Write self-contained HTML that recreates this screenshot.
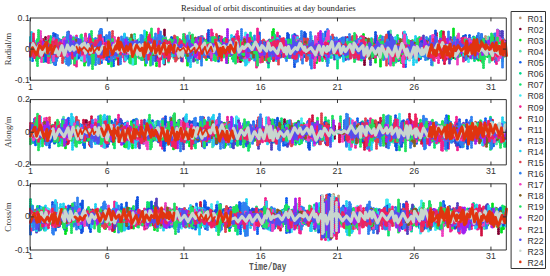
<!DOCTYPE html>
<html><head><meta charset="utf-8"><style>
html,body{margin:0;padding:0;background:#fff;}
body{width:550px;height:276px;position:relative;overflow:hidden;}
svg{position:absolute;left:0;top:0;}
.t{position:absolute;font-family:"Liberation Serif",serif;font-size:8.7px;line-height:10px;color:#222;white-space:nowrap;}
.xt{position:absolute;width:20px;text-align:center;font-family:"Liberation Sans",sans-serif;font-size:8.8px;line-height:10px;color:#333;}
.yt{position:absolute;right:520.2px;font-family:"Liberation Sans",sans-serif;font-size:8.8px;line-height:10px;color:#333;text-align:right;}
.yl{position:absolute;left:-22.5px;width:60px;height:10px;margin-top:-5px;text-align:center;font-family:"Liberation Serif",serif;font-size:8.8px;line-height:10px;color:#333;transform:rotate(-90deg);transform-origin:50% 50%;}
.lg{position:absolute;left:527.6px;font-family:"Liberation Sans",sans-serif;font-size:8.7px;line-height:10px;color:#333;}
.xl{position:absolute;font-family:"Liberation Mono",monospace;font-weight:bold;font-size:10px;line-height:10px;color:#555;transform:scaleX(0.78);transform-origin:0 0;}
</style></head><body>
<svg width="550" height="276" viewBox="0 0 550 276" fill="none" stroke-linecap="round" stroke-linejoin="round">
<g transform="translate(30.50 49.10) scale(0.5)"><path stroke="#b89878" stroke-width="6.0" stroke-dasharray="0 4.0" d="M0-5v6m6-11v12m2-13v15m8-13v18m2-15v13m2-7v10m2-10v17m6-17v7m10-23v25m2-13v10m4-11v15m2-29v27m2-19v23m2-17v9m2-8v6m8-15v14m2-18v18m2-5v7m4-8v7m2-11v14m2-12v11m2-9v7m4-2v4m2-4v1m2-7v11m4-7v10m6-9v8m2-14v11m4-5v9m6-11v7m6-10v6m2-8v12m10-11v5m12-12v16m2-29v43m2-23v29m2-28v13m2-13v10m2-12v17m4-15v5m6-10v14m2-8v20m2-31v20m16-14v8m2-9v8m4-2v6m2-3v1m2-2v7m2-8v7m6-14v20m6-29v23m2-18v24m2-15v5m2-2v11m2-25v26m6-15v12m2-9v9m2-12v5m2-5v6m2-19v19m2-22v29m2-16v17m4-20v13m8-7v4m2-5v6m2-3v12m2-14v7m6-7v9m2-16v16m2-16v22m6-27v17m2-18v26m4-24v16m2-17v25m4-16v9m2-8v9m2-9v18m4-16v13m12-16v15m2-8v16m4-16v23m4-36v23m2-9v11m4-13v9m14-6v12m18-19v6m4-6v8m2-8v10m8-10v2m2-4v13m2-21v17m4-10v6m2-11v13m2-10v9m8-5v4m8-12v20m2-13v21m2-20v12m4-11v8m2-7v16m2-11v1m2-8v20m2-17v17m8-19v13m2-21v19m2-9v2m8-7v6m4-8v13m4-9v6m8-1v2m6 1v6m4-7v14m2-28v27m2-13v9m4-12v6m14-13v29m4-25v11m2-6v6m6-9v9m2-6v5m4-11v18m2-23v23m2-31v32m2-23v30m2-22v12m4-9v8m2-18v17m6-7v7m8-7v7m2-7v15m6-19v12m2-8v10m8-11v6m2-21v23m4-6v0m4-5v7m2-9v10m4-14v22m2-17v10m6-12v15m2-16v11m6-5v11m2-19v30m2-24v17m2-13v6m4-6v10m12-10v1m26-2v16m6-16v9m6-9v6m2-10v7m6-5v10m16-9v10m2-17v21m4-18v11m6-10v7m4-4v5m12-5v6m6-13v11m4-5v10m2-15v12m26-12v10m2-7v10m2-16v13m2-8v18m2-19v21m2-19v19m8-19v22m4-25v14m2-14v14m4-12v9m8-4v8m6-5v11m2-11v5m8-11v6m2-4v3m2-5v11m2-21v22m2-22v17m2-5v3m2-8v5m4-4v7m2-11v9m8-8v11m6-6v2m20-1v17m4-17v20m2-19v11m12-12v7m2-21v24m2-17v20m2-20v21m2-21v7m2-7v8m2-5v8m2-9v4m4-16v19m2-7v23m2-40v34m2-35v27m2-10v12m16-13v12m2-8v19m8-13v0m4-5v6m2-7v10m2-11v8m2-10v14m2-11v7m6-11v9m2-4v9m2-16v14m4-26v23m2-6v14m2-12v6m2-10v14m2-10v2m8-3v8m2-11v9m4-12v22m2-30v28m2-27v24m2-23v19m6-8v9m2-19v20"/><path stroke="#800030" stroke-width="6.0" stroke-dasharray="0 4.0" d="M4-4v14m2-13v18m2-14v1m2-3v8m2-7v1m4-3v7m2-11v8m6 0v0m4-11v25m2-39v43m2-21v13m10-14v18m2-16v7m6-5v0m2-8v11m2-5v16m6-30v18m2-21v21m14-9v16m8-22v11m2-5v9m2-17v14m2-9v22m2-25v13m4-20v22m4-16v11m6-3v1m2 0v5m4-6v8m4-8v10m8-18v14m2-8v9m4-15v19m2-26v22m2-15v13m2-5v10m4-10v7m2-23v23m6-3v1m4-3v11m2-15v8m6-6v9m6-8v10m2-7v12m2-16v10m6-5v8m10-10v6m4-9v13m4-7v7m8-13v13m2-11v6m8-8v13m2-24v24m4-16v13m2-10v13m2-21v11m10 0v7m2-6v18m2-26v26m4-20v17m2-16v13m12-10v8m2-10v7m2-4v1m4-6v11m6-47v69m2-46v28m6-9v2m2-3v13m2-14v13m6-20v11m6-13v14m2-6v19m2-22v18m4-19v8m10-5v12m4-21v18m2-16v16m6-16v21m2-13v16m2-15v9m2-9v9m4-10v8m4-7v1m2-7v10m2-15v28m2-24v15m6-11v8m4-11v8m2-6v9m4-9v18m2-33v32m2-25v28m2-28v23m2-18v12m4-12v7m4-12v10m2-6v6m2-25v29m6-18v14m2-8v9m4-7v13m2-11v6m4-7v8m2-10v17m2-25v30m2-26v18m4-7v1m2-10v15m2-13v22m2-19v9m4-9v8m2-6v18m2-19v29m2-37v19m6-6v10m2-10v9m10-8v7m4-9v8m6-10v7m2-12v19m2-15v10m4-12v7m10-11v8m2-4v11m8-23v18m2-8v12m4-17v9m2-3v7m6-8v12m10-12v5m12-6v9m2-15v18m2-19v13m2-14v20m2-11v12m2-14v11m8-24v20m2-17v13m2-8v12m6-6v6m4-13v27m2-28v24m4-26v18m2-19v27m2-22v16m2-15v6m4-7v7m4-3v4m2-9v10m2-6v16m4-22v32m2-21v10m2-9v1m8-2v6m8-6v7m4-19v29m2-25v22m10-11v3m2-13v21m4-14v6m2-9v17m2-17v10m2-5v3m2-6v7m8-13v17m2-12v10m2-11v8m2-10v10m4-11v10m2-5v2m2-13v15m6-6v11m2-14v17m2-22v23m4-30v27m2-11v9m6-11v44m2-56v28m8-15v15m2-9v15m2-17v8m2-18v23m2-16v27m2-25v9m4-9v9m2-5v2m8-7v11m2-8v18m2-25v15m2-6v7m6-7v4m4-12v30m2-23v8m4-7v9m2-11v10m6-14v5m2-3v11m2-16v7m4-2v5m2-8v11m2-10v3m2-26v38m2-24v30m2-23v13m6-10v10m6-8v7m2-9v15m4-13v8m14-5v11m2-13v10m2-7v4m2-4v8m2-12v6m14-16v13m2-10v13m22 1v1m2-4v17m10-17v3m2-5v9m4-14v25m2-26v19m12-17v9m10-10v11m2-16v12m2-5v8m2-10v9m2-10v15m2-19v13m4-4v16m8-24v11m2-4v7m2-13v11m6-5v0m4-2v12m2-19v13m2-5v9m4-6v7m4-5v5m8-2v1m4-4v6m2-7v8m8-7v7m6-3v9m2-9v1m2-6v7"/><path stroke="#00e020" stroke-width="6.0" stroke-dasharray="0 4.0" d="M0-18v23m4-17v22m2-16v13m2-11v11m2-8v15m2-16v25m2-24v6m2-9v22m2-25v16m2-10v9m2-14v27m2-31v24m2-20v12m2-1v1m2-12v27m4-36v43m2-43v26m2-23v21m2-13v6m2-10v12m2-20v23m6-10v8m8-10v9m2-13v15m2-20v17m4-7v2m4-8v11m4-5v9m2-7v15m2-13v12m2-11v9m10-5v9m2-28v26m2-14v24m8-19v4m4-7v19m2-23v38m2-60v56m4-26v7m4-7v0m6-5v10m2-9v8m2-18v16m2-21v40m2-28v14m2-12v15m2-34v27m2-8v5m12-9v16m4-34v35m2-15v34m10-32v8m4-11v27m2-23v14m2-27v20m2-17v44m2-38v23m6-24v11m2-20v21m4-11v6m8-4v4m2-13v14m2-8v13m8-13v8m2-7v2m4-16v19m4-4v6m6-22v25m2-14v25m2-33v50m2-67v54m6-26v8m2-13v13m4-17v24m2-11v6m2-9v6m2-6v13m2-28v55m4-49v39m4-29v16m2-12v8m2-19v26m6-29v14m2-14v11m2-5v15m2-24v31m4-24v7m14-2v19m2-18v6m2-8v11m14-5v20m2-25v37m4-39v17m2-23v23m2-12v9m4-10v19m2-30v16m2-21v41m8-26v9m6-11v9m2-17v18m2-6v17m2-33v32m2-26v34m6-46v41m2-24v8m4-13v14m2-20v28m2-18v7m6-23v34m6-19v23m6-23v9m2-14v15m4-10v29m2-34v41m2-42v27m2-18v18m2-18v13m2-18v20m2-11v22m4-19v16m4-18v13m2-8v17m6-28v27m2-12v15m2-24v16m2-9v18m2-37v34m4-19v20m2-16v7m16-19v18m2-25v18m2-6v3m2-6v4m10-5v28m2-39v38m2-24v5m6-16v17m2-17v26m2-21v14m2-12v13m2-42v43m2-48v47m2-15v7m10-14v27m2-13v8m2-9v6m6-6v6m4-18v22m4-13v21m4-27v17m4-15v20m2-26v16m2-20v18m4-7v16m2-23v33m2-39v23m8-7v6m4-11v13m2-15v17m2-19v23m2-20v15m2-5v5m8-13v13m2-4v0m2 0v2m2-6v5m2-11v38m2-30v21m6-36v37m2-28v9m4-16v24m2-13v9m2-9v11m2-15v11m2-11v13m2-9v22m2-21v12m2-17v10m2-4v7m2-23v23m8-4v1m2-2v6m2-9v6m2-3v18m4-24v10m10-7v10m4-22v26m2-30v23m2-13v12m2-7v9m2-9v20m2-22v19m4-18v13m4-5v13m4-33v30m2-22v24m6-45v47m2-23v23m2-19v12m4-16v7m2-4v13m2-20v26m2-20v18m2-22v19m4-15v8m4-23v48m2-37v11m6-7v18m2-33v56m4-46v22m2-26v23m2-21v28m2-28v18m4-34v35m14-9v2m2-6v16m4-23v16m2-18v17m4-14v29m2-32v44m2-42v25m10-16v7m2-9v11m2-7v12m6-25v26m2-20v11m2-14v10m2-18v17m2-3v6m2-7v12m4-18v15m4-11v8m4-5v4m4-3v11m2-17v12m2-8v9m6-7v14m4-18v21m2-17v9m4-15v24m6-26v9m4-7v21m2-47v51m4-25v7m10-8v9m4-5v3m2-7v32m4-62v47m2-25v25m6-23v26m6-13v11m2-20v21m12-16v14m16-12v11m2-9v16m2-17v27m2-37v37m2-35v21m10-11v19m2-21v13m2-6v10m2-10v14m2-27v23m2-20v19m4-10v22m2-26v7m2-15v14m2-15v14m4-10v7m2-14v21m6-10v8m6-16v17m2-16v26"/><path stroke="#50e0a8" stroke-width="6.0" stroke-dasharray="0 4.0" d="M2-4v12m2-16v16m4-19v15m4-8v11m6-7v2m4-10v15m2-9v12m2-17v22m4-22v25m2-16v10m6-14v12m2-19v39m2-37v29m10-33v16m2-10v12m6-10v6m4-6v11m4-20v17m4-17v15m2-7v7m2-14v13m2-8v13m6-14v8m2-6v17m2-16v14m4-18v13m2-24v24m2-22v22m2-19v17m2-16v16m2-10v7m2-9v13m4-24v30m4-18v23m4-17v6m8-10v17m2-30v20m4-8v7m6-1v10m4-9v1m6-9v9m2-7v13m6-14v8m2-11v7m2-3v10m2-22v20m8-4v8m2-15v23m2-25v15m2-5v3m2-7v7m2-11v22m4-19v10m2-11v8m2-3v10m2-15v22m2-19v13m2-14v8m2-25v38m2-19v13m2-24v24m2-16v12m2-14v7m4-7v12m10-15v6m2-9v12m2-8v5m14 0v7m6-21v33m2-42v37m4-16v16m2-24v19m2-20v22m2-20v21m4-13v9m4-6v8m6-5v7m2-25v28m2-23v27m2-13v8m2-7v11m2-23v37m2-44v37m2-19v16m6-16v17m2-19v22m22-28v8m2-9v12m4-21v26m2-41v41m2-24v19m4-10v11m2-14v14m6-11v25m2-28v40m2-44v23m6-17v11m2-29v34m2-17v23m2-27v11m2-1v8m2-8v9m2-9v13m4-17v11m4-2v1m6-3v12m2-17v23m2-34v23m2-7v12m2-13v12m8-10v1m4-13v12m4-7v9m2-10v8m4-7v1m8-7v17m2-16v11m4-7v7m6 1v1m4 0v6m2-15v25m4-17v7m2-4v0m6-6v15m2-16v19m4-21v15m6-29v36m2-23v26m2-26v10m2-6v8m2-14v19m2-17v17m8-28v27m2-22v14m2-9v10m8-18v18m2-20v19m4-16v19m2-15v18m2-12v15m2-18v21m6-12v1m8-8v11m2-14v12m2-7v9m4-11v15m2-34v25m2-15v13m4-15v33m2-31v18m2-19v18m2-8v22m4-21v13m2-12v6m4-5v12m2-23v19m4-13v12m2-5v8m10-9v2m2-9v10m4-12v9m4-9v8m10-2v10m4-13v11m2-16v17m2-13v23m2-27v32m2-23v9m2-9v12m2-13v14m2-14v4m2-1v0m2-3v8m2-7v13m2-26v34m2-26v25m2-28v21m8-15v9m2-7v8m8-11v16m4-14v14m8-18v9m2-4v2m2-6v6m4-13v15m2-17v20m4-15v15m4-5v8m4-11v16m16-17v6m4-9v10m2-12v12m4-13v8m4-6v14m2-17v17m2-17v11m2-16v26m2-17v8m2-10v9m2-11v22m2-18v6m6-10v9m2-16v14m2-19v36m2-31v17m2-23v19m4-7v8m2-32v43m2-30v24m4-12v12m24-5v14m6-18v14m2-9v10m6-8v7m2-8v13m10-17v12m4-11v8m2-2v5m2-7v8m2-11v10m8-11v12m4-21v30m6-16v33m2-57v46m2-25v18m2-16v8m2-6v10m10-11v8m2-8v3m10-6v15m2-14v11m4-11v7m2-18v21m2-25v22m2-20v18m2-9v8m2-12v13m4-19v27m2-32v25m2-18v17m4-14v13m2-7v1m2-4v7m4-12v17m4-11v7m6-8v6m2-2v5m4-10v9m8-8v14m2-16v10m2-15v21m8-15v14m8-6v15m2-38v34m2-8v25m2-30v11m10-17v13m4-15v15m2-8v6m2-3v6m4-11v22m2-37v33m6-21v10"/><path stroke="#1060f0" stroke-width="6.0" stroke-dasharray="0 4.0" d="M2-14v23m2-22v37m2-31v16m2-15v7m2-5v11m10-18v23m2-11v18m18-37v24m2-27v28m4-38v56m2-39v32m2-20v6m2-5v1m2-5v7m2-22v34m4-14v7m6-13v18m4-18v14m2-12v23m4-23v7m2-25v28m2-17v30m2-28v15m8-15v25m4-30v23m2-19v29m2-23v13m6-21v30m2-23v13m2-22v35m2-35v40m2-29v18m6-22v14m12-8v2m8-11v15m2-22v21m2-13v38m2-32v12m2-9v6m6-5v23m2-40v29m2-12v27m2-41v20m2-12v25m2-17v15m2-42v45m2-40v54m2-47v18m4-4v7m2-12v9m2-10v8m2-4v8m4-10v9m2-14v15m4-36v45m2-29v35m4-41v28m2-11v22m10-20v5m2-13v13m2-10v13m4-11v6m2-7v7m12-8v15m2-15v20m2-21v15m8-16v9m4-10v7m6-9v21m6-14v9m6-8v6m2-11v6m2-6v8m4-7v11m2-18v23m6-17v14m2-22v19m2-13v8m6-12v14m2-16v15m2-11v20m2-27v19m6-15v19m6-27v21m2-16v17m4-13v19m4-19v12m12-19v16m2-12v13m2-6v8m2-13v9m8-4v7m2-11v7m2-14v21m4-13v8m4-5v6m8-9v33m2-36v21m6-12v6m10-6v8m2-6v20m2-21v10m4-8v3m2-7v20m2-23v23m2-27v18m2-10v8m8-6v14m4-35v45m2-30v27m6-21v10m2-7v2m2-3v8m2-16v10m2-18v26m2-28v23m2-16v27m2-22v19m2-19v12m2-12v7m6-4v11m2-28v28m2-20v20m8-17v17m4-16v28m2-51v40m4-14v18m6-15v7m8-5v2m10-7v12m2-20v18m4-16v11m2-6v9m2-17v28m2-38v29m10-14v15m2-23v24m4-12v9m2-7v7m2-19v30m2-17v17m4-23v25m2-25v11m4-27v41m2-42v43m8-21v7m6-6v7m2-8v10m2-11v11m4-12v13m2-17v11m6-15v14m2-4v9m2-15v13m4-27v29m2-10v12m16-19v23m2-45v44m2-23v28m6-31v26m2-18v13m6-13v9m6-15v21m2-14v8m2-12v14m2-18v14m2-16v17m2-11v21m4-23v12m4-13v12m4-9v10m2-10v12m4-15v16m2-24v32m4-17v8m8-12v16m6-19v23m2-25v13m4-4v3m6-6v8m2-3v9m2-7v2m2-3v13m16-12v4m4-12v28m14-24v22m4-43v50m2-39v22m8-17v39m6-41v18m2-6v9m6-13v8m4-10v9m6-30v67m2-58v42m2-29v6m4-2v6m8-15v28m2-19v12m2-15v8m4-5v7m2-15v24m2-18v21m2-25v29m2-23v19m6-12v0m8-12v25m6-11v5m8-11v12m4-11v8m2-9v8m6-9v12m6-17v24m2-37v32m6-17v9m2-11v19m2-17v26m2-28v8m2-6v14m2-28v22m2-10v15m2-24v19m2-12v10m2-16v14m4-14v11m4-5v6m4-20v35m2-17v17m2-32v43m4-31v9m4-14v19m8-31v31m8-13v25m4-22v2m2-7v21m2-21v12m2-18v17m2-10v11m2-14v9m2-14v14m2-11v15m2-9v7m2-3v8m2-21v24m2-10v11m6-14v13m2-23v21m2-26v46m2-35v31m2-30v20m2-15v7m2-6v5m2-10v6m6-5v10m2-13v12m2-15v16"/><path stroke="#00d890" stroke-width="6.0" stroke-dasharray="0 4.0" d="M0-5v11m6-9v13m2-15v12m2-9v0m4-16v22m2-10v15m4-27v18m2-9v17m4-27v48m2-37v20m4-28v13m4-6v10m4-6v4m4-11v26m6-21v7m2-15v14m2-5v9m2-8v10m2-18v25m2-30v16m2-8v23m6-34v22m6-5v8m2-12v7m4-11v10m2-9v12m4-8v10m2-15v10m8-16v23m2-15v18m6-5v9m2-14v23m2-20v9m2-12v14m4-10v9m6-10v4m4-5v9m2-10v19m4-19v6m2-2v9m4-16v11m6-8v8m12-12v8m2-15v17m2-14v12m12-8v8m8-9v7m4-12v10m6-4v7m4-9v7m6-3v7m4-12v9m12-7v11m4-8v11m2-9v5m2-4v7m10-17v20m2-22v22m8-21v32m4-25v9m2-8v18m2-13v12m2-13v17m6-14v7m2-7v7m2-11v9m2-9v11m2-11v5m6-5v6m12-11v16m6-11v10m2-11v4m8-11v15m4-9v7m4-7v7m2-28v24m2-7v27m2-28v8m4-11v5m10-5v13m4-15v19m2-24v30m4-23v5m8-7v13m2-9v23m2-20v20m2-20v13m2-24v30m2-27v30m4-23v11m6-12v12m2-18v28m2-29v28m10-15v12m2-13v13m2-9v6m2-19v19m2-10v15m2-11v0m2-5v10m4-10v10m2-11v9m4-17v16m2-25v36m2-35v45m2-45v28m2-12v17m2-18v7m12-9v13m2-10v0m2-6v14m2-24v27m2-26v22m4-12v20m2-33v21m2-31v48m2-37v43m2-29v7m2-4v9m2-10v7m12-7v10m2-5v10m4-10v9m2-19v15m4-8v7m2-6v31m2-45v54m4-46v12m10-27v19m2-11v31m6-33v14m2-11v11m4-6v9m4-8v11m4-11v9m4-5v6m2-9v13m6-15v21m2-29v26m2-15v23m6-19v8m8-27v37m2-31v25m4-13v10m4-9v8m2-15v15m2-9v16m2-26v20m4-12v18m6-23v16m2-14v14m12-17v24m2-30v36m2-28v20m2-14v0m4-8v10m4-8v11m2-8v9m2-7v21m8-16v2m10 0v2m2 0v0m8-8v8m6-14v28m2-31v18m2-6v2m2-6v7m6-9v7m2-7v14m2-13v6m2-7v16m2-11v2m4-9v14m2-13v29m2-24v27m6-38v17m2-12v25m8-26v26m2-23v11m4-8v5m4-10v13m2-11v15m4-25v20m2-9v17m2-26v17m2-17v12m4-6v8m2-6v21m2-28v27m2-17v2m4-1v1m10-17v21m2-4v18m4-30v22m4-17v13m2-13v10m6-14v12m2-8v7m2-11v10m4-5v5m6-5v11m2-11v15m2-15v9m2-5v6m14 1v4m4-9v16m2-15v13m2-23v20m2-15v12m6-7v10m2-26v39m2-43v23m4-4v1m2-8v8m2-9v20m2-21v33m2-38v30m2-34v32m2-28v16m2-10v4m4-6v6m4-10v11m4-5v11m2-8v3m6-2v17m2-25v35m4-27v25m2-33v18m2-13v9m4-10v11m2-15v33m2-30v24m2-30v25m2-14v12m4-22v30m2-23v13m4-27v19m2-18v21m6-12v11m2-3v7m2-11v8m6-7v15m4-25v42m6-46v30m4-13v6m2-7v11m2-14v15m2-14v10m2-11v9m8-10v18m4-13v11m2-5v9m4-19v21m12-13v6m8-6v25m2-40v22m2-6v6m2-4v3"/><path stroke="#10e070" stroke-width="6.0" stroke-dasharray="0 4.0" d="M2-6v14m2-23v20m2-18v13m4-8v12m2-10v8m2-9v10m10-11v17m6-17v10m2-4v5m2-7v13m6-34v41m2-22v23m2-20v12m6-10v12m2-15v7m4-11v21m2-22v20m4-16v8m4-26v25m2-10v14m4-13v7m2-12v18m6-26v51m2-46v18m6-7v11m6-8v19m2-18v13m4-18v11m2-8v25m4-25v13m12-30v41m4-25v17m2-20v25m2-25v8m4-7v12m2-10v9m2-6v7m2-15v21m2-14v9m12-6v5m2-8v11m4-22v20m2-7v4m2-11v14m2-26v56m4-47v26m2-34v25m2-6v1m2-13v15m2-16v16m2-14v17m2-9v8m4-15v14m4-11v9m2-12v30m2-28v21m2-16v8m2-9v12m4-12v30m2-47v30m4-25v25m2-21v41m2-60v36m2-22v48m10-33v6m6-6v10m4-9v6m2-12v7m2-10v31m2-24v2m8-4v1m4-3v7m4-8v11m4-9v19m2-14v9m4-17v16m2-6v8m2-11v5m2-3v12m2-16v11m2-18v12m2-5v22m8-22v2m4-4v14m2-23v32m2-27v12m2-8v9m8-9v10m2-6v3m4-9v9m2-14v12m8-15v16m6-4v1m10-10v25m4-13v6m4-2v6m2-11v6m2-2v5m14-9v2m2-3v7m2-5v6m2-9v8m2-10v12m6-9v8m4-7v4m2-13v14m2-28v28m2-14v15m2-8v6m2-6v16m2-13v8m4-8v7m10-7v0m6-5v10m2-20v23m2-13v5m2-5v13m2-12v6m2-3v10m2-21v17m4-7v10m2-6v12m8-16v20m2-38v26m2-16v27m2-38v32m2-35v24m12-4v5m2-6v16m2-22v22m4-14v4m2-3v8m2-14v12m2-5v3m6-12v13m2-17v16m2-9v8m2-19v16m4-10v10m2-22v21m2-26v52m2-49v30m2-14v6m6 0v5m2-4v3m4-11v16m2-5v9m2-9v7m2-22v25m4-17v21m2-18v7m2-23v37m8-31v26m2-14v11m6-18v16m2-9v10m4-11v10m4-13v14m2-19v25m2-20v15m10-17v28m2-35v34m6-31v21m6-20v13m2-7v11m6-5v5m2-10v9m2-11v31m2-33v20m4-14v7m2-22v43m4-30v22m4-24v8m6-11v13m2-16v11m2-14v14m2-14v22m2-22v53m2-42v20m2-27v19m2-10v12m2-17v15m2-12v16m4-18v15m2-7v11m6-15v19m2-13v14m2-17v9m2-10v14m4-16v16m2-39v42m4-26v13m2-11v16m2-14v15m2-16v12m2-17v11m2-7v18m4-14v1m4-17v26m2-12v8m4-14v11m2-7v10m2-6v0m2-1v13m2-14v19m4-22v16m2-30v37m2-28v27m6-37v40m2-44v38m2-17v16m2-12v2m6-5v8m10-16v16m2-28v34m2-24v17m8-10v7m2-27v39m2-33v46m2-41v32m2-32v14m2-4v7m2-14v14m10-7v18m2-17v16m2-20v9m2-7v18m4-28v23m2-11v11m6-16v29m4-28v23m2-37v27m2-16v32m6-27v17m10-9v17m4-20v20m2-17v12m2-10v6m4-23v18m4-6v7m2-17v16m6-11v4m2-3v5m2-7v10m2-23v21m8-12v9m2-13v14m4-6v9m2-11v9m22-10v20m2-34v44m2-36v24m12-25v31m2-27v35m2-28v20m6-13v4m2-9v15m2-14v19m2-15v7m2-11v8m16-7v6m4-13v26m12-24v12m4-10v18m2-30v26m6-19v25m2-26v17m2-13v10m2-7v12"/><path stroke="#40e8f0" stroke-width="6.0" stroke-dasharray="0 4.0" d="M0-23v45m2-32v16m8-16v8m6-6v5m2-4v12m4-24v28m2-22v17m4-15v11m4-9v6m6-7v5m2-13v20m2-10v7m2-16v13m4-3v11m2-15v18m2-16v30m8-28v6m2-8v10m2-7v12m4-9v2m2-5v8m2-10v6m4-3v5m4-8v5m2-7v26m2-25v31m2-46v32m2-21v15m2-13v10m8-12v20m2-33v46m2-33v33m2-42v36m2-22v35m2-34v28m2-25v6m4-13v21m2-14v18m2-18v8m2-4v13m2-12v8m2-19v23m2-10v12m2-18v21m6-18v5m2-8v11m2-19v35m2-46v37m2-14v2m4-8v17m8-12v6m8-9v7m2-5v4m2-6v22m2-24v21m6-16v6m2-3v6m6-7v8m2-6v5m4-14v16m2-9v10m4-5v0m2-4v9m4-9v8m2-7v15m2-33v47m2-59v48m2-24v30m2-28v10m2-16v14m2-20v22m2-18v10m2-21v28m2-36v28m4-9v24m2-23v13m4-11v1m8-5v12m4-2v6m6-20v23m2-22v40m14-30v7m4-10v13m8-14v10m2-10v14m2-17v18m2-20v14m4-9v9m6-13v11m2-13v30m2-27v22m8-28v22m2-12v10m4-13v11m2-9v16m2-28v20m4-13v32m6-31v11m2-14v28m4-24v12m2-10v20m2-15v8m4-10v15m2-10v6m4-13v11m6-7v9m4-19v30m2-17v0m2-9v20m2-16v15m6-21v24m4-20v12m2-9v5m4-2v7m2-11v10m2-9v7m8-3v6m2-11v10m6-21v21m2-18v20m2-26v32m2-23v17m2-13v14m2-9v15m2-18v8m4-9v10m2-16v22m2-12v12m2-11v6m4-15v11m2-12v24m2-20v14m2-17v34m2-58v52m2-27v13m2-12v32m2-44v45m2-31v9m2-12v11m10-15v9m2-18v19m4-4v7m8-10v8m2-5v3m10-14v14m2-9v18m4-15v13m2-24v28m2-14v11m2-13v15m2-11v6m4-7v6m2-14v26m4-22v5m2-1v1m2-5v11m2-11v13m2-8v5m2-15v16m2-16v17m2-7v6m2-3v7m6-7v13m2-27v34m2-35v36m2-21v15m4-16v6m2-10v10m4-16v11m2-9v11m4-9v6m2-11v13m2-15v25m2-25v25m2-17v6m2-4v7m2-7v11m2-14v26m2-33v45m2-56v46m10-21v8m2-5v7m2-10v11m10-12v19m6-23v17m2-18v12m4-16v17m6-8v7m8-2v13m2-33v35m2-37v39m2-29v18m6-10v14m2-26v26m2-15v8m2-18v13m4-13v12m2-10v10m8-7v9m4-13v12m4-11v20m2-18v17m4-19v7m6-16v26m8-14v11m6-7v13m4-30v36m2-33v21m2-10v11m2-8v11m6-6v1m4-8v20m2-35v36m2-27v23m4-18v14m2-6v10m6-13v7m2-29v36m2-29v22m4-10v6m4-10v5m4-15v22m2-19v12m4-13v15m4-15v24m2-14v8m2-15v9m4-10v11m2-12v14m2-17v21m2-14v18m2-15v13m2-16v33m8-31v20m2-22v16m2-15v23m2-35v33m2-18v9m6-6v13m2-15v13m2-12v6m4-1v7m2-17v20m18-13v11m4-8v3m2-10v9m2-8v8m4-8v16m2-14v9m2-7v11m2-10v8m2-8v3m2-7v7m4-11v13m2-22v21m6-8v8m2-18v15m2-16v29m4-29v15m2-9v9m12-22v26m2-13v35m6-46v37m4-32v43m2-30v5m2-18v27m2-33v28m2-14v9m2-11v13m2-6v3m4-4v9m2-10v16m2-16v24m2-20v15m2-23v17m2-14v8m8-8v8m4-4v10m6-23v18m6-7v5m4-10v10m2-11v14m4-11v8m4-6v15m2-27v25m2-11v5m2-6v11"/><path stroke="#f02090" stroke-width="6.0" stroke-dasharray="0 4.0" d="M4-6v10m2-8v9m4-12v9m2-12v6m2-5v11m2-12v13m2-16v10m2-14v13m2-7v9m6-11v13m6-7v35m2-53v54m2-45v20m2-14v12m2-18v30m2-21v13m8-11v4m2-13v24m6-14v8m4-17v15m2-5v16m6-17v14m2-30v50m2-40v25m2-24v10m4-3v0m2-20v30m4-29v55m4-60v62m2-47v13m2-5v7m2-11v6m6-8v18m6-39v32m4-9v17m4-16v7m4-4v25m2-29v38m4-38v18m2-12v7m2-6v6m2-1v0m4-8v22m2-20v18m2-23v12m2-12v7m2-4v8m2-14v10m2-12v28m4-35v20m2-27v37m2-41v52m2-40v27m4-21v16m2-20v29m4-27v18m6-12v9m4-3v15m2-22v28m6-32v37m8-21v0m4-12v16m2-8v7m4-4v6m2-16v16m6-17v14m2-10v21m2-20v11m10-19v18m6-16v17m2-16v32m2-36v22m2-14v16m2-17v12m2-16v14m2-14v9m2-10v13m2-10v17m4-32v48m2-66v49m2-35v64m4-52v36m4-33v25m4-26v14m10-12v17m2-5v1m16-8v7m2-3v9m2-11v21m2-26v34m4-55v36m2-16v19m12-20v11m4-13v15m2-15v28m4-25v8m2-11v13m4-7v10m2-14v24m2-39v36m4-32v27m2-22v16m2-15v16m2-18v14m2-27v32m4-9v7m2-21v35m2-52v62m2-55v41m2-15v10m2-23v21m2-14v28m2-33v18m2-9v21m2-23v21m2-22v13m2-22v37m2-42v24m8-3v10m2-6v2m2-5v7m2-6v9m4-15v12m2-15v20m4-20v13m2-9v8m4-31v42m2-48v64m4-35v11m2-11v20m4-22v14m4-20v33m2-37v48m2-34v18m4-20v11m2-19v38m4-39v22m4-15v14m4-18v16m2-20v54m2-78v74m2-60v39m2-14v5m2-10v33m2-34v25m4-18v7m4-20v22m2-11v8m2-12v16m2-23v17m2-10v9m2-16v12m2-12v24m2-34v26m4-17v13m2-13v15m2-18v34m2-49v34m2-23v33m6-12v16m2-17v14m6-19v6m6-8v11m4-14v21m4-36v25m2-5v3m2-5v12m2-21v21m2-28v37m2-38v37m2-19v13m2-16v19m2-15v11m4-31v43m6-23v10m2-10v7m4-10v23m2-16v8m4-22v19m2-10v16m4-24v54m2-55v35m4-33v23m2-40v38m2-24v42m2-37v22m4-21v11m2-6v8m2-19v36m2-28v31m2-36v30m2-32v23m2-9v11m4-16v9m4-15v22m2-12v13m2-15v8m6-10v15m4-10v0m2-7v11m4-22v29m2-20v12m2-6v8m2-20v24m2-9v15m2-24v12m4-7v18m2-17v16m2-26v20m2-17v23m2-17v16m2-14v8m2-32v32m2-29v39m10-39v25m4-24v23m2-9v21m8-28v15m2-6v16m4-15v7m8-12v29m2-43v36m2-23v22m2-13v9m2-13v23m2-21v8m4-3v11m4-12v10m2-12v12m4-11v12m2-38v39m8-13v10m4-16v14m4-9v12m12-14v27m2-54v71m2-52v35m2-32v13m4-13v28m2-24v27m2-29v15m6-11v4m4-8v13m6-14v12m2-21v26m2-19v18m2-25v19m2-22v25m2-7v10m4-13v8m2-11v13m4-20v23m4-19v17m2-7v21m6-32v22m2-24v31m2-28v22m4-24v26m2-20v39m2-31v7m4-17v19m2-11v16m4-13v1m2-2v14m2-15v23m2-27v25m12-27v18m4-21v21m12-9v2m2-4v16m2-23v33m2-40v17m4-22v28m4-14v4m2-5v16m2-22v24m4-16v8m2-17v15m2-16v20m4-25v32m4-22v11m4-4v7m16-12v8m4 0v5m2-5v13m4-16v11m2-12v9m4-8v36m6-40v25m2-32v19m2-9v8m8-4v6"/><path stroke="#d01040" stroke-width="6.0" stroke-dasharray="0 4.0" d="M2-5v6m4-4v8m2-14v11m2-7v6m4-8v11m2-15v18m2-12v9m2-11v12m2-10v8m2-7v15m2-30v36m2-17v8m2-8v7m8-7v2m2-7v7m2-9v21m2-16v12m2-13v10m4-10v7m18-9v13m2-17v17m2-9v12m2-10v6m2-5v0m4-5v11m6-15v12m2-14v21m6-21v9m2-6v5m2-6v6m2-7v6m2-13v18m2-16v11m2-4v1m4-8v11m2-11v18m4-14v5m12-2v9m2-6v6m2-12v11m2-7v8m4-8v5m8-7v14m4-18v14m6-17v23m2-16v15m2-14v1m2-3v3m10-1v16m2-25v36m2-43v54m2-39v34m2-35v14m2-6v6m2-6v11m2-18v14m4-14v11m10-4v3m2-3v1m2-9v13m2-8v8m2-20v22m2-16v23m8-16v10m2-12v17m2-13v11m2-13v5m2-7v27m2-23v24m2-35v16m2-18v23m2-10v17m2-31v21m2-21v30m2-13v4m8-10v7m2-21v28m2-19v25m4-19v8m2-22v26m2-13v7m2-6v9m2-8v21m2-29v14m2-6v10m2-8v1m2-2v10m2-14v7m2-5v19m2-29v15m2-8v12m2-16v19m2-19v12m2-19v26m2-15v21m6-25v8m2-3v7m2-14v15m2-13v14m10-12v12m2-10v4m2-19v25m4-16v7m2-5v13m2-30v37m4-16v7m4-9v17m2-19v12m6-13v18m2-21v21m2-18v8m4-14v20m2-13v19m4-28v23m2-16v11m2-3v6m2-14v16m2-12v16m4-10v6m8-11v15m4-10v5m4-6v4m8-2v1m4-9v21m4-25v15m4-14v12m2-3v4m2-10v9m2-7v7m4-2v8m2-10v8m2-12v27m2-41v28m10-25v34m4-16v8m4-8v8m2-11v11m6-16v13m2-10v7m6-6v21m2-27v36m4-30v5m12-6v9m2-11v14m4-15v9m6-8v21m2-13v1m2-3v12m2-28v44m2-44v30m4-31v34m4-20v9m2-12v11m2-10v23m4-21v7m4-8v6m2-10v9m8-3v1m4-4v14m2-14v15m2-16v6m2-6v7m4-14v17m2-4v5m6-6v12m2-13v7m6-11v17m2-20v13m6-19v21m2-15v21m2-19v17m2-15v9m4-8v6m4-11v8m4-8v16m2-16v11m6-7v9m4-13v17m2-24v35m2-23v6m4-10v11m2-20v28m2-19v22m2-23v21m2-25v23m10-10v4m4-12v11m2-9v14m2-26v24m2-10v17m2-16v0m4-7v16m4-11v8m2-25v24m2-23v43m2-41v27m2-16v9m2-4v6m2-5v5m4-14v15m4-8v9m4-3v1m2-1v6m2-13v13m2-9v7m6-18v20m6-11v18m2-33v32m2-18v19m2-25v20m4-16v11m2-6v10m4-16v9m2-8v9m2-15v17m4-10v12m4-21v15m2-7v15m2-23v16m4-10v14m4-12v9m4-19v17m2-8v9m6-17v24m2-18v24m2-21v21m4-20v16m2-14v7m6-3v12m2-12v15m2-24v21m2-21v23m2-14v9m6-7v9m6-11v17m2-23v13m12-17v34m8-28v12m2-11v13m2-22v15m4-6v14m2-13v5m2-9v6m2-13v28m2-36v30m2-13v11m2-14v8m4-15v17m2-33v34m2-35v32m8-16v34m4-44v33m2-42v53m2-26v40m2-40v30m2-29v23m4-20v13m2-11v8m2-22v28m2-24v25m2-12v11m6-14v9m2-11v8m2-6v6m2-19v20m2-16v15m6-10v18m2-19v9m4-9v14m2-15v15m2-13v15m14-13v6m2-5v16m2-16v8m6-9v6m2-26v24m2-10v36m2-45v39m2-27v8m14-5v13m10-13v19m2-20v22m2-19v9m2-7v2m6-2v4m2-1v6m2-21v22m2-19v24"/><path stroke="#5040c0" stroke-width="6.0" stroke-dasharray="0 4.0" d="M0-4v8m2-12v14m2-14v11m2-3v2m4-11v25m6-30v19m2-16v27m10-24v9m10-6v5m4-3v8m2-18v21m2-14v36m2-57v59m4-37v9m2-18v17m2-13v9m2-5v7m2-6v7m2-8v10m4-15v11m2-7v11m2-26v29m4-35v58m2-64v64m2-56v39m18-26v11m2-6v11m6-11v10m6-9v10m2-12v18m6-21v9m6-8v8m2-7v11m2-18v29m2-25v14m4-11v8m2-10v8m4-16v25m2-39v41m2-13v16m2-15v13m2-22v14m2-8v8m2-8v17m2-14v18m2-32v24m2-17v25m2-26v17m2-13v9m2-5v8m8-8v11m2-17v25m4-22v12m2-7v5m8-5v11m4-22v20m2-20v17m2-10v10m2-7v13m2-14v15m10-18v21m2-17v8m4-14v20m2-23v18m4-24v25m2-11v9m6-12v11m4-15v31m2-24v16m2-17v11m2-4v9m2-11v7m2-16v25m2-14v19m4-29v35m4-28v7m2-18v20m2-18v18m2-12v6m2-5v12m2-16v10m2-10v9m4-6v21m8-19v5m6-4v16m2-36v33m2-20v23m2-24v18m2-13v11m8-7v11m2-15v30m4-25v2m10-7v25m2-21v5m8-16v39m2-35v15m4-9v9m2-13v7m2-24v30m2-17v31m4-25v5m2-7v23m2-36v20m4-8v10m2-12v13m2-13v7m4-6v25m2-35v28m2-22v16m2-12v20m2-17v8m4-7v21m4-15v3m4-7v8m4-12v8m8-21v22m2-22v19m4-5v6m2-12v12m4-6v9m8-8v6m2-17v19m2-5v6m2-7v10m4-20v19m2-17v29m2-32v23m10-12v6m8-8v8m4-11v11m2-9v16m2-15v15m6-18v14m2-13v9m2-9v8m4-5v17m2-29v24m2-21v32m6-27v17m2-19v37m2-46v29m6-17v14m6-12v9m2-5v11m10-15v7m4-14v16m2-13v8m2-7v5m4-2v1m6-11v30m2-30v28m2-23v12m6-13v17m6-13v7m4-12v11m2-6v23m4-29v15m2-16v22m4-16v25m6-18v9m4-20v28m2-32v34m4-14v5m8-17v11m2-9v18m4-20v8m6-12v15m4-6v7m2-12v11m2-8v7m6-8v16m2-21v24m2-27v17m2-8v27m2-27v18m2-20v17m2-19v10m2-6v7m6-11v14m2-22v28m2-18v11m2-8v19m2-39v45m2-29v17m4-15v13m2-16v14m6-5v5m4-14v10m2-4v13m2-17v12m14-6v7m2-7v13m4-12v14m4-14v16m2-10v1m2-9v33m2-40v24m8-13v7m2-8v9m2-11v7m4-4v9m2-17v10m2-7v6m2-3v8m6-15v10m2-14v17m2-12v14m4-13v16m2-40v41m2-33v52m2-37v35m6-36v33m2-40v26m8-17v20m8-20v7m2-12v18m2-18v13m2-8v10m4-4v5m4-7v7m2-2v8m2-9v13m2-13v6m2-7v3m2-20v25m2-21v20m6-10v7m2-10v6m4-29v35m2-21v22m2-9v7m2-10v7m4-15v32m2-19v8m2-16v10m6-10v22m2-36v22m2-9v19m4-23v8m10-7v17m4-22v9m4-12v18m2-11v6m4-16v49m2-52v28m2-16v10m8-3v1m4-2v11m2-13v18m8-19v9m4-11v21m6-12v1m2-7v8m2-6v7m4-6v8m2-9v8m2-8v18m2-33v30m6-14v7m2-15v16m4-9v9m2-33v36m6-23v29m2-24v26m2-19v8m8-26v19m8-8v6m4-6v9m2-18v32m2-48v43m2-31v25m2-14v13m2-35v45m2-45v44m2-15v11m2-11v3m2-13v16"/><path stroke="#1050e0" stroke-width="6.0" stroke-dasharray="0 4.0" d="M6-7v10m2-10v9m8-17v13m4-24v26m2-5v10m6-6v1m2-4v32m4-27v8m2-7v8m4-6v7m2-16v13m2-7v14m2-13v9m4-40v64m2-59v39m4-19v13m2-13v9m2-11v20m2-30v19m2-5v8m8-16v12m4-5v11m2-12v9m10-4v1m4-12v21m2-26v22m2-6v17m6-29v20m2-8v7m2-18v20m2-24v21m2-21v18m2-12v9m8-5v6m2-22v28m2-16v7m12-3v8m2-9v8m2-17v37m8-46v31m2-19v28m2-24v24m2-29v18m4-23v35m2-19v8m4-6v10m2-25v32m2-18v13m4-10v1m2-14v23m2-20v14m4-7v1m4-6v3m4-3v8m6-18v15m2-16v24m2-16v26m2-24v9m2-10v9m2-3v7m4-15v12m4-19v27m4-15v13m2-13v6m6-10v27m2-45v40m4-24v21m2-19v15m4-9v16m4-14v12m10-17v15m2-11v6m4-9v13m2-10v10m2-18v16m4-15v12m4-10v23m2-22v8m4-9v25m4-23v11m4-30v35m2-31v32m2-19v12m2-9v5m4-10v14m2-15v15m2-11v7m2-7v7m2-11v14m6-16v27m2-24v15m4-12v16m2-12v11m2-17v31m6-32v13m2-14v26m4-19v6m10-9v8m6-8v3m8 0v0m2-7v25m2-53v50m6-19v11m2-9v22m2-21v12m2-13v12m4-24v33m2-42v37m2-28v41m2-28v12m2-11v5m6-21v28m2-16v7m2-22v34m2-30v29m4-18v6m2-14v19m2-11v5m2-6v12m2-20v17m2-8v9m2-9v10m2-14v8m8-6v17m4-15v12m2-16v13m2-7v7m4-13v11m2-13v30m2-30v25m8-25v25m2-14v15m2-9v7m2-10v6m10-5v15m2-20v9m2-7v6m4-5v10m2-15v12m2-19v17m2-11v24m2-25v22m2-18v7m4-10v13m6-6v12m2-18v9m2-2v7m2-18v20m6-13v5m2-12v27m8-29v10m4-7v10m2-34v45m2-42v36m2-15v9m4-7v11m2-13v9m2-17v27m2-41v67m2-55v32m4-18v5m2-3v10m4-15v9m2-20v20m2-10v19m2-15v12m2-42v51m2-48v37m8-8v5m2-7v9m6-7v19m2-28v18m4-19v29m6-32v19m2-12v10m2-8v9m2-15v17m2-5v1m4-5v6m2-23v36m2-38v40m2-30v21m2-16v12m2-23v23m2-9v7m2-13v22m2-35v23m4-3v1m2-2v8m2-11v19m2-29v35m2-24v22m6-38v38m2-24v30m4-32v17m6-8v2m2-8v11m2-11v9m8-11v7m6-4v1m2 0v1m6 0v2m12-6v8m2-8v6m6-6v5m2-11v14m6-33v35m4-7v10m10-10v13m4-16v20m2-9v7m2-11v10m2-29v36m2-50v48m2-17v35m4-30v11m2-15v14m2-12v13m4-19v9m2-13v14m2-10v23m2-27v33m2-24v6m2-7v12m12-13v6m2-7v7m2-8v8m2-9v17m2-26v20m2-13v15m4-17v19m4-14v2m6-6v9m2-8v7m4-14v15m2-15v32m4-27v8m2-3v8m4-12v9m2-9v11m2-19v22m6-21v20m6-40v45m2-17v14m2-16v18m2-16v8m4-6v9m4-8v16m2-17v29m2-24v8m2-15v13m2-16v21m2-14v6m6-4v7m12-13v9m2-8v6m2-5v8m2-9v6m2-7v5m6-22v33m2-24v33m2-44v34m2-13v24m2-22v14m2-27v29m2-39v35m2-25v22m6-12v7m4-5v7m2-22v28m2-34v32m4-13v13m4-31v23m2-15v18m2-21v22m2-11v14m4-13v11m10-12v13m2-10v7m8-8v11m2-31v36m2-23v25m2-13v11m2-11v12m2-11v7m8-10v12"/><path stroke="#20d0f0" stroke-width="6.0" stroke-dasharray="0 4.0" d="M0-23v28m2-38v52m4-26v9m2-18v14m2-10v13m4-7v7m8-6v11m6-8v8m2-17v18m2-15v14m6-5v8m6-10v9m2-7v12m2-13v8m4-12v16m10-7v1m2-10v12m2-15v34m2-41v32m2-15v10m4-21v19m2-8v6m4-10v6m4-4v7m4-23v20m4-9v25m4-23v15m2-12v7m4-9v7m8-11v18m2-16v25m2-38v26m4-9v3m4-4v5m4-24v36m2-34v32m2-24v22m4-8v2m2-7v9m4-13v20m2-23v32m2-43v25m4-17v23m2-22v22m2-21v10m6-17v18m2-15v15m2-7v6m22-4v7m2-22v22m2-35v40m2-16v29m8-39v23m2-13v23m6-21v7m6-5v18m4-24v16m6-9v19m4-21v10m2-43v56m4-22v29m6-36v24m2-35v26m4-16v14m2-26v34m2-35v29m4-10v7m6-12v17m6-33v42m2-25v37m4-52v25m2-19v18m2-4v8m4-16v17m2-6v10m4-13v19m2-24v13m6-16v16m4-15v12m2-14v14m2-10v8m2-17v17m2-12v16m4-5v1m4-5v9m2-12v24m2-36v28m4-13v41m2-36v17m2-20v12m6-6v7m4-11v6m2-9v9m2-5v5m2-9v10m2-6v25m8-34v17m2-17v15m12-23v33m2-27v35m4-25v24m2-24v17m2-27v16m4-16v19m2-15v17m2-12v17m6-17v15m2-24v13m2-18v28m2-16v17m8-40v44m4-22v19m2-11v11m4-9v5m4-6v6m2-13v15m2-11v6m4-3v8m2-7v0m2-7v18m2-20v39m2-57v55m2-36v18m4-24v25m4-14v10m2-16v24m4-26v22m2-28v33m4-27v15m2-9v8m4-14v17m2-10v11m4-20v20m2-15v7m8-4v7m4-12v9m2-18v19m2-17v32m2-29v18m4-15v20m2-27v38m2-46v33m6-13v9m6-17v27m4-36v39m2-24v3m2-4v8m8-14v25m2-42v25m2-9v14m2-19v14m2-9v8m2-4v5m2-21v22m2-12v31m2-31v22m2-14v5m2-7v5m4-12v27m4-20v11m4-10v13m2-16v15m4-14v6m2-11v13m2-4v10m4-22v19m12-11v17m4-11v13m2-29v22m2-16v19m2-12v14m2-12v20m2-46v45m2-41v56m4-30v4m2-9v17m2-20v10m4-8v10m2-8v8m2-24v37m2-19v22m6-19v4m2-14v18m4-10v27m8-46v30m2-11v8m4-16v16m14-7v3m4-3v6m2-28v34m4-20v16m4-14v7m12-11v8m2-20v26m2-17v22m16-27v29m2-19v22m2-30v20m2-13v26m2-21v16m4-25v20m6-20v40m2-33v6m2-6v11m2-8v3m2-7v10m4-27v52m4-38v12m2-10v21m4-19v7m6-29v30m2-37v39m2-26v51m2-54v30m2-11v12m6-10v10m2-11v13m4-22v46m2-45v25m2-38v46m2-27v34m4-38v23m2-10v14m4-16v9m4-8v5m2-6v8m6-10v16m2-23v18m2-15v11m2-11v12m2-14v22m2-19v25m2-24v11m2-14v15m2-26v24m6-14v7m18-7v22m2-23v13m4-5v12m4-20v13m18-8v6m4-7v17m2-26v23m6-26v17m2-7v16m2-18v13m2-13v11m4-14v9m8-7v6m2-6v13m6-13v7m2-7v10m20-22v22m2-8v5m2-6v26m10-22v24m4-21v6m4-23v32m4-22v21"/><path stroke="#e04050" stroke-width="6.0" stroke-dasharray="0 4.0" d="M0-11v13m2-2v6m8-10v7m4-4v7m2-8v9m6-9v6m6-10v13m4-14v13m4-17v26m2-24v28m2-35v34m2-29v22m4-30v40m2-33v24m2-21v13m2-9v12m6-7v2m2-7v13m4-25v45m2-30v21m8-19v6m2-20v23m2-24v22m2-7v17m4-21v6m12-3v0m2-1v2m2-10v15m2-7v10m8-10v1m2-12v28m4-36v23m2-21v18m8-6v16m2-13v11m4-10v12m2-14v12m4-14v39m2-31v16m2-20v10m2-8v9m6-14v14m2-20v12m2-8v9m2-4v1m4-5v19m2-28v37m2-56v46m2-24v26m2-17v3m2-5v15m2-21v31m4-32v29m2-30v19m2-15v11m2-15v16m8-7v8m2-8v14m4-18v15m4-5v8m24-11v20m22-15v0m2-15v21m2-27v23m10-10v14m4-13v11m4-12v8m2-9v19m2-14v6m2-13v22m2-17v10m2-13v7m2-7v15m2-11v6m4-18v18m2-30v29m2-27v51m2-34v29m6-41v26m2-13v23m2-26v9m4-7v12m2-6v9m8-8v2m12-14v13m2-22v22m2-5v4m2-9v11m2-16v34m2-33v33m2-27v9m2-6v7m2-8v24m2-28v17m2-9v14m2-20v27m4-21v4m4-8v20m2-25v22m2-18v20m4-19v11m6-35v45m2-21v28m4-30v8m2-10v12m2-9v12m4-10v4m4-5v8m4-11v7m2-7v9m2-5v3m12 3v12m2-15v9m4-7v9m2-8v6m4-15v12m6-12v10m2-8v10m4-8v10m8-7v10m6-3v5m4-23v19m6-18v19m2-15v21m4-22v33m2-44v25m4-16v23m2-16v25m4-27v12m6-8v10m2-17v14m2-8v11m2-12v7m2-5v15m4-15v20m2-30v41m2-32v19m4-21v12m6-12v5m6-8v10m4-8v3m6-5v12m6-15v7m2-7v6m6-4v13m2-26v20m2-15v38m2-30v25m2-38v21m2-21v24m2-9v2m2-10v37m2-44v42m12-24v0m4-5v15m2-27v26m8-15v8m2-11v11m2-6v19m2-28v21m10-16v8m2-5v18m6-39v38m4-23v21m2-16v11m2-10v10m6-8v13m2-15v20m4-20v7m2-4v4m2-13v13m2-10v16m2-16v10m2-11v8m2-11v15m2-9v11m4-17v12m2-23v35m2-20v12m4-12v8m4-13v20m2-13v18m2-16v8m6-11v11m2-21v24m4-13v21m2-16v10m6-13v9m6-12v17m2-16v16m8-7v7m2-8v7m2-9v6m2-22v25m10-31v34m2-38v63m2-53v31m2-21v17m12-9v13m2-12v6m4-6v4m8-6v4m2-7v7m2-22v26m2-32v45m6-21v5m2-12v20m4-24v13m2-7v5m14-13v12m4-6v6m6-3v7m4-16v22m4-14v15m2-22v22m4-17v12m2-6v10m4-7v6m2-15v15m4-14v26m4-19v11m6-12v11m2-17v11m4-6v5m4-8v9m4-7v6m2-8v9m2-16v21m2-26v21m4-7v5m2-11v17m2-12v14m4-14v9m2-16v28m2-27v15m6-13v13m4-27v30m2-13v22m2-19v10m4-11v15m4-14v14m4-3v1m4-4v13m4-18v10m2-8v7m4-14v24m2-25v7m6-5v10m4-7v0m6-5v12m2-17v17m8-5v18m2-23v13m2-16v17m2-20v22m2-19v18m2-9v8m2-13v18m2-13v11m4-21v25m2-37v34m2-28v20m2-13v8"/><path stroke="#3080f0" stroke-width="6.0" stroke-dasharray="0 4.0" d="M2-3v7m2-8v11m2-28v31m4-16v11m4-17v26m2-22v15m2-19v18m2-15v16m2-12v20m2-28v16m2-4v5m2-9v12m10-10v12m2-13v10m4-16v34m2-40v30m2-36v53m2-39v37m2-34v30m2-52v46m6-23v13m2-10v4m2-20v25m2-19v20m4-14v23m2-41v56m2-66v45m2-40v63m2-38v34m2-47v20m2-8v16m2-22v17m2-8v7m4-9v8m2-27v24m2-8v9m4-16v23m2-17v10m2-7v15m2-16v19m2-28v24m2-16v11m2-3v9m2-11v11m2-11v19m2-23v37m2-62v49m2-28v38m2-39v15m2-3v6m4-14v19m2-35v54m2-36v18m2-16v3m2-14v41m2-64v39m2-43v49m2-49v53m2-38v35m2-22v18m2-15v16m4-35v37m2-34v30m4-39v38m4-14v34m4-28v3m2-11v31m2-27v11m4-11v24m4-32v23m2-15v40m2-57v34m4-29v31m4-19v18m2-33v39m6-22v7m2-4v15m2-36v28m2-14v19m2-17v22m6-15v9m6-20v24m4-40v49m2-46v43m2-35v25m2-20v17m4-15v40m4-53v36m4-25v18m4-25v49m2-46v38m2-27v7m2-33v32m4-12v23m2-40v28m4-35v46m2-36v43m4-26v6m2-13v17m4-10v18m2-16v21m4-17v9m2-9v8m4-23v25m2-21v21m2-12v18m2-25v16m2-11v11m8-15v15m6-7v14m6-18v14m2-35v39m2-13v26m4-33v25m2-35v29m2-15v12m2-29v35m4-26v18m2-24v24m2-18v33m2-26v19m2-18v6m2-27v36m2-36v57m2-49v28m2-13v8m2-20v25m2-12v6m4-9v14m2-9v2m4-26v33m2-15v18m2-15v7m2-12v11m2-13v10m4-5v4m2-5v6m2-16v21m8-9v9m12-23v29m2-14v11m4-15v15m2-18v8m2-7v16m2-20v20m4-13v3m8-17v23m2-44v48m2-19v21m4-22v18m2-14v16m2-26v15m2-17v33m4-27v11m4-6v10m6-28v52m2-37v18m4-11v11m2-10v9m6-12v8m2-10v11m2-16v19m2-11v7m2-4v2m2-7v10m4-8v8m6-16v35m2-32v15m4-8v11m4-26v26m2-15v20m2-30v17m2-16v22m2-23v24m2-13v11m2-16v14m2-20v25m2-15v15m2-19v14m2-8v29m2-39v27m2-18v9m4-4v7m4-4v2m2-7v9m2-14v12m2-18v43m4-37v36m2-32v18m2-11v1m2-22v32m2-49v48m2-17v36m2-40v14m2-3v2m2-12v15m2-13v15m2-13v10m2-15v22m2-29v26m2-44v65m2-38v46m2-48v26m4-30v22m6-22v13m2-3v8m4-8v1m2-20v23m2-32v37m2-26v28m2-15v15m2-14v18m4-52v76m2-54v20m2-6v11m2-32v31m2-13v10m4-21v27m6-32v32m4-20v15m4-25v21m4-16v17m2-24v31m2-19v10m6-9v22m2-25v35m2-52v43m2-19v21m6-22v11m2-11v28m2-38v37m4-37v21m2-24v31m6-29v25m2-16v13m2-11v6m4-10v18m6-13v18m2-16v11m2-25v30m4-13v6m6-14v10m4-5v7m2-7v5m6-17v28m2-37v32m2-15v29m2-29v24m2-27v31m2-24v20m2-35v23m4-18v13m8-13v16m2-12v20m4-19v8m2-15v15m4-11v8m8-6v28m4-27v6m10-2v11m2-13v6m2-5v6m2-11v25m4-26v20m4-10v12m4-11v8m6-8v13m2-11v16m4-21v27m2-47v31m8-33v35m2-15v38m2-55v34m2-21v31m4-31v10m2-23v38m2-32v25m4-19v12m4-11v8m2-7v16m2-30v27m4-13v6m6-32v52m4-33v14m2-8v10m2-6v3m2-3v2m2-20v27m2-12v14m2-13v18m2-15v8m2-13v18m2-17v8m2-6v15m2-11v6m4-7v5m2-16v21m4-12v25m2-17v7m4-10v13m2-15v20m4-24v14m2-25v23m2-27v29m2-25v19m4-11v9m2-31v37m4-12v10m2-33v32m2-22v29m2-15v7m8-5v11m8-17v22m2-21v16m2-16v18m2-40v43m2-22v6m2-28v49m2-56v64m10-46v57m2-39v3m4-6v8"/><path stroke="#f040c0" stroke-width="6.0" stroke-dasharray="0 4.0" d="M4 1v2m2-1v1m2-2v13m6-24v12m6-37v37m2-21v45m2-30v2m4-7v7m6-9v9m4-9v8m8-18v48m2-31v8m4-7v14m2-13v14m12-31v25m2-27v24m4-11v6m2-8v25m4-28v28m4-26v12m6-8v6m10-5v19m4-25v26m6-26v39m2-49v26m2-10v8m2-10v8m4-15v16m2-16v22m4-13v28m4-24v10m6-26v19m2-20v28m2-22v22m4-13v11m2-27v23m2-15v35m6-27v15m2-27v20m6-13v7m6-3v0m2-18v22m4-13v16m2-7v1m2-6v15m2-17v10m4-3v10m6-8v11m2-7v2m2-7v9m2-8v15m14-15v6m2-19v21m2-10v9m8-8v7m4-5v7m4-7v2m2-5v14m6-23v15m4-33v46m2-23v9m2-2v1m20-11v14m4-14v8m2-18v30m8-20v8m6 1v10m2-11v12m4-15v13m2-4v0m2-10v16m6-8v8m8-7v3m2-11v10m6-12v21m2-17v18m4-22v15m10-10v10m2-21v35m2-29v28m2-21v9m2-13v7m8-6v8m4-5v16m2-20v10m2-6v10m6-8v17m2-20v10m6-4v12m2-11v10m4-13v12m2-12v10m4-10v10m16-23v18m14-10v2m2-16v20m2-10v22m2-20v8m2-9v7m2-13v10m4-14v16m2-22v20m2-7v29m2-33v22m2-19v7m24-5v12m4-12v6m12-12v14m6-5v14m2-13v7m2-9v13m2-24v21m2-16v14m24 3v12m2-10v6m6-12v10m2-11v10m2-10v15m4-38v33m2-23v25m2-24v12m2-16v18m6-16v21m2-10v21m6-22v16m2-22v13m10-2v5m4-8v17m2-20v6m4-25v51m2-42v30m6-23v5m10-8v10m2-13v18m2-25v25m2-34v33m2-38v50m2-27v23m16-8v0m2-5v10m2-6v9m6-12v10m2-4v7m6-11v9m4-12v6m2-6v6m6-3v6m2-10v21m4-21v7m2-13v18m4-12v25m2-37v22m4-10v9m4-9v7m2-8v16m2-24v18m4-10v11m2-12v10m2-15v12m4-16v16m2-20v21m8-6v6m2-2v7m4-12v7m2-8v22m2-26v32m2-29v20m2-12v9m2-9v6m4-9v22m8-24v39m4-38v7m10-7v13m2-6v19m2-39v27m6-17v33m2-37v37m2-55v36m2-19v21m4-13v11m6-11v7m6-10v19m2-22v15m4-11v14m6-11v5m4-11v11m2-5v9m2-12v8m8-16v20m2-11v5m4-5v20m4-43v37m2-37v40m2-26v37m2-24v20m2-27v23m4-18v23m2-23v14m6-21v21m2-11v13m2-19v17m2-20v14m2-22v18m2-15v30m4-31v14m4-7v8m2-9v11m6-9v2m2-9v30m2-39v55m2-63v37m4-13v8m10-24v22m2-14v19m2-18v16m4-23v26m4-21v13m2-5v6m8-14v17m2-4v11m6-10v9m14-13v16m2-17v8m2-5v10m2-13v8m2-3v9m2-28v26m4-19v28m2-22v9m2-4v19m2-54v52m2-17v27m2-48v28m2-25v37m2-23v11m4-8v15m2-26v16"/><path stroke="#806020" stroke-width="6.0" stroke-dasharray="0 4.0" d="M2 0v4m4-4v8m8-10v8m6-12v8m10-11v11m2-12v18m4-14v9m2-20v25m2-13v7m4-15v13m2-3v15m2-26v18m2-12v12m4-8v7m2-2v2m10-4v7m2-12v15m6-9v3m2-4v6m4-7v4m2-6v12m4-11v14m4-14v8m2-23v28m4-6v0m2-6v10m10-15v14m6-9v5m2-2v6m2-5v6m8 0v0m14-15v20m2-21v18m4-13v9m4-8v6m2-9v12m16-11v11m2-10v10m2-10v13m2-12v8m2-7v7m10-14v12m4-8v16m2-20v12m8-25v34m2-41v38m2-28v20m2-9v7m4-3v2m4-1v1m2-2v8m6-10v10m2-8v11m16-6v10m2-10v12m2-13v12m2-10v11m2-16v10m2-9v7m2-7v9m4-8v1m2-6v6m2-10v19m2-17v6m2-7v8m2-16v19m4-13v23m2-29v21m2-14v7m10-11v16m2-8v8m6-13v12m6-8v10m2-6v19m2-14v1m2-5v13m10-7v9m2-13v10m4-11v8m8-12v10m2-28v31m4-12v12m4-13v16m2-17v15m2-13v6m8-7v7m8-8v5m4-3v6m2-7v5m2-5v3m2-1v2m4-4v7m12-7v12m4-8v11m2-20v17m2-13v11m6-16v18m2-21v28m2-16v15m4-15v9m4-13v13m4-11v7m4-8v12m2-10v7m2-9v5m4-3v20m2-37v27m2-20v19m12-5v8m4-10v19m14-26v12m2-5v5m2-9v8m2-14v13m2-12v14m22-7v2m6-5v8m6-4v5m6-9v15m2-15v5m4-2v2m2-8v14m6-11v6m2-9v7m2-19v23m8-12v15m2-10v12m2-11v7m2-17v21m6-13v9m2-14v14m2-18v14m4-4v15m2-17v10m10-5v11m2-14v15m8-13v11m4-19v16m2-17v21m10-10v1m8-6v7m2-3v7m2-8v11m4-10v5m4-13v17m2-14v9m4-10v6m4-4v14m4-16v9m10-13v27m6-20v4m2-6v8m8-4v7m6-2v9m6-12v5m10-8v15m2-32v32m2-21v29m2-29v16m2-8v7m4-16v15m8-11v17m2-16v13m8-14v12m2-5v5m18-15v16m4-18v19m2-11v16m2-16v11m2-18v17m2-14v10m2-7v16m2-31v33m2-14v2m2-3v9m2-13v7m2-8v16m2-16v10m18-16v18m2-16v19m6-21v10m6-8v21m4-18v6m4-6v15m2-23v16m4-7v8m6-9v7m2-9v11m12-8v12m4-18v15m2-23v19m2-9v23m6-21v7m2-5v7m6-8v11m2-13v10m4-6v11m6-7v6m2-5v2m8-7v7m6-4v7m2-8v8m8-11v21m2-18v12m6-13v7m4-13v9m8-7v11m6-19v26m2-24v13m4-9v11m10-6v0m6-3v6m2-20v17m2-9v18m14-9v10m2-19v21m2-16v15m2-8v6m2-15v18"/><path stroke="#20e060" stroke-width="6.0" stroke-dasharray="0 4.0" d="M0 0v12m2-20v17m8-18v13m2-10v30m2-43v53m2-71v47m2-13v23m2-19v8m4-20v20m8-10v9m2-21v17m2-15v27m4-35v22m2-9v11m4-13v8m2-7v4m2-3v1m4-9v20m2-20v13m2-6v11m2-12v11m8-9v7m8-2v3m2-17v24m2-21v18m2-14v11m4-24v35m2-22v37m2-34v14m12-37v40m14-15v6m2-11v11m4-38v50m2-28v53m2-57v48m4-35v11m2-21v20m4-9v1m4-2v5m2-6v6m8-4v6m2-8v14m2-14v15m2-27v30m2-25v20m4-11v6m2-22v28m4-12v8m8-11v11m2-9v18m10-19v17m4-14v7m8-25v51m8-34v22m2-27v38m6-32v10m2-10v22m4-17v15m2-17v22m2-30v15m4-27v30m2-20v17m4-11v10m2-22v18m2-31v62m2-74v50m2-21v23m2-16v7m2-7v12m2-13v13m10-13v8m4-9v9m2-23v22m2-11v29m2-41v24m4-14v26m2-27v40m4-47v29m2-17v9m4-19v18m2-14v26m6-36v30m2-14v8m6-7v6m4-29v34m2-23v21m8-12v6m2-8v24m2-29v21m2-17v21m2-37v40m2-29v20m4-10v15m4-25v23m2-17v19m2-13v11m2-12v8m2-5v7m6-8v3m2-16v20m2-14v10m2-11v15m4-14v6m4-4v11m2-25v20m4-20v45m2-43v46m2-36v15m4-4v1m2-7v13m2-18v18m2-9v12m4-10v20m2-40v35m2-17v18m4-14v7m2-23v28m2-22v22m6-16v8m2-8v23m4-37v47m6-30v6m4-21v21m2-16v14m2-8v16m2-14v13m4-21v23m2-24v16m4-13v7m8-10v10m2-4v8m2-9v15m2-16v10m2-6v15m2-21v41m2-38v9m4-4v3m2-1v2m14-8v25m2-25v29m2-42v26m2-15v9m4-21v20m20-4v8m6-12v13m2-10v22m2-37v25m2-13v15m2-17v11m2-21v26m2-21v17m2-5v2m2-19v24m2-8v15m2-26v15m2-5v7m8-14v11m4-8v8m2-10v9m4-4v11m2-14v7m2-2v10m6-17v18m2-7v6m2-7v16m2-14v1m10-5v6m2-7v14m2-14v6m2-9v10m2-5v2m10-17v20m2-7v10m12-14v18m2-15v9m6-16v22m2-24v24m8-18v16m4-15v22m2-30v30m2-30v19m2-16v22m2-19v28m2-35v21m2-8v8m2-7v15m2-46v57m10-31v9m2-9v17m2-14v7m4-10v5m2-6v11m6-13v10m6-2v7m2-26v27m2-17v28m6-25v20m8-28v32m2-26v24m2-22v21m2-29v33m6-26v7m12-4v14m2-28v30m2-28v49m2-44v24m2-28v25m2-10v28m2-26v6m4-15v25m2-22v8m2-6v7m2-12v19m2-18v7m6-5v1m4-14v18m2-10v17m2-19v17m4-13v15m2-14v11m6-14v11m2-22v24m14-19v17m2-4v5m6-7v10m2-8v2m2-5v17m8-17v12m2-21v22m2-12v7m6-13v11m2-34v37m6-22v21m2-25v25m2-11v8m2-10v10m6-7v8m4-4v7m8-8v14m2-9v8m4-18v27m2-30v16m8-21v26m4-27v19m4-13v12m8-5v3m6-21v26m2-12v25m2-19v13m6-19v15m2-15v31m2-19v7m2-8v28m2-49v58m2-39v21m2-16v5m4-6v9m8-43v52m2-48v31m2-20v25m6-16v6m2-22v27m2-13v8m2-11v12m2-12v20m2-23v25m8-21v6"/><path stroke="#a020f0" stroke-width="6.0" stroke-dasharray="0 4.0" d="M0-1v17m6-20v8m6-8v10m4-17v11m6-8v13m2-19v17m6-5v0m2-6v9m4-2v8m2-7v10m4-12v6m2-5v11m4-17v15m12-23v26m2-18v16m4-19v9m2-15v21m4-20v18m4-10v6m2-4v18m2-39v39m6-28v27m2-19v24m2-20v8m6-4v8m8-13v9m6-8v7m6-17v18m2-30v28m4-12v14m2-12v12m2-12v16m4-19v13m6-4v1m2-9v15m2-26v34m2-23v10m2-6v8m4-11v7m2-7v13m2-18v14m10-6v10m2-17v18m6-13v12m2-6v5m4-17v19m2-20v21m4-15v15m4-18v14m2-13v23m2-31v24m4-19v16m2-4v4m8-7v16m4-9v2m4-3v8m10-17v10m2-6v9m4-17v22m2-18v13m2-13v7m2-3v13m2-16v6m4-11v23m2-31v22m12-11v10m4-4v21m2-30v21m2-10v8m4-14v14m2-25v22m2-11v17m2-15v6m2-8v15m2-12v7m2-5v1m2-5v6m2-10v16m2-13v9m2-7v7m2-16v17m2-22v29m2-18v19m2-19v13m2-6v7m10-9v4m2-7v9m2-10v9m2-4v6m2-15v19m2-15v7m2-4v7m2-5v0m2-8v10m4-7v10m2-7v1m2-11v30m2-37v25m2-18v27m2-17v2m4-1v10m2-13v7m2-1v5m14-8v7m6-9v9m2-14v20m6-15v16m2-17v18m2-22v14m8-9v9m2-17v21m2-18v15m2-5v6m2-16v37m2-67v47m2-8v9m2-10v12m2-12v11m4-16v8m14-1v6m2-5v6m4-8v7m2-6v2m2-5v5m4-10v24m2-45v46m2-24v24m6-17v1m4-5v7m4-7v7m6-5v6m2-5v9m2-13v18m2-16v11m2-8v12m2-22v22m4-14v7m6-3v5m6-19v22m8-12v12m2-16v28m2-40v32m2-17v23m2-24v15m4-12v6m2-13v10m4-12v8m2-14v32m2-25v16m6-13v3m6-4v17m2-37v35m2-16v28m2-32v16m2-7v1m4-6v13m2-12v6m2-4v7m2-9v13m4-11v10m2-14v20m2-17v10m8-7v10m6-11v21m4-24v8m4-11v9m2-8v16m4-18v17m2-42v38m2-19v30m4-22v7m8-6v10m2-12v27m2-29v15m2-11v10m4-13v10m2-14v14m6-14v20m2-12v11m4-20v20m2-9v11m2-13v9m2-4v2m4-8v7m10-5v7m4-11v9m6-3v2m2-9v15m2-8v9m2-14v13m2-4v4m2-8v9m2-12v13m2-8v6m4-10v12m2-10v22m4-22v9m6-10v5m8-4v1m8-12v23m2-18v8m6-6v6m4-5v10m4-7v14m4-15v8m2-12v11m2-9v11m4-8v6m6-4v2m2-6v7m2-4v3m2-6v12m6-7v7m2-17v19m4-9v5m4-4v5m2-11v9m2-11v20m6-18v7m2-7v11m4-10v9m2-12v9m4-5v7m8-14v13m8-20v23m2-19v20m2-16v12m6-10v10m6-14v6m10-3v4m6-16v25m4-17v16m2-7v8m4-12v7m2-3v6m2-23v25m2-13v20m4-19v9m2-9v5m2-3v7m2-9v9m4-10v14m2-19v23m2-28v36m2-32v17m4-16v18m2-26v29m2-17v7m6-4v6m2-8v11m2-19v22m4-8v10m2-19v32m2-25v16m10-12v8m2-6v10m10-21v21m12-28v19m2-11v13m2-11v8m4-14v13m8-6v11m4-4v6m8-11v7m2-13v16m2-8v8"/><path stroke="#f02060" stroke-width="6.0" stroke-dasharray="0 4.0" d="M0-3v9m2-13v9m2-13v14m2-33v48m2-29v32m2-23v15m2-19v10m2-8v10m4-16v25m2-30v24m4-14v7m4-8v6m6-12v10m2-7v6m8-11v20m6-21v23m2-26v34m2-18v17m2-18v10m2-19v22m2-13v20m2-27v13m2-5v9m4-11v10m6-6v6m10-8v22m2-28v14m6-8v9m2-14v11m10-7v13m2-14v8m8-13v12m2-14v10m2-5v17m2-31v24m4-16v16m2-9v14m4-25v16m2-8v12m2-9v4m2-16v36m2-45v28m2-29v26m2-14v34m4-25v12m4-17v26m6-13v1m6-3v13m4-14v12m4-15v12m2-14v20m6-24v11m2-11v22m2-19v14m2-14v10m8-5v7m2-12v8m2-2v3m2-4v10m2-7v1m4-6v10m8-10v8m4-6v4m6-6v9m4-12v9m4-5v5m6-26v47m2-51v42m2-32v22m4-8v3m4-1v2m8-6v16m2-25v18m2-7v26m2-32v13m2-7v16m2-18v18m2-20v25m2-33v24m4-17v25m2-29v37m2-38v34m20-32v13m4-16v17m2-10v24m2-25v10m4-3v10m2-8v7m4-18v20m2-10v10m4-10v14m16-23v30m2-42v30m2-15v10m2-5v11m2-11v8m4-13v7m2-6v12m2-9v1m2-6v6m4-8v10m8-1v6m2-23v27m4-9v7m2-9v10m4-4v6m2-16v31m8-26v9m2-27v35m6-17v9m2-14v10m2-10v17m2-31v32m2-32v21m2-5v4m4-7v12m4-30v26m8-13v16m2-7v10m8-12v4m2-5v14m2-29v28m2-12v8m4-7v8m2-10v7m4-9v9m4-13v15m2-9v10m6-19v22m2-17v16m8-10v6m2-11v25m2-23v19m4-23v15m2-5v7m4-20v33m2-34v20m2-13v15m2-17v11m2-16v20m2-20v29m2-22v9m4-21v23m4-24v39m2-20v9m2-11v12m14-15v27m2-24v17m2-25v20m2-9v22m2-20v17m4-24v14m2-16v19m2-24v24m2-16v20m2-21v10m4-13v19m8-15v13m2-13v15m2-13v10m2-13v15m6-15v6m2-2v11m2-13v13m2-8v5m14-10v13m2-21v15m4-14v24m4-15v0m8 1v12m2-21v19m2-13v8m2-4v10m2-14v16m4-20v23m2-25v16m2-7v7m4-10v14m2-10v7m2-16v19m2-15v11m2-9v11m6-6v18m4-20v9m2-5v11m2-18v22m4-17v11m2-13v20m2-28v29m4-21v19m2-36v23m2-5v0m2-13v17m2-18v35m2-25v20m8-29v15m2-6v6m4-7v7m4-10v15m2-12v11m2-11v10m12-5v2m2-7v12m4-8v1m4-4v13m4-14v7m6-17v26m2-13v28m4-26v14m2-22v17m2-15v21m4-23v24m8-17v3m2-4v10m4-14v12m2-7v11m6-18v24m2-32v22m2-7v8m22-12v12m6-13v12m8-4v15m2-18v18m2-27v27m2-37v41m2-39v35m2-29v21m4-14v18m4-30v26m2-20v25m4-31v16m2-26v32m2-30v49m2-38v25m12-20v7m6-3v1m6-7v8m2-11v24m6-21v7m2-18v27m6-18v8m2-7v6m2-6v11m6-8v11m6-15v12m2-9v15m2-13v13m2-12v8m4-10v15m2-14v14m2-15v16m4-17v11m8-8v5m4-7v14m2-10v14m2-10v7m2-7v8m2-19v34m2-26v18m2-14v9m2-11v8m2-20v26m2-15v18m2-13v10m4-12v4m2-2v2m2-14v18m2-7v7m2-8v5m2-5v6"/><path stroke="#5050f0" stroke-width="6.0" stroke-dasharray="0 4.0" d="M0-9v6m4-2v8m2-12v12m8-7v12m4-11v8m2-9v8m2-4v2m8-8v8m4-6v7m2-9v17m4-10v7m2-6v0m6-5v15m2-15v10m10-12v10m2-9v5m8-7v6m2-15v16m2-8v7m2-10v17m4-26v23m2-16v13m2-10v13m4-13v24m2-27v21m2-17v6m2-10v15m2-22v16m2-12v31m2-34v14m2-4v8m2-5v1m4-7v12m2-13v13m2-13v12m2-7v9m2-8v13m2-15v9m4-10v10m2-7v8m2-3v0m4-2v9m4-10v14m2-18v10m2-13v13m2-16v19m2-11v18m2-17v11m2-8v6m8-1v11m4-14v8m2-15v20m2-9v8m4-8v8m2-9v10m2-11v7m2-10v15m12-19v10m2-17v15m2-9v9m8-15v18m2-17v7m4-10v14m4-13v10m2-7v8m2-5v1m2-9v12m2-3v6m2-5v5m2-10v8m8-7v11m8-5v8m2-5v0m2-13v22m2-19v16m10-7v0m8-3v5m2-12v12m2-9v10m2-6v1m2-10v15m2-6v5m8-5v12m2-10v7m4-7v9m2-15v10m10-8v9m2-4v3m4-7v9m2-12v7m16-15v24m2-11v18m2-20v13m6-9v6m18-11v15m2-12v6m10-9v7m2-8v8m2-11v15m4-8v6m4-12v20m2-17v19m2-21v10m2-5v8m2-6v8m6-14v10m2-8v8m6-12v10m2-10v13m4-9v9m4-18v25m4-21v8m6-3v10m2-17v19m4-11v17m18-13v6m2-11v9m2-14v16m8-14v9m8-10v6m4-11v11m2-5v10m4-7v11m2-16v22m2-16v8m6-8v9m2-4v14m4-14v6m2-4v8m2-10v15m2-14v7m6-11v10m2-10v9m14-6v8m6-13v9m2-13v26m2-22v19m2-21v13m2-13v12m2-28v25m2-17v28m2-21v13m2-17v19m2-19v15m2-19v16m2-15v17m2-11v9m2-3v3m2-3v4m4-8v9m10-11v7m2-9v14m2-7v11m2-21v15m6-7v8m8-6v6m2-9v5m4-2v6m8-8v11m6-10v10m2-19v22m2-20v11m4-15v15m2-8v9m4-13v15m6-4v5m4-9v12m2-5v7m2-8v8m4-13v20m2-17v8m2-5v9m14-18v11m2-19v17m2-7v6m2-4v9m2-10v14m4-20v14m2-15v29m4-20v24m2-25v9m2-4v0m6-5v6m2-14v19m2-17v14m8-7v4m2-7v9m2-9v4m4-10v12m2-7v11m2-12v12m10-10v3m2-10v8m2-9v10m2-6v6m4-12v15m2-24v17m2-15v33m2-27v15m2-14v12m6-1v7m2-7v8m14-2v0m4-1v3m2-7v6m2-3v7m4-20v25m2-25v17m2-6v7m2-8v6m6-2v12m2-14v10m4-20v16m2-15v18m10-10v10m4-16v9m2-4v3m4-10v16m2-17v11m6-24v27m4-11v9m2-11v14m10-11v4m4-5v9m4-8v9m2-8v8m2-8v5m4-5v5m4-11v12m6-6v8m2-20v18m2-4v7m2-6v9m2-16v12m2-10v11m2-10v12m2-10v8m8-10v12m2-12v10m4-4v9m2-12v7m2-3v9m2-13v19m2-21v27m2-22v17m2-18v11m10-9v8m6-10v6m2-6v11m2-18v15m2-14v18m14-24v22m4-10v10m4-12v7m6-5v2m8-11v16"/><path stroke="#c8d6ce" stroke-width="6.2" d="M0 1l5-12 6 12 7-9 3 20 10-17 2 12 9-8 7 8 2-7 5 12 7-19 5 19 6-20 5 11 5-8 3 7 6-10 2 9 9-11 3 12 1-14 2 20 5-17 5 16 9-8 7 10 9-15 8 14 3-18 8 16 3-14 2 11 3-14 3 17 3-7 8 6 6-6 8 10 9-18 5 20 4-20 2 22 5-22 9 16 8-15 7 16 4-9 5 15 5-21 3 11 5-11 2 13 4-13 7 10 6-11 7 22 3-13 4 13 2-16 9 7 10-8 3 4 2-10 8 11 10-14 3 20 9-17 6 14 8-17 8 9 5-4 7 7 6-14 4 21 8-22 5 21 7-11 3 4 8-9 8 11 7-15 9 18 4-11 9 11 4-16 4 14 5-5 9 12 6-20 7 16 3-8 2 13 4-15 4 14 10-12 4 4 5-13 8 14 1-6 3 9 10-8 9 14 7-18 6 18 3-16 6 10 2-10 3 7 6-17 4 22 10-18 4 19 5-13 4 10 9-14 6 16 2-19 9 15 9-10 2 19 6-16 2 18 8-17 7 12 6-11 3 18 4-22 9 21 3-17 9 15 6-19 5 22 8-27 9 23 1-12 6 19 8-23 4 22 2-23 9 16 1-12 3 11 6-15 2 18 4-16 7 11 9-18 2 15 8-18 7 20 3-14 4 11 7-6 5 16 10-15 9 6 2-5 7 10 10-14 9 8 6-4 9 11 2-16 10 18 2-13 11 10 2-17 2 14 2-5"/><path stroke="#e0340f" stroke-width="3.4" d="M92-5l5 13 1-12 3 7 6-7 9 10 2-8 3 6 2-12 4 14 7-10 3 6 1-6M292 5l2-8 5 6 7-6 6 11 3-13 5 11 8-9 2 11 8-14 5 16 6-15 4 15 8-15 3 10"/><path stroke="#e0340f" stroke-width="5.6" d="M0 13l4-16 8 15 6-20 6 9 8-15 2 22 7-16 2 17 6-15M147 16l1-20 6 16 2-27 8 25 7-17 1 7 3-19 3 21 2-16 8 20 4-12 3 9 5-13 4 25 8-23 7 11 4-5 4 17 2-28 1 20 5-18 7 15 6-20 2 24 7-14 2 15 8-21 5 23 5-17 1 12 2-14 6 15 2-15M371-12l7 25 2-15 2 17 3-19 4 12 6-12 3 9 2-13 8 15 3-20M796 14l6-23 4 19 2-8 3 11 5-22 9 27 3-24 5 18 6-22 5 24 3-20 3 9 5-10 7 10 8-8 4 13 6-14 3 15 4-28 2 31 4-31 3 23 7-17 7 13 1-9 7 10 6-12 4 14 3-15 1 15 5-9 3 16 4-27 1 29 5-23 2 24M832-5l7 21M870 10l2-26 3 19 7-12 8 8 1-7 4 8"/></g>
<g transform="translate(30.50 132.25) scale(0.5)"><path stroke="#b89878" stroke-width="6.0" stroke-dasharray="0 4.0" d="M2-5v9m2-9v22m2-23v12m12-3v6m4-8v11m2-8v5m2-21v28m2-17v16m10-16v9m2-5v7m10-19v19m2-14v8m6-12v14m2-21v22m2-12v11m18-17v8m4-9v11m2-8v7m6-4v11m2-18v22m2-14v8m8-4v16m2-21v26m6-22v7m2-17v23m2-11v14m4-15v3m12-1v10m4-10v7m2-7v4m4-7v11m10-7v14m2-13v24m2-32v15m2-12v9m2-11v16m4-9v2m2-3v2m6-2v5m4-11v11m6-6v9m4-14v9m16-6v6m2-11v16m2-18v19m4-19v13m2-12v10m2-16v31m2-32v36m2-36v17m6-9v8m2-3v15m2-16v8m14-10v12m4-13v22m6-18v12m6-21v17m2-14v8m2-6v12m2-27v28m2-15v16m8-17v17m6-13v8m2-7v10m2-13v14m8-10v2m2-8v8m2-11v12m4-8v11m2-22v24m2-15v14m2-11v8m2-9v6m4-4v5m2-3v12m2-15v9m2-4v1m2-8v10m6 0v1m2-3v10m4-18v19m10-15v16m2-18v13m6-14v10m2-8v14m4-23v15m2-4v9m18-8v12m6-12v16m2-9v17m2-27v13m6-7v19m2-20v11m6-5v6m2-8v3m2-13v14m2-7v15m8-21v13m2-10v13m2-21v10m4-10v10m4-9v12m4-4v2m2-7v11m2-10v7m2-1v8m4-14v12m2-13v15m6-10v17m8-17v7m10-7v7m14-16v11m14-15v13m2-8v11m2-9v6m8-12v12m2-10v14m8-4v6m4-12v11m2-12v15m4-16v25m16-26v12m2-5v3m4-4v9m2-9v7m4-6v7m2-6v6m8-16v14m2-12v32m2-34v22m4-13v9m2-10v5m14-5v7m6-18v28m2-27v28m22-13v1m4 0v0m14 1v4m2-9v13m4-12v6m2-2v2m2-3v2m2-4v11m2-14v21m2-16v15m6-17v9m2-6v3m22-5v5m4-10v8m10-12v22m2-17v5m14-6v5m2-3v19m2-25v15m14-11v7m2-3v9m2-14v12m2-11v21m2-27v38m2-36v26m4-17v2m2-7v13m2-18v16m2-8v6m4-10v9m8-5v7m12-14v13m2-9v6m16-5v6m4-11v13m2-17v15m6-4v5m6-9v11m6-12v12m2-6v16m2-14v5m6-19v19m2-15v10m8-4v4m4-4v6m2-14v14m2-18v19m2-14v11m10-7v12m10-7v7m12-6v10m8-18v17m2-15v15m2-7v7m2-7v8m2-12v15m10-12v8m4-11v16m22-22v16m2-14v13m4-19v15m2-11v9m2-12v15m4-11v6m2-8v9"/><path stroke="#800030" stroke-width="6.0" stroke-dasharray="0 4.0" d="M2 0v14m6-14v14m2-23v13m2-9v10m4-8v5m2-4v13m6-14v8m2-20v24m2-27v22m6-5v5m2-6v4m2-8v12m8-8v8m4-10v11m2-6v7m4-10v10m2-7v10m14-11v8m6-3v6m2-9v13m2-13v6m2-14v23m2-13v7m4-10v7m4-15v10m2-7v15m2-15v9m2-9v6m2-10v7m8-22v32m2-32v36m4-15v6m2-7v9m12-8v10m4-7v5m2-14v12m10-6v10m4-9v13m2-20v18m2-9v13m2-14v7m4-12v16m4-21v15m2-6v16m4-20v13m2-9v6m2-6v11m2-15v14m12-17v14m2-13v9m4-11v14m2-14v5m2-4v8m2-6v2m2-7v6m8-10v21m2-13v9m6-6v10m10-5v8m12-12v7m8-5v11m6-19v13m4-4v14m2-17v9m4-6v12m2-25v19m2-11v19m2-17v15m2-13v8m8-11v8m4-8v13m2-12v22m2-29v16m2-7v7m2-13v16m4-10v21m2-22v15m6-7v7m2-7v4m2-3v10m2-20v19m2-11v8m4-11v13m2-11v5m2-4v1m6-10v10m2-4v9m10-13v8m8-10v15m4-10v8m6-12v17m2-17v8m4-8v9m2-10v18m2-15v9m6-9v9m2-7v7m6-9v17m2-28v18m2-13v14m2-24v34m2-27v27m2-12v11m8-8v7m8-15v7m20-7v10m2-12v8m10-3v4m6 0v5m2-7v9m8-11v7m2-7v6m2-11v8m2-11v7m4-10v9m8-10v8m8-5v15m2-18v25m2-18v11m4-21v18m2-6v13m4-28v24m4-15v8m10-27v36m2-28v41m2-30v14m8-10v9m2-12v17m2-11v8m4-11v8m4-2v5m2-11v17m2-16v10m2-7v8m2-19v21m2-15v21m2-23v19m2-14v7m4-11v14m12-16v12m2-11v7m4-6v9m2-8v13m2-11v11m2-19v13m2-9v8m6-4v16m2-14v11m2-13v10m2-14v18m2-30v26m2-13v30m2-25v13m14-26v25m22-9v16m2-17v7m2-5v5m2-8v7m8-10v7m2-6v6m2-5v3m14-4v9m2-16v12m8-8v10m2-5v7m2-8v11m2-17v16m2-13v15m6-11v1m2-5v6m6-12v12m2-23v21m4-10v16m4-11v9m2-13v26m2-28v23m2-17v6m4-1v0m2-5v11m2-13v14m8-8v4m2-5v5m2-6v10m2-17v15m2-13v12m4-14v28m2-34v41m8-29v9m6-7v6m6-4v12m2-10v9m8-20v12m2-7v15m4-11v8m4-13v13m6-10v12m6-18v15m2-13v12m4-11v12m2-5v14m2-20v24m2-18v12m10-15v13m2-14v15m4-16v5m4-8v6m2-5v12m8-11v12m10-18v14m2-7v13m10-11v7m8-8v7m2-15v13m4-6v11m2-12v10m2-8v6m6-9v10m2-16v13m2-15v19m4-11v14m4-11v7m4-8v13m2-13v11m8-10v12m6-11v9m18-13v7m2-5v5m8-6v6m2-2v8m4-11v8m2-6v6"/><path stroke="#00e020" stroke-width="6.0" stroke-dasharray="0 4.0" d="M6-18v29m2-17v22m2-22v10m4-12v15m8-10v7m2-5v7m2-17v17m2-15v12m4-6v5m6-10v20m4-21v12m8-13v17m6-18v22m2-21v21m2-9v6m6-11v24m4-22v35m2-46v26m2-15v15m6-21v13m2-30v37m2-29v35m6-16v6m10-17v30m2-19v2m2-4v16m4-31v46m4-42v22m2-8v14m2-18v20m4-15v6m2-6v1m2-2v0m12-9v11m2-14v10m2-13v19m2-14v26m2-27v35m2-29v27m2-54v36m2-33v47m2-36v29m6-16v14m4-33v33m4-13v26m2-33v22m8-18v11m2-15v17m4-13v9m2-8v10m2-7v20m2-37v48m2-31v32m2-35v11m6-14v11m4-27v27m2-23v52m2-55v32m2-31v26m2-32v42m2-22v29m2-23v10m12-12v10m8-8v13m4-10v6m4-12v19m4-23v19m2-23v18m2-21v32m4-26v21m4-18v9m2-9v6m2-8v15m2-15v8m4-7v17m2-23v25m2-24v14m2-9v16m8-15v7m2-13v30m2-39v55m2-59v34m4-15v22m2-29v15m2-11v8m6-13v15m2-12v8m6-11v15m4-11v23m4-24v38m8-34v17m4-11v7m2-5v11m2-14v12m4-7v7m4-7v7m6-19v16m2-12v13m2-24v32m2-20v22m2-24v9m2-5v15m12-15v10m2-12v17m2-22v20m2-40v30m2-21v30m2-21v17m6-24v30m2-32v50m2-34v30m4-29v7m2-5v15m2-13v8m2-17v18m2-9v13m4-20v14m14-10v28m2-37v22m4-19v14m8-8v11m2-10v7m6-10v20m4-27v22m2-25v32m2-25v21m18-25v24m2-14v10m2-10v6m2-11v11m4-7v13m2-15v8m6-12v7m2-8v10m4-8v5m4-4v8m2-7v10m6-7v0m2-5v8m4-3v2m4-3v11m2-12v7m2-16v17m4-20v17m8-15v14m2-20v26m4-30v35m2-26v39m2-41v22m2-16v13m2-17v21m2-25v31m4-16v14m6-30v34m2-22v13m2-11v19m4-32v29m4-12v5m4-7v5m12-10v10m2-17v17m2-5v7m2-4v7m2-8v14m28-8v0m10-9v14m4-14v18m2-23v15m4-19v25m2-13v20m6-28v12m2-3v5m4-7v7m4-8v10m2-12v9m8-5v5m2-8v9m4-5v9m2-9v5m6-6v20m2-32v25m8-19v16m2-11v7m4-5v3m4-2v1m8-19v16m2-12v23m2-15v1m2-4v12m2-9v8m2-7v4m4-8v13m2-12v13m2-13v7m2-3v12m2-13v11m2-15v11m2-5v8m6-9v8m2-8v19m2-20v8m2-17v28m4-25v22m2-26v24m2-25v21m2-14v14m2-5v8m2-18v17m2-10v9m4-28v31m2-25v25m2-18v22m2-31v28m2-13v17m2-33v26m2-14v14m2-12v9m4-7v5m6-6v2m2-9v9m2-5v7m8-7v10m2-15v15m4-16v20m2-19v12m2-13v17m4-9v8m2-7v15m4-34v28m2-11v24m2-20v10m6-27v26m2-41v58m2-30v22m4-24v11m2-13v12m10-5v7m4-6v4m6-3v9m8-15v20m2-15v7m2-9v14m2-19v20m2-16v12m2-16v25m2-29v24m2-12v8m4-5v1m2-6v7m4-3v7m2-22v26m2-10v13m6-13v3m12-7v11m2-23v18m2-22v25m4-12v6m2-9v20m6-12v7m6-13v21m2-25v20m6-11v6m2-5v0"/><path stroke="#50e0a8" stroke-width="6.0" stroke-dasharray="0 4.0" d="M2-5v8m2-10v23m4-25v12m2-7v13m2-9v1m2-5v6m2-8v9m4-6v12m2-7v6m4-7v5m6-5v9m2-12v13m2-8v0m6-7v11m4-16v12m2-17v38m6-31v18m2-15v16m2-15v9m2-8v9m6-37v46m2-40v39m6-20v16m2-21v15m2-8v5m2-1v1m8-1v5m10-13v15m2-20v18m4-4v10m2-18v12m4-15v20m2-11v11m2-19v11m2-9v11m8-7v7m2-13v11m2-5v8m2-7v6m12-9v8m2-18v20m2-32v40m2-37v30m2-20v17m2-21v25m2-15v17m4-16v15m2-13v9m10-3v8m4-23v20m2-8v12m4-14v8m2-6v16m4-14v1m2-4v9m2-20v21m2-12v6m8-2v6m2-14v17m2-8v5m8-13v14m2-31v35m4-16v12m2-8v11m2-20v15m2-4v13m4-13v9m16-12v2m6-20v24m2-14v20m2-20v20m2-19v18m2-20v16m2-10v10m4-6v10m2-16v21m2-23v15m2-9v25m8-28v13m2-9v9m8-13v10m2-10v21m8-26v22m2-24v37m2-35v16m6-11v17m4-13v9m2-14v15m2-20v18m2-3v0m2-2v16m2-21v24m2-18v2m8-5v7m4-7v19m8-24v18m2-10v9m2-11v9m4-11v24m4-30v20m2-11v16m4-41v39m2-22v38m4-51v26m2-25v34m6-15v3m2-7v6m2-8v18m2-26v16m2-13v13m4-3v11m4-10v8m6-16v14m2-21v46m2-41v40m2-39v28m4-23v10m2-5v10m2-7v2m2-5v11m2-11v13m4-13v9m2-12v14m6-7v2m6-5v9m2-17v16m4-5v7m6-9v8m4-10v10m6-15v15m8-14v7m4-3v7m2-7v8m2-4v7m2-9v12m10-16v23m2-33v30m2-23v25m2-23v10m4-5v4m2-3v7m2-13v17m4-11v2m8-15v14m4-7v7m6-26v32m2-12v12m2-16v10m2-16v19m2-20v22m4-9v14m2-13v13m2-13v7m4-6v11m2-8v14m2-18v14m6-19v14m2-9v17m2-22v16m2-10v11m16-13v7m2-14v18m6-13v10m2-11v17m2-13v14m2-18v18m4-22v12m4-7v12m2-11v6m28-2v2m8-5v9m10-11v3m10-5v19m4-19v7m8-8v26m2-32v24m10-14v36m2-50v20m2-7v10m10-20v16m2-13v8m4-13v17m2-12v9m4-7v9m2-6v10m2-11v6m8-9v16m4-19v11m6-2v16m2-27v36m2-28v16m2-12v16m6-18v7m4-5v10m2-19v15m2-19v20m2-8v10m2-12v26m4-40v20m2-5v5m6-5v9m2-12v19m2-34v31m2-12v15m4-12v14m4-14v13m10-15v6m2-5v3m6-11v16m4-13v9m4-7v13m6-17v19m2-16v16m2-11v15m4-16v20m4-15v8m2-2v2m2-2v5m2-11v16m2-18v13m2-12v10m2-28v38m2-29v41m2-40v31m2-23v6m6-9v7m6-8v1m2-3v10m4-10v14m2-22v25m2-17v8m4-6v10m4-15v34m2-40v18m6-7v2m2-9v17m6-14v12m2-14v23m4-19v8m2-12v12m2-5v7m2-10v7m2-5v3m4-6v11m2-12v19m2-20v8m14-4v12m4-14v13m2-25v24m2-11v7m2-3v13m4-21v30m2-26v20m4-22v11m6-3v0m4-16v20m2-19v34"/><path stroke="#1060f0" stroke-width="6.0" stroke-dasharray="0 4.0" d="M4-11v15m2-4v23m2-49v41m2-22v33m2-28v22m2-23v7m4-10v16m4-14v12m4-6v18m2-15v7m4-8v4m4-13v14m2-18v31m2-23v14m4-11v13m4-15v7m2-17v17m6-7v11m8-33v42m2-34v24m4-27v28m4-36v35m2-38v38m2-22v19m4-15v10m2-8v7m2-22v32m2-27v34m2-26v11m4-11v28m2-26v10m2-7v13m2-20v15m2-17v22m4-13v31m2-34v38m2-32v17m2-12v1m6-16v24m2-14v7m6-10v10m4-9v11m2-14v15m2-15v25m2-22v28m10-26v10m4-13v14m6-19v13m4-14v14m2-10v6m2-3v2m8-9v12m2-12v20m2-16v8m2-5v1m2-22v32m2-32v40m2-31v37m2-33v35m2-41v25m2-11v19m2-29v22m4-22v20m8-5v8m2-24v19m2-7v16m4-28v27m2-13v9m4-10v5m4-10v10m4-7v22m2-24v19m10-19v12m6-9v11m4-3v11m2-13v7m4-2v0m2-7v7m2-8v7m6-8v5m2-19v20m4-13v16m8-14v10m2-11v20m2-23v10m2-4v12m4-26v30m8-17v16m6-8v7m2-23v24m2-19v20m2-25v21m2-10v12m4-9v9m2-9v2m4-13v15m4-17v29m2-21v5m2-12v13m2-15v20m2-10v5m2-9v7m8-11v10m2-23v26m4-9v17m2-22v19m2-15v20m4-20v20m4-16v20m6-25v8m4-5v6m8-11v5m2-15v19m2-16v16m12-6v10m2-14v20m2-18v22m2-16v9m2-14v30m2-50v59m2-46v34m4-25v30m2-54v51m2-47v52m4-44v29m2-21v34m4-33v19m2-11v8m2-6v3m2-14v34m2-34v37m2-47v28m2-11v7m2-19v27m2-18v9m4-14v29m2-40v28m4-9v12m4-18v28m6-26v13m2-9v10m10-14v20m2-13v19m6-17v7m4-20v24m4-38v39m4-13v3m2-5v7m2-14v18m2-11v12m8-22v40m4-33v14m2-15v7m2-24v48m2-32v25m2-25v7m10-7v11m2-13v8m8-13v14m4-6v7m2-7v8m4-13v11m8-6v21m4-30v25m2-13v8m8-11v12m2-12v12m2-8v8m2-19v18m2-12v15m2-14v8m6-7v5m2-7v7m4-6v10m20-8v2m2-2v1m2-2v2m2-1v4m12-5v11m2-15v33m8-32v16m12-11v3m2-29v38m2-16v14m6-13v10m2-9v10m4-8v8m2-9v8m2-8v28m2-49v44m2-22v7m8 0v5m4-11v10m6-15v14m2-24v26m6-32v30m4-25v21m4-8v6m12-1v0m2-1v1m4-3v7m2-14v10m2-13v33m8-33v17m2-27v18m2-5v8m6-10v15m4-12v1m2-14v16m4-3v10m2-11v10m2-4v6m6-5v8m2-9v28m2-31v19m8-13v12m2-21v17m10-13v8m2-10v11m2-7v25m2-35v33m2-42v38m2-35v25m2-16v16m2-13v8m2-10v11m2-8v9m2-18v27m8-20v13m6-20v14m2-19v24m2-38v46m2-36v35m2-15v5m4-6v6m4-2v2m2-1v2m6-13v14m2-3v4m2-19v28m2-20v13m6-17v20m2-12v24m2-34v23m2-19v16m6-21v15m2-9v8m2-5v9m2-21v23m2-15v8m6-6v12m2-14v8m2-12v25m2-20v12m2-6v4m8-17v20m2-7v28m2-54v36m2-22v27m2-16v14m2-29v34m2-32v26m4-8v7m2-8v5m2-8v30m6-30v16m2-21v23m6-9v5m2-5v1m4-15v20"/><path stroke="#00d890" stroke-width="6.0" stroke-dasharray="0 4.0" d="M2 0v5m8-7v11m4-13v14m4-15v21m4-20v8m8-8v14m2-19v12m2-5v7m2-12v12m4-11v9m2-7v9m2-10v9m2-14v18m6-21v34m2-32v22m2-24v22m2-7v7m2-14v15m4-7v13m10-16v6m2-11v15m2-10v10m10-10v9m2-10v12m4-29v29m4-12v8m2-9v18m2-25v13m8-15v14m2-11v8m2-12v12m2-12v14m6-12v12m4-2v10m2-10v12m2-10v22m2-29v25m16-24v14m4-14v9m4-8v8m2-4v7m2-5v1m2 0v2m10-11v17m6-12v8m8-4v1m4-1v1m6-4v9m2-11v19m4-16v8m2-7v6m14-11v21m2-20v14m2-15v22m6-19v11m12-23v21m2-14v9m10-6v19m2-40v33m2-21v17m2-9v15m2-23v34m2-33v14m6-4v7m2-16v28m2-40v37m2-36v36m2-15v12m2-16v9m2-4v21m6-18v11m14-8v1m2-5v13m2-19v26m6-17v6m2-10v17m2-19v19m2-16v10m6-10v17m2-20v5m10-1v13m2-30v27m2-33v30m4-26v31m2-39v50m2-38v27m6-21v13m4-14v18m4-15v3m4-19v19m2-24v40m2-35v18m4-13v12m2-10v9m2-5v0m4-5v10m4-7v25m4-21v5m2-5v11m2-8v7m2-13v10m2-9v8m4-20v29m2-20v20m2-19v17m2-16v8m10-8v12m4-8v14m4-10v3m2-3v5m2-13v11m2-14v17m2-12v13m2-11v10m2-9v2m4-5v5m6-3v8m2-12v18m2-12v12m4-13v11m6-13v10m4-8v14m2-14v11m6-15v15m2-25v15m2-23v36m2-38v31m2-16v14m2-9v9m2-13v21m2-17v9m2-13v11m2-9v19m10-16v7m2-8v10m2-9v7m2-11v7m2-5v6m2-15v11m2-4v12m6-13v9m4-10v13m6-7v0m2-8v12m6-3v11m4-1v6m2-8v10m2-9v10m2-9v7m4-17v19m2-14v7m6-10v11m2-7v8m4-8v8m6-16v32m2-24v19m2-26v26m6-18v5m6-11v9m2-4v9m8-19v30m20-20v1m4-2v1m10-14v17m2-12v18m8-15v8m6-8v15m2-20v13m2-8v10m2-6v8m2-9v11m4-17v11m2-13v14m2-9v7m2-24v33m4-15v14m6-24v29m8-14v0m6-11v21m4-15v20m2-17v13m2-10v8m4-13v11m2-6v12m2-13v15m2-15v13m2-18v20m2-25v13m6-8v7m4-5v9m2-19v20m2-16v28m2-28v16m2-7v7m2-9v10m4-15v14m10-7v11m4-14v7m2-6v6m2-6v8m8-9v7m2-11v9m4-11v17m8-11v5m2-13v15m2-19v19m2-22v26m2-20v16m6-12v8m4-12v19m2-14v15m2-16v17m2-24v19m2-11v8m14-4v8m6-10v9m4-8v10m2-15v11m4-4v1m6-8v18m6-21v7m12-3v13m14-6v16m4-26v16m2-10v18m2-20v18m2-18v19m8-17v6m2-7v11m8-7v7m10-5v5m2-5v3m4-13v15m2-14v30m10-21v11m2-10v15m8-25v22m2-11v7m2-9v10m4-11v14m8-16v8"/><path stroke="#10e070" stroke-width="6.0" stroke-dasharray="0 4.0" d="M0 10v4m4-6v16m12-28v12m14-11v6m2-14v31m2-27v27m4-30v10m2-12v17m2-9v8m2-18v21m2-16v11m2-7v7m2-7v8m4-16v21m2-13v36m2-37v36m8-42v18m2-13v21m2-30v21m2-11v11m2-7v7m2-14v21m2-19v13m4-9v13m4-6v6m2-14v12m2-6v7m2-6v1m2-9v13m2-16v31m2-26v27m2-26v12m4-11v13m8-14v7m2-10v17m2-17v22m2-17v6m6-8v18m4-18v24m2-27v16m4-13v2m12-5v9m2-16v18m2-12v8m2-6v8m2-7v15m10-23v23m2-19v17m2-15v38m2-38v9m2-21v28m2-29v30m6-20v14m2-17v11m4-8v14m2-10v6m6-19v20m10-5v28m2-48v44m2-21v11m2-13v7m6-12v11m6-9v4m4-10v11m10-11v11m4-9v12m2-12v13m2-7v18m2-13v8m2-17v19m4-8v8m4-12v11m2-13v7m8-7v7m6-7v6m4-5v6m6-6v8m2-3v3m8-10v5m4-3v7m4-7v3m2-11v12m2-10v8m8-5v9m2-16v17m2-13v10m4-7v9m2-9v10m4-16v22m2-22v39m2-39v41m2-30v12m2-13v6m2-7v17m6-14v9m2-19v15m4-13v17m2-9v7m2-6v0m4-13v17m2-10v15m2-21v14m4-12v15m2-12v14m10-8v7m12-9v10m12-7v9m4-19v17m2-8v17m4-21v11m4-10v18m12-14v13m2-17v14m2-14v10m2-17v18m2-28v39m2-42v58m2-53v48m2-31v12m6-18v12m2-15v10m2-5v11m2-11v4m4-7v5m2-7v17m2-19v12m2-9v11m2-6v2m6 1v2m2-2v6m4-10v7m4-8v16m6-17v14m2-19v13m6-29v30m4-8v7m2-9v11m2-33v33m2-18v22m10-32v27m4-8v7m4-9v9m6-21v27m2-10v25m6-20v0m4-3v2m2-2v1m2-6v6m2-9v17m2-13v7m2-10v6m2-2v2m8-6v5m6-7v11m2-22v23m2-22v26m2-24v36m4-23v4m2-4v13m2-23v28m2-16v7m4-9v11m2-22v24m2-40v47m2-26v15m2-28v25m2-27v29m24-37v43m2-16v7m14-13v12m6-12v12m10 0v6m4-6v4m2-8v11m2-8v6m2-2v5m2-13v13m4-8v11m2-14v8m6-9v7m2-5v7m4-15v15m2-23v25m2-12v12m6-15v7m2-9v13m2-10v7m6-10v12m6-5v10m4-11v22m2-21v13m8-16v11m2-3v2m2-7v9m10-35v46m2-40v57m2-49v37m10-30v10m4-8v13m2-18v16m2-8v5m8-12v20m8-17v3m4-7v27m2-42v26m6-7v7m2-5v8m4-5v1m2-2v13m2-14v13m6-10v10m2-9v7m2-11v7m2-7v34m2-30v24m2-27v6m2-13v16m2-12v26m2-21v7m2-10v9m6-9v8m2-4v2m2-3v10m2-30v27m2-22v24m2-15v10m2-10v26m2-41v32m2-28v23m10-6v2m6-2v17m2-21v24m2-17v10m6-12v19m6-26v13m8-17v13m4-8v8m2-6v11m2-11v13m6-21v18m2-9v7m4-4v8m4-11v19m6-30v34m2-30v28m6-50v66m2-42v39m2-45v24m4-19v16m4-12v12m2-12v15m4-9v17m2-17v22m2-18v12m4-29v30m2-36v48m2-36v33"/><path stroke="#40e8f0" stroke-width="6.0" stroke-dasharray="0 4.0" d="M4-4v7m2-9v13m6-14v8m2-6v6m2-17v19m2-21v29m2-21v10m8-1v10m2-12v5m2-2v6m4-8v5m6-10v10m2-11v10m8-7v9m2-10v12m4-8v15m2-14v16m6-18v7m8-13v36m2-39v19m2-7v5m2-10v10m2-6v8m4-15v26m4-46v42m4-18v6m2-6v11m6-18v15m2-7v22m2-20v16m6-20v11m6 0v0m6-1v11m4-22v21m4-11v9m4-9v11m2-31v31m2-16v21m4-43v34m2-14v27m4-20v5m2-7v9m4-17v15m2-23v26m2-14v11m2-18v27m2-29v26m2-9v8m4-10v9m4-10v10m16-14v1m2-6v6m4-9v18m4-16v11m8-2v3m2-3v6m2-12v21m4-21v17m2-16v13m4-13v6m2-20v28m2-32v31m2-26v23m2-20v18m2-9v5m2-1v8m2-15v11m6-2v7m6-5v3m2-5v9m14-10v16m2-13v14m2-22v16m2-25v25m2-11v25m6-35v30m6-25v16m2-20v13m2-5v13m10-16v25m2-21v15m2-15v6m2-10v6m14-12v25m8-29v20m4-13v12m8-10v5m2-5v15m2-19v12m4-14v19m2-9v6m6-5v7m8-9v10m2-10v16m2-24v16m2-27v33m2-14v19m2-18v11m10-11v14m4-21v24m12-36v37m2-28v26m2-16v1m6-3v3m2-10v26m2-48v37m2-31v51m2-53v34m4-9v0m4-4v8m2-9v18m6-23v32m2-28v19m4-18v8m4-7v8m2-7v7m2-1v0m2-12v17m2-19v18m4-10v26m2-24v16m6-17v9m4-11v22m2-14v8m8-21v19m2-9v19m2-15v9m2-12v10m2-15v18m2-19v18m10-18v15m2-14v12m4-11v6m2-14v27m6-18v8m2-11v9m18-4v2m4-7v11m2-8v16m2-23v15m2-14v15m2-33v37m2-17v23m4-16v10m10-10v9m2-8v15m2-23v15m10-11v10m2-7v18m4-19v5m6-12v14m2-4v11m18-24v31m2-19v1m26 0v7m4-5v6m10-19v28m4-16v8m2-9v11m2-10v9m6-11v8m4-10v11m4-10v17m4-20v19m2-21v14m14-15v24m4-14v1m2-5v6m2-10v14m2-15v32m4-26v11m4-16v12m2-11v18m2-21v24m2-26v12m2-13v10m2-22v23m2-25v50m2-40v33m6-37v18m2-15v13m2-17v24m2-22v13m4-17v41m2-57v61m8-38v15m2-9v21m4-20v7m2-5v16m4-22v11m2-6v6m2-6v12m2-14v12m6-6v3m6 0v0m2-5v9m6-4v5m2-26v36m2-19v28m4-28v12m6-15v17m10-29v31m2-19v2m2-7v33m2-39v30m4-20v6m4-2v8m2-13v12m4-15v21m2-11v18m6-14v1m4-11v17m4-11v9m2-8v11m4-23v27m2-21v24m2-22v21m4-21v17m6-17v9m2-11v12m2-11v7m4-9v13m2-13v9m2-8v17m2-15v12m2-23v24m2-11v9m2-7v7m2-9v11m2-9v10m2-14v20m4-16v12m2-16v10m4-8v23m2-43v32m8-9v6m2-13v18m8-14v11m2-6v6m2-10v7m4-9v7m2-9v10m2-12v13m2-14v12m2-12v22m2-18v7m4-6v13m4-12v15m2-33v37m2-21v24"/><path stroke="#f02090" stroke-width="6.0" stroke-dasharray="0 4.0" d="M2-6v12m2-6v8m2-8v6m2-12v8m2-30v43m2-34v24m2-8v9m10-14v8m4-12v19m2-32v49m2-52v28m2-17v18m4-7v5m2-7v9m10-10v28m2-31v25m2-19v12m2-6v7m4-7v7m10-5v6m6-11v28m2-33v13m2-22v26m2-9v10m8-16v7m2-8v19m4-16v8m2-13v27m2-20v9m4-8v6m2-10v12m4-22v16m2-16v23m8-13v9m2-11v7m2-3v5m2-5v9m2-19v20m6-10v11m2-18v13m2-7v8m2-12v13m4-11v12m2-22v26m2-12v12m2-24v46m2-45v29m2-23v18m2-20v20m2-7v4m2-12v16m8-16v10m8-40v56m2-27v11m4-15v14m4-18v20m4-14v6m8-8v10m2-2v8m6-23v38m2-21v20m6-29v19m2-19v40m2-37v24m2-22v10m2-10v21m2-27v17m2-9v12m4-16v9m6-15v28m2-14v6m2-7v8m4-9v6m10-3v13m2-21v12m2-7v18m2-21v32m2-25v13m2-30v48m2-63v53m2-27v21m2-38v31m4-15v11m6-24v20m8-38v49m2-35v16m10-2v7m8-9v5m2-7v11m2-8v7m4-12v13m4-16v15m2-20v26m2-18v14m2-6v13m6-19v21m8-18v13m2-25v25m2-9v6m2-3v6m2-22v23m2-24v26m6-13v20m2-20v17m4-15v7m4-12v32m2-32v31m2-45v36m4-29v19m2-24v34m4-16v11m4-27v23m2-8v14m2-17v21m2-29v32m2-37v40m2-53v39m4-19v21m6-15v8m6-11v25m2-17v12m4-16v19m4-19v20m2-25v22m4-24v24m4-19v7m2-4v19m2-23v14m4-10v2m2-8v14m2-9v7m2-6v6m2-8v9m2-7v6m2-17v16m2-7v10m6-16v15m2-3v8m2-37v46m2-16v19m6-23v10m2-4v15m6-14v8m6-6v2m4-2v1m2-2v5m2-18v16m4-7v9m4-22v30m4-20v9m8-15v16m4-10v28m2-27v23m6-20v22m2-21v11m2-19v15m2-10v7m2-7v7m2-9v10m4-16v26m4-34v27m2-12v13m2-16v8m2-20v25m2-17v13m4-11v15m2-28v39m6-42v33m2-24v21m8-21v25m2-23v21m2-13v7m6-3v0m2-7v15m2-26v23m8-12v11m20-7v1m4-18v40m16-28v21m2-14v8m2-5v14m4-35v41m6-15v6m2-18v33m2-43v28m2-24v29m2-25v17m2-4v4m4-5v6m2-10v11m4-20v29m2-36v41m2-31v8m2-19v30m2-21v30m2-38v49m2-64v41m2-10v6m12-8v5m4-13v13m6-7v16m2-40v48m4-40v37m2-17v12m4-36v44m2-32v32m2-22v11m4-26v26m2-21v24m2-31v29m2-24v29m2-40v32m2-35v37m2-17v13m2-9v8m2-15v15m4-11v11m2-12v5m2-5v17m2-19v21m4-24v17m6-12v10m2-20v39m2-46v26m2-8v14m2-15v10m4-5v17m4-13v1m4-4v15m6-22v36m2-34v20m6-25v28m2-40v39m2-17v7m2-12v15m4-22v22m2-9v10m4-8v2m2-2v20m2-21v16m4-19v18m2-25v24m2-19v40m2-47v45m2-38v29m2-34v14m4-10v7m4-13v42m4-39v9m2-9v8m4-7v20m2-18v8m2-25v40m2-51v60m2-43v49m4-40v10m2-13v14m4-8v21m2-22v28m4-28v19m4-17v5m6-11v11m4-8v6m2-7v18m2-18v21m4-21v15m2-17v20m10-16v7m2-7v30m8-40v23m2-30v24m4-9v12m8-17v9m2-12v14m2-14v13m2-8v9m2-7v7m4-8v8m2-11v11m2-3v7m2-9v7m2-8v14m2-10v14"/><path stroke="#d01040" stroke-width="6.0" stroke-dasharray="0 4.0" d="M6-9v15m4-11v12m4-21v16m2-18v19m2-16v19m4-17v15m2-8v17m2-31v27m2-23v16m4-8v9m4-10v19m2-13v16m2-25v18m2-19v21m2-12v10m2-12v9m4-24v29m2-10v15m8-22v12m6-4v12m2-15v14m4-11v8m2-10v25m2-23v17m10-22v25m2-17v7m8-20v18m2-16v19m2-13v9m6-32v35m2-21v23m4-27v18m2-18v22m2-14v11m2-25v46m2-43v46m2-60v40m2-22v15m6-17v32m4-31v31m2-33v19m4-16v11m6-1v8m4-13v18m2-14v9m4-8v4m8-9v13m2-8v5m4-2v11m6-28v33m2-30v22m2-14v15m4-15v14m2-3v8m2-13v17m2-15v20m6-34v27m2-16v25m2-32v26m2-27v19m10-10v4m2-16v22m4-19v27m2-21v17m8-11v13m2-13v9m2-20v14m2-21v31m8-22v11m4-7v12m4-11v7m8-13v14m2-10v8m2-2v11m10-10v6m6-18v21m6-16v12m2-9v16m2-18v15m12-19v10m2-22v30m2-16v10m6-10v14m2-21v20m2-16v22m2-19v17m2-17v7m8-4v6m2-6v7m2-7v8m2-9v11m2-12v10m2-9v12m8-19v39m2-59v43m4-15v7m2-3v1m4-7v11m4-32v33m2-33v32m2-14v12m6-8v15m2-15v10m8-11v7m8-15v25m2-19v14m6-14v17m8-9v9m2-11v16m2-11v8m4-12v14m8-11v7m2-14v9m6-10v20m2-21v11m4-12v12m6-7v8m2-13v18m2-22v14m2-18v19m2-15v15m2-6v9m6-10v5m2-11v10m6-8v6m2-4v10m2-10v18m2-23v13m4-18v25m2-16v28m2-47v40m2-19v11m6-17v14m2-10v8m2-12v11m2-10v12m4-8v6m2-4v15m2-13v7m4-7v7m2-9v16m2-22v16m2-13v14m12-14v19m4-16v12m6-27v30m2-15v8m8-10v9m2-3v9m2-7v1m8-12v18m4-10v0m4-23v30m2-42v35m2-12v17m4-22v12m2-15v20m2-14v10m8-2v6m2-18v23m2-16v13m2-5v11m2-17v11m2-3v8m8-8v0m18-11v29m12-24v9m6-13v10m2-8v18m6-21v12m6-5v23m4-23v18m2-15v7m4-1v7m2-14v20m2-16v20m4-25v40m2-51v27m4-16v10m2-14v8m2-9v11m2-15v14m4-14v17m2-20v22m2-30v28m4-19v12m2-13v17m2-15v12m4-28v31m4-19v13m2-8v20m4-14v5m10-4v6m2-7v17m2-22v20m4-9v9m4-12v10m2-8v9m12-28v30m2-13v8m4-8v3m4-18v18m2-37v41m2-29v33m4-21v18m2-15v17m2-8v4m2-7v7m4-3v5m2-3v9m2-7v8m2-18v14m2-15v32m2-24v19m4-27v20m2-21v27m2-21v10m2-4v8m4-15v8m4-18v22m2-18v14m2-7v7m2-7v14m2-15v19m4-24v10m2-2v6m6-7v3m2-4v13m2-15v7m6-17v23m6-16v14m8-14v19m2-11v12m2-13v10m2-11v12m6-12v9m2-9v18m12-28v31m6-25v8m4-15v14m2-11v10m4-19v19m4-13v32m4-26v8m2-10v9m2-8v6m2-6v5m2-9v25m2-29v18m2-9v10m6-12v13m6-7v8m2-14v13m2-30v46m4-22v7m2-18v22m2-12v9m2-14v11m8-7v9m2-13v18m2-15v18m2-29v22m2-16v22"/><path stroke="#5040c0" stroke-width="6.0" stroke-dasharray="0 4.0" d="M4-17v27m4-14v7m6-10v22m8-13v2m2-1v5m4-6v11m4-19v21m4-17v22m2-16v14m2-18v9m8-8v8m4-9v12m2-23v20m2-17v19m8-17v22m2-18v6m6-7v16m4-16v7m2-8v16m6-18v11m2-8v9m2-6v8m2-23v22m2-32v40m4-17v5m4-7v17m2-15v16m4-21v27m2-26v16m4-15v7m4-5v7m4-6v11m2-9v9m2-13v11m4-11v9m2-14v13m4-11v11m10-10v6m2-1v6m2-15v14m6-5v7m2-11v29m4-21v4m2-5v13m2-23v23m2-14v13m4-16v9m2-9v8m2-9v11m2-22v20m4-32v48m2-40v26m2-13v23m6-15v0m2-6v7m2-4v9m6-8v13m8-16v14m2-9v8m6-9v15m2-18v35m2-47v32m6-25v31m2-49v36m2-18v11m2-5v6m2-9v13m2-10v7m4-6v6m2-6v9m10-11v14m2-25v18m2-15v29m2-36v20m2-5v9m8-16v10m2-5v3m2-2v14m2-14v7m2-11v19m2-18v7m8-17v25m2-23v41m2-27v7m2-15v11m2-5v5m2-11v13m2-30v39m2-25v30m2-27v12m2-21v25m2-36v62m2-62v36m4-14v8m2-16v14m2-4v7m2-26v34m2-28v24m2-13v18m2-28v28m6-16v7m2-6v11m2-7v1m8-3v10m6-13v21m8-18v11m2-8v2m2-2v5m2-11v12m2-11v9m10-13v7m4-9v18m2-24v15m4-13v24m2-25v19m6-4v0m6-5v8m2-3v7m2-21v21m2-12v10m2-4v30m4-30v8m2-6v8m4-36v34m4-12v16m2-19v15m2-22v29m2-32v24m2-13v15m2-14v13m2-14v11m2-22v40m2-24v10m2-15v21m2-23v12m2-6v6m4-4v13m4-16v9m2-12v12m2-32v32m2-21v45m2-34v26m2-23v11m2-9v5m2-3v7m10-9v8m4-16v19m4-9v32m4-31v14m2-22v13m4-5v16m2-13v6m4-7v7m4-9v9m4-27v32m6-37v27m2-11v29m4-29v8m4-15v16m10-15v16m4-30v25m2-9v13m4-17v18m2-9v9m2-9v11m4-11v13m2-18v11m2-3v4m8-16v17m6-13v21m2-15v13m2-16v9m2-9v9m2-10v22m2-21v27m2-34v15m6-6v15m2-35v28m2-20v33m2-30v12m4-5v12m12-10v2m8-2v1m10 1v1m4-6v8m6-18v22m2-37v40m4-31v33m2-16v22m2-24v9m4-21v17m2-9v7m8-18v17m2-18v38m2-34v19m8-6v5m2-8v8m2-3v8m2-8v4m4-6v18m4-15v15m8-17v10m2-25v25m2-11v24m2-30v16m6-6v7m6-12v33m2-25v9m2-14v10m4-15v13m2-8v13m6-16v13m2-22v24m4-11v1m8-6v30m2-30v9m4-6v6m2-6v11m2-10v9m4-15v11m2-16v24m4-19v10m2-6v7m4-7v10m2-15v21m4-20v6m2-1v1m2-2v8m2-18v16m2-10v7m2-10v11m2-29v48m2-27v16m4-11v8m4-12v7m2-9v12m2-9v10m2-7v4m4-10v27m4-39v24m8-8v9m10-16v18m8-18v14m4-3v0m4-1v1m4-11v12m2-5v25m2-28v35m2-46v23m2-12v28m4-18v8m2-10v15m4-35v38m6-16v15m2-16v15m2-15v10m2-10v8m2-15v17m4-15v11m2-8v11m6-24v23m8-20v19m6-8v2m2-12v15m4-9v7m6-10v23m2-23v11m2-8v10m2-6v3m2-12v13m2-9v23m2-22v14m4-23v21m2-13v18m4-21v17m2-17v22m4-20v7m2-8v13m2-23v19"/><path stroke="#1050e0" stroke-width="6.0" stroke-dasharray="0 4.0" d="M0-11v21m2-18v22m2-28v11m18-2v13m6-16v25m6-18v14m4-15v36m2-39v22m2-11v14m4-17v14m2-20v26m4-21v12m4-17v16m2-14v22m2-30v16m4-7v14m2-22v16m4-9v21m2-27v19m6-16v10m2-6v3m2-15v21m2-18v26m2-31v29m2-22v5m4-22v29m2-18v11m2-3v7m4-17v16m8-4v22m2-25v22m4-19v18m6-13v9m4-6v8m6-16v11m4-14v13m2-6v9m2-12v8m2-12v26m2-28v22m6-10v6m2-6v11m4-31v47m4-38v14m2-22v35m2-42v35m2-23v32m2-27v13m4-33v24m2-6v20m4-18v7m4-3v5m4-21v31m2-20v25m4-37v32m2-12v6m4-10v30m2-30v12m2-17v10m2-9v11m2-10v19m2-38v32m4-11v6m2-5v1m2-8v9m4-2v10m2-18v12m6-10v29m4-19v3m4-5v10m2-12v17m4-18v7m4-27v44m2-32v16m2-5v0m2-4v5m2-4v7m2-7v5m6-10v11m2-14v23m4-25v43m2-50v58m2-69v56m2-38v13m2-8v8m2-11v19m4-19v9m2-6v10m4-13v6m4-10v25m2-28v28m2-22v11m2-8v23m4-25v17m2-17v28m2-27v24m2-31v29m2-14v10m8-26v24m2-10v7m4-23v30m2-31v45m4-36v33m2-38v40m4-40v25m2-15v25m4-26v11m4-3v1m2-1v9m2-10v6m2-25v33m2-32v47m10-46v22m2-15v19m2-18v17m4-12v14m2-18v34m2-49v46m2-26v24m8-21v21m2-22v22m4-19v6m4-4v5m2-20v24m2-32v32m2-22v23m4-13v9m4-19v20m2-14v19m2-14v10m2-17v16m2-12v18m2-16v4m8-8v19m2-21v28m2-25v17m6-15v9m2-9v1m4-3v13m2-14v5m2-5v5m2-8v18m14-12v14m4-21v14m14-9v16m2-35v36m2-31v40m2-26v10m2-9v4m2-9v12m2-14v22m2-41v51m2-23v12m4-12v3m2-9v21m2-26v18m6-22v43m2-41v21m2-11v11m2-9v6m2-4v9m2-10v14m2-13v6m2-2v0m6-6v16m2-23v30m2-30v16m2-9v7m2-11v6m16-7v11m2-27v54m2-50v54m2-53v24m2-20v15m8-12v22m4-32v30m2-25v17m4-7v10m2-12v25m2-33v32m2-20v12m2-21v14m2-22v30m2-17v19m2-17v15m16-11v0m2 1v0m16-23v38m4-32v31m2-12v12m4-12v3m2-11v24m2-22v27m2-21v2m6-13v18m6-9v17m2-27v24m2-32v37m2-21v10m2-11v22m2-18v7m2-26v36m4-26v19m2-21v18m2-20v19m2-16v17m8-12v6m2-4v6m6-7v10m6-9v15m4-10v9m2-8v16m2-15v10m2-10v2m4-10v13m2-6v8m2-7v7m2-12v9m2-11v12m4-6v10m4-47v64m2-32v40m2-46v13m4-3v13m4-24v38m2-31v21m2-43v34m2-12v14m12-20v17m4-10v8m2-6v5m2-4v1m6 0v7m2-9v8m2-8v3m2-9v14m4-5v0m2-10v13m2-9v17m2-12v6m4-13v21m2-19v9m2-6v11m2-22v19m4-17v15m6-3v7m2-7v5m2-19v25m4-17v10m2-12v8m2-7v10m2-7v4m6-13v13m2-23v34m2-17v35m10-32v18m4-15v5m2-14v24m2-33v35m2-17v6m2-18v33m2-51v36m2-10v31m2-42v24m2-11v12m8-39v48m2-32v42m2-34v7m4-3v3m6-3v8m2-11v6m4-2v1m4-25v34m6-15v14m2-11v16m2-19v6m2-7v8m10-12v20m2-15v12m4-25v24m2-14v15m2-9v8m2-11v20m2-20v9m8-4v8m4-26v25m2-8v8m2-17v18"/><path stroke="#20d0f0" stroke-width="6.0" stroke-dasharray="0 4.0" d="M2-7v10m8-9v17m4-21v11m2-17v38m2-42v51m2-61v55m4-27v7m10-9v12m2-25v23m2-6v7m4-8v2m4-1v2m6-7v12m2-15v13m6-16v35m2-32v24m4-29v16m2-11v20m14-48v42m2-36v68m2-43v18m4-17v6m6-10v6m2-13v16m2-6v7m2-6v8m2-12v26m4-19v7m8-7v5m4-8v12m2-6v9m4-15v21m2-20v13m2-16v29m2-29v14m2-7v10m6-24v22m2-29v34m4-45v62m2-65v67m2-43v30m4-35v17m2-31v31m2-12v16m2-13v8m2-8v17m4-26v16m2-14v13m2-13v23m2-17v7m8 1v7m2-14v9m4-3v10m2-10v12m2-27v24m2-22v40m2-47v31m2-14v37m2-41v37m2-33v10m2-11v13m2-17v19m2-16v12m2-25v28m2-11v36m2-40v25m2-19v7m4-7v19m2-33v26m2-14v9m2-14v9m6-8v9m4-25v29m2-32v32m2-19v13m6-19v21m2-17v21m6-16v28m2-29v7m2-7v8m2-4v8m2-23v22m2-17v21m8-7v8m12-7v2m4-10v14m2-13v26m2-21v14m2-13v9m2-4v7m2-12v18m2-26v31m4-24v15m6-18v15m2-40v41m2-45v40m2-11v10m2-13v9m2-4v10m6-16v21m2-19v13m6-10v15m4-14v12m6-17v12m4-19v41m2-39v22m4-11v13m4-9v1m4-8v21m2-42v44m2-47v41m2-45v61m2-37v13m2-4v7m10-9v18m4-27v17m2-14v12m4-5v6m2-15v14m2-22v30m2-23v25m4-21v12m2-14v31m2-47v31m4-10v10m2-14v12m2-17v15m2-17v23m2-22v27m4-16v16m2-11v6m2-17v18m10-9v9m2-9v17m6-19v7m2-11v24m8-22v5m2-2v6m2-20v35m8-22v3m8-29v32m2-12v34m2-27v8m2-17v12m4-4v8m2-12v10m2-10v26m10-23v25m2-25v24m6-23v12m8-22v21m2-14v25m2-35v33m2-37v28m4-17v17m6-10v7m8-21v38m2-34v26m2-30v37m2-36v35m8-30v12m2-17v36m2-26v24m8-28v8m4-5v33m2-40v22m2-10v8m4-19v27m2-10v8m4-6v6m2-20v20m4-10v5m4-12v23m4-36v35m8-16v3m4-3v0m8-2v1m16-6v12m2-23v31m2-34v38m2-33v28m2-24v47m2-63v64m2-44v25m4-22v7m2-6v12m2-27v42m2-43v43m4-26v4m4-9v10m2-4v3m10-12v23m2-10v16m6-28v24m2-18v37m2-35v22m8-30v22m2-12v9m6-9v3m4-6v11m4-25v28m4-23v21m2-31v29m2-12v9m2-19v19m2-15v31m4-25v14m4-15v6m10-5v8m2-16v19m2-14v24m2-23v14m2-10v7m2-20v27m4-13v11m2-23v25m4-22v21m2-6v7m2-9v11m2-10v6m4-15v13m6-10v10m10-13v10m2-25v27m6-21v17m2-11v7m2-13v18m2-23v27m2-14v4m4-2v1m4-2v6m4-16v28m10-20v11m6-22v34m4-22v12m4-7v7m4-3v8m2-13v16m2-12v14m4-22v12m10-11v11m2-11v9m2-11v8m4-8v14m2-14v10m2-5v10m2-13v8m2-6v13m2-16v9m2-4v6m4-4v9m2-27v23m2-8v13m10-11v9m8-9v25m2-22v12m12-13v11m2-9v1m2-20v30m2-36v29m2-9v8m4-16v12m2-6v6m2-9v11m2-21v15m2-9v20m4-26v40m2-54v44m2-35v28m4-26v24"/><path stroke="#e04050" stroke-width="6.0" stroke-dasharray="0 4.0" d="M2-5v24m10-18v6m2-6v7m2-15v20m4-10v9m4-19v15m2-8v10m2-10v9m2-10v14m2-16v10m4-20v17m2-33v46m4-21v6m6-6v10m4-20v20m4-26v38m2-22v14m2-8v4m2-3v8m2-7v2m2-7v15m8-23v27m2-21v9m2-16v12m6-12v19m2-16v11m2-12v10m2-15v16m2-33v41m4-34v35m2-18v8m6-8v16m4-14v6m4-4v6m4-10v14m2-9v9m6-12v14m6-4v5m4-5v6m2-8v16m4-18v15m2-12v8m6-33v34m2-33v30m2-12v7m2-9v28m2-39v25m4-23v20m2-17v15m8-13v6m2-18v20m6-7v10m2-12v8m16-4v15m4-11v13m2-19v9m2-7v14m2-24v25m2-11v11m4-13v6m2-3v10m6-17v12m6-9v7m2-5v7m14-10v11m2-16v17m2-9v16m2-14v15m10-13v8m2-17v18m2-14v11m2-15v16m2-12v16m6-18v11m2-12v12m6-16v29m2-20v6m2-15v20m2-34v43m2-55v68m2-32v29m6-33v5m4-5v9m6-8v8m6-10v8m2-7v8m2-3v8m8-9v5m2-9v25m2-22v8m2-6v7m2-8v9m2-11v12m6-23v19m2-29v43m6-26v7m2-8v7m4-6v14m2-20v21m2-16v16m2-24v19m4-27v29m2-8v8m10-15v18m4-8v15m2-19v24m2-30v21m2-17v13m2-16v20m2-20v17m4-12v18m2-35v32m2-17v10m8-3v8m2-15v14m2-17v20m2-9v1m2-6v8m2-4v5m4-17v15m4-9v8m2-12v11m4-10v21m2-27v25m2-18v13m2-13v10m8-6v7m2-6v3m2-6v5m6-9v33m2-55v40m2-15v27m4-30v19m2-21v13m2-4v0m8-5v10m2-6v15m2-16v13m2-9v13m2-27v29m4-22v14m2-11v9m2-15v22m2-13v11m2-13v7m6-7v8m2-15v19m8-12v12m10-34v42m2-36v48m2-37v23m10-20v7m8-18v17m2-15v21m2-15v11m4-5v12m2-14v17m2-23v20m6-9v11m6-19v21m10-23v9m4-15v39m2-63v56m2-35v34m2-28v19m6-27v18m38-12v14m2-5v1m4-25v37m2-15v25m4-23v13m2-10v11m2-9v0m2-4v5m2-6v9m2-11v19m2-24v30m2-36v28m2-19v15m4-17v18m2-15v14m4-10v19m2-44v42m2-23v26m2-25v8m8-5v7m4-17v25m4-34v42m2-39v55m4-32v17m2-22v11m14-11v17m2-17v10m8-7v14m2-14v11m4-18v16m2-12v21m4-20v23m2-31v18m2-6v3m2-7v13m6-24v19m2-6v10m8-10v7m4-4v3m4-4v7m6-7v7m4-8v8m2-18v16m2-14v12m6-9v6m2-3v5m8-15v10m4-9v17m6-15v8m2-6v16m2-15v9m4-8v8m2-6v10m2-13v15m2-10v12m4-10v10m2-19v16m2-14v19m4-20v11m2-17v32m2-20v4m6-13v21m4-26v16m2-5v6m6-16v23m4-17v15m2-12v11m26-18v13m2-11v10m2-6v19m2-35v31m6-15v8m2-3v3m4-7v10m4-9v8m4-12v7m4-3v4m6 0v13m2-21v25m12-22v14m4-12v9m4-8v9m2-12v14"/><path stroke="#3080f0" stroke-width="6.0" stroke-dasharray="0 4.0" d="M4-6v26m2-33v25m2-16v10m6-16v14m2-12v33m2-34v18m2-13v8m2-16v23m2-11v4m2-6v11m2-11v5m2-8v20m2-30v43m2-28v13m2-25v35m2-30v23m10-21v13m10-11v8m2-9v6m2-18v34m2-43v34m2-34v29m2-9v12m6-16v17m4-20v17m4-9v11m4-13v13m2-11v13m4-8v6m2-27v28m2-19v16m8-18v24m6-10v8m2-22v24m2-13v16m2-18v8m4-13v34m2-28v34m2-55v28m2-6v10m2-25v20m2-11v17m2-16v10m4-34v41m2-34v33m4-16v10m2-14v11m4-18v35m2-27v18m4-39v39m2-18v28m2-25v22m2-28v18m4-13v10m4-21v18m4-3v3m2-11v10m4-14v20m2-12v9m2-10v17m2-18v13m2-5v9m4-16v17m20-16v10m2-28v41m4-17v2m4-4v6m2-3v9m4-21v21m4-18v22m2-10v14m8-24v16m4-12v12m4-15v11m8-25v25m2-11v23m6-42v25m2-7v13m2-16v10m2-6v23m4-24v9m2-12v22m2-30v25m2-35v34m2-19v43m4-37v14m2-8v22m2-18v6m6-4v5m2-21v25m2-16v41m2-47v20m4-10v17m4-24v13m2-10v6m12-2v3m4-31v39m2-40v52m8-34v14m2-34v38m2-31v40m2-47v47m2-25v38m2-43v46m2-55v39m2-26v10m2-6v25m2-49v38m2-18v32m8-25v8m2-7v8m2-13v12m4-9v6m2-32v36m2-43v60m2-28v38m2-34v14m4-24v41m6-34v9m4-10v32m2-43v22m2-9v13m2-28v30m8-16v9m2-7v16m2-23v17m2-8v7m4-7v6m4-12v20m2-32v22m2-17v23m2-31v20m2-14v12m2-4v10m8-15v32m2-27v32m2-43v27m4-14v13m4-16v9m4-30v43m2-50v44m10-13v17m12-14v6m8-2v9m2-13v6m4-8v37m2-55v57m2-39v24m2-31v18m2-10v12m6-13v26m2-28v21m2-20v4m4-23v23m2-7v16m8-15v7m6-10v9m2-17v18m2-7v12m4-16v23m2-21v26m2-21v9m2-16v13m4-14v21m2-30v36m4-29v25m2-19v25m2-18v8m2-7v7m2-17v22m2-19v30m2-24v7m2-25v38m6-28v23m2-17v19m2-26v21m2-23v18m2-8v9m4-4v2m4-3v7m8-9v2m18-7v4m2-3v1m8-21v24m2-37v66m2-65v46m2-17v10m2-14v10m14-8v26m4-26v17m2-8v11m6-10v7m4-7v10m4-31v27m2-24v50m2-36v34m2-30v5m2-15v18m2-17v15m4-11v15m2-16v20m6-15v9m6-16v33m4-27v7m2-6v2m2-3v10m2-20v18m2-39v52m4-54v66m6-34v5m2-4v11m2-26v24m2-32v32m2-20v23m6-15v14m2-17v13m2-17v19m2-21v21m2-18v15m2-16v26m4-20v6m4-27v32m2-10v20m2-27v28m2-20v34m2-38v31m8-25v2m6-16v14m4-8v21m4-29v17m2-33v34m2-29v61m2-55v53m2-58v38m2-32v20m4-7v10m2-6v7m6-13v9m2-11v30m4-38v20m6-15v14m6-10v23m4-31v19m2-28v63m4-44v12m2-8v22m4-38v32m2-24v33m4-24v16m4-17v11m2-13v13m2-17v30m4-39v28m2-23v40m2-41v42m2-30v33m2-34v28m4-27v9m2-12v13m8-30v42m2-49v62m4-38v21m10-17v5m10-5v10m2-7v10m2-14v10m2-3v5m4-16v15m4-35v50m2-35v46m4-38v8m4-11v10m4-4v2m2-4v9m10-6v6"/><path stroke="#f040c0" stroke-width="6.0" stroke-dasharray="0 4.0" d="M0 2v10m2-12v14m4-19v22m2-28v23m2-16v12m2-10v8m4-7v20m2-44v35m2-21v17m4-23v24m4-34v41m2-23v18m2-9v8m4-24v24m4-7v1m4-4v6m6-1v7m2-16v19m2-9v11m4-12v4m4-6v6m4-18v26m2-23v28m6-24v12m2-16v22m2-22v10m2-10v20m2-13v2m2-11v18m2-12v8m2-21v24m2-9v24m12-30v13m2-7v10m4-12v9m2-9v11m2-18v18m6-9v7m2-8v5m4-10v20m2-26v18m2-10v16m2-35v42m2-40v40m2-23v9m4-13v22m2-36v35m2-20v39m4-39v13m2-14v12m2-7v6m4-5v6m4-20v25m2-11v6m12-4v13m6-15v11m6-20v13m8-3v5m2-20v33m10-16v11m2-6v7m8-33v39m12-21v11m2-6v23m2-33v19m2-19v37m2-35v42m2-35v12m2-9v2m6-4v9m2-12v7m10-3v4m4-8v12m2-26v26m4-21v24m4-11v9m4-27v30m2-13v16m2-20v7m4-13v14m4-17v20m2-9v7m6-13v12m2-14v13m2-17v18m4-27v32m6-18v4m2-9v17m2-19v23m2-25v14m4-7v18m2-16v18m2-25v21m2-14v7m2-6v18m2-16v17m2-11v1m2-10v24m2-15v14m6-16v4m2-4v7m4-7v8m2-14v10m2-5v7m10-12v10m2-15v11m8-7v22m2-37v23m16-15v31m12-18v7m6-6v11m8-13v7m2-9v10m2-6v8m2-19v19m2-17v20m2-12v9m4-13v11m12-10v7m2-13v15m2-4v4m8-2v12m10-11v6m2-11v16m8-17v7m4-33v43m2-34v32m4-17v8m2-11v10m10-7v10m2-15v22m2-19v14m4-7v5m2-4v7m10-6v1m22-5v8m2-11v12m2-12v10m8-8v7m2-18v21m4-22v32m2-25v26m2-26v19m2-28v30m4-10v10m2-21v19m2-22v39m2-26v12m2-11v7m4-7v9m14-17v15m30-7v0m4-1v19m2-17v3m10-8v21m6-20v29m2-52v33m2-11v14m2-20v14m2-27v31m2-13v22m6-20v9m2-10v12m6-20v17m2-12v11m2-6v10m2-18v16m16-13v6m4-5v9m10-12v8m4-8v9m8-17v15m16-2v5m6-8v8m2-12v18m4-18v19m4-11v18m4-16v9m4-32v38m2-19v14m6-10v14m2-27v29m2-18v12m2-16v19m2-24v30m2-26v10m2-13v15m2-6v5m2-10v16m6-13v12m2-22v14m2-9v13m2-14v8m2-10v12m6-22v26m2-12v25m2-37v25m2-16v12m2-4v6m10-16v15m6-11v10m4-19v16m6-9v11m6-4v0m2-1v8m4-11v7m2-7v17m2-13v14m2-12v3m2-11v20m2-19v11m4-5v9m4-10v17m4-31v23m4-13v5m4-16v19m2-18v21m2-19v14m10-4v13m2-16v20m2-16v7m2-14v14m2-8v21m2-19v11m4-27v23m4-9v13m4-10v7m2-19v18m2-6v15m2-15v2m4-5v14m4-17v14m2-19v19m2-13v26m2-25v20m14-23v22m6-23v20"/><path stroke="#806020" stroke-width="6.0" stroke-dasharray="0 4.0" d="M2-11v15m14-17v11m6 0v0m4-3v13m2-28v27m2-21v32m2-22v21m2-26v21m8-18v9m4-14v15m6-5v6m4-13v13m2-10v8m2-8v11m2-13v12m2-7v6m2-7v3m2-2v6m2-8v5m8-11v10m4-5v11m6-9v1m6-3v6m8-1v13m8-20v12m2-13v22m2-26v27m2-18v11m4-19v16m10-20v19m2-18v26m8-19v21m2-16v12m22-10v8m4-8v13m10-16v10m2-16v12m2-16v24m6-16v12m2-10v6m2-5v8m4-6v8m14-11v7m2-13v12m2-5v8m6-6v16m6-15v18m4-18v9m2-7v3m8-4v9m2-11v6m8-13v13m2-6v8m10-8v9m4-8v5m4-7v6m2-11v10m2-5v3m2-10v10m2-8v8m2-22v33m2-40v41m2-31v23m2-11v10m6-12v8m2-5v6m2-6v4m2-8v9m8-5v7m18-2v15m2-13v13m2-12v10m6-8v9m6-14v8m10-6v3m2-8v6m4-11v12m4-5v3m2-4v14m2-32v28m2-15v12m2-8v9m4-14v29m2-27v15m2-6v6m2-5v3m8-12v11m2-17v20m8-9v8m8-5v5m2-5v12m2-9v7m8-17v9m2-9v16m6-12v1m2-8v9m2-11v22m8-18v10m2-7v7m2-15v16m4-5v4m6-2v0m6-1v1m2-10v17m2-14v9m6-3v8m8-9v7m6-13v10m2-10v20m2-19v4m2-6v6m4-10v18m2-16v7m6-18v26m2-22v17m12-6v10m4-21v14m2-8v8m2-8v10m2-14v16m2-9v22m2-25v16m4-7v3m4-5v10m8-11v18m2-19v13m6-11v14m2-15v8m4-8v6m2-13v15m2-4v8m4-9v12m2-14v8m2-4v6m2-15v17m2-18v13m2-8v8m2-5v9m2-24v18m2-6v11m12-4v9m2-13v27m2-43v29m28-12v1m2-1v2m6-2v13m6-21v12m6-6v8m2-12v11m4-19v23m2-18v29m2-35v24m2-21v13m2-3v1m6-10v14m4-5v8m12-20v25m2-21v22m4-14v11m2-27v26m4-18v14m12-14v14m2-6v11m2-24v25m2-18v29m2-24v8m16-11v15m2-20v24m4-20v9m6-6v6m2-6v2m2-5v10m2-13v11m2-8v8m2-7v8m2-6v5m4-4v14m4-16v9m2-6v17m2-28v17m2-15v30m2-22v29m12-27v1m4-2v1m2-5v11m2-9v7m8-21v22m2-16v25m2-29v31m4-30v11m6-4v7m6-9v12m4-10v9m2-12v14m10-14v16m2-12v9m2-4v8m2-15v21m2-22v17m2-6v3m4-9v8m2-5v12m2-14v11m2-17v13m2-4v5m4-6v6m4-13v12m12-10v11m2-20v40m2-39v21m6-8v7m4-21v24m2-28v22m8-7v26m2-34v29m2-23v12m4-8v11m4-18v22m2-14v30m2-27v17m2-18v9m16-10v12m2-15v19m2-19v9m2-4v7m2-12v12m4-13v19m2-12v6m2-6v1m2-5v11"/><path stroke="#20e060" stroke-width="6.0" stroke-dasharray="0 4.0" d="M0-9v36m2-35v10m2-2v4m2-21v25m6-32v28m2-40v58m2-43v57m2-38v15m2-20v10m4-8v35m4-38v18m4-7v1m10-1v1m6-14v31m2-30v15m2-16v22m2-36v41m10-39v52m2-37v24m2-23v8m4-11v17m2-9v7m4-13v14m4-7v20m8-22v29m2-39v42m2-41v19m2-6v19m4-19v11m4-11v7m4-14v25m8-25v21m2-17v14m2-20v21m2-18v15m2-12v11m2-19v12m2-9v18m4-27v27m4-33v30m4-42v58m2-31v31m4-33v26m10-22v11m2-38v50m2-27v24m6-18v6m4-9v12m8-8v10m2-9v9m2-12v18m4-11v5m2-10v15m4-21v38m4-28v12m4-23v22m2-31v33m2-15v11m2-20v17m4-13v13m2-20v13m2-7v13m4-14v9m2-6v14m4-24v22m4-21v16m4-16v16m2-9v12m2-16v25m2-50v47m2-32v56m2-52v45m2-42v18m4-12v24m4-15v5m8-3v1m2-17v25m2-36v40m2-19v7m6-13v8m2-8v24m2-36v23m4-12v18m2-19v12m4-36v42m2-46v58m2-27v9m2-16v20m2-23v29m2-36v30m8-9v13m2-13v10m4-12v20m2-23v15m2-5v9m10-14v6m2-6v19m2-23v20m2-17v11m2-9v9m2-15v18m6-31v32m2-23v16m4-16v15m2-28v53m4-41v18m2-20v21m2-14v28m2-42v32m12-18v12m2-5v9m4-13v14m4-10v8m2-4v1m2-1v1m2-2v6m6-21v24m2-16v13m8-5v4m4-8v8m2-12v16m2-11v10m2-23v26m2-12v27m2-36v21m2-19v11m2-9v12m6-16v40m2-58v47m6-36v18m2-5v12m2-24v16m4-6v9m2-5v10m4-7v0m2-7v8m2-6v6m2-5v10m2-9v11m2-13v6m2-5v12m2-21v17m2-8v7m6-11v5m2-11v13m2-10v9m2-14v11m8-24v26m2-16v35m2-27v22m2-16v3m8-5v15m4-11v6m2-19v22m2-14v19m2-14v9m2-16v23m2-21v24m2-34v28m8-16v12m4-15v13m2-14v15m2-17v25m4-30v33m2-29v20m6-10v21m2-20v7m12-12v9m10-11v9m6-15v14m2-31v41m6-18v8m2-7v6m2-12v25m6-21v8m4-13v28m2-26v24m6-16v2m2-33v39m6-8v3m4-2v2m22-2v2m6-13v16m2-17v35m6-31v16m2-7v1m2 0v0m6-6v33m2-38v21m2-17v15m2-7v8m4-10v12m8-28v41m4-25v13m2-38v44m2-34v22m4-8v10m4-8v1m4-7v8m6-22v31m2-47v61m2-36v19m2-15v12m4-13v15m6-40v51m4-26v22m2-26v26m4-16v7m2-8v7m2-5v19m10-20v10m6-29v57m4-35v9m4-9v14m2-16v16m2-13v1m2-4v9m2-14v19m2-23v15m2-12v15m2-16v11m2-15v14m4-13v26m2-22v16m10-25v27m2-33v30m2-22v21m6-13v7m2-7v8m2-28v41m2-21v18m6-14v11m2-25v17m2-10v22m2-23v12m2-5v5m2-19v26m2-32v26m2-14v13m4-18v20m2-4v4m6-4v12m4-9v4m6-8v9m2-8v5m2-5v8m2-10v18m6-17v9m2-18v14m4-20v27m2-14v16m2-14v3m4-10v9m4-17v19m2-11v12m2-24v21m2-16v21m2-15v17m2-18v25m2-25v15m4-24v15m2-7v7m2-7v10m2-24v31m4-18v7m4-6v8m8-5v7m4-2v10m2-13v10m2-5v6m2-7v8m6-6v12m2-13v12m2-15v7m4-11v39m6-36v6"/><path stroke="#a020f0" stroke-width="6.0" stroke-dasharray="0 4.0" d="M0-9v18m2-10v1m6-4v9m4-11v13m2-13v10m4-7v5m6-4v6m4-17v23m2-11v7m2-19v31m2-38v23m2-15v31m2-24v23m2-23v5m8-12v11m2-5v7m2-8v7m8-2v8m6-7v16m2-29v41m4-51v32m2-15v19m6-22v17m2-6v7m18-8v10m10-22v15m8-8v0m4-9v11m2-7v9m4-12v10m2-3v9m8-14v12m2-7v11m4-14v20m2-13v3m4-1v2m2-2v10m6-3v0m2-2v8m2-7v10m2-7v7m16-15v18m2-19v28m2-35v24m2-15v12m4-24v23m2-26v29m2-16v13m6-23v21m2-13v18m4-17v12m6-12v6m2-4v5m2-12v12m2-16v15m2-16v18m2-10v14m2-21v17m8-8v6m6-4v5m2-20v18m2-14v17m6-9v6m2-10v12m2-10v16m4-21v18m2-8v20m2-30v16m2-8v10m4-8v2m4-5v8m10-7v21m2-40v36m4-13v14m2-19v13m2-9v8m2-20v30m2-17v30m2-34v14m4-8v8m2-7v6m2-12v9m4-4v11m2-17v17m4-17v14m2-17v12m4-18v28m4-29v14m4-12v8m4-9v9m2-9v13m6-6v1m2-6v13m4-10v21m6-15v6m2-13v21m2-26v26m2-24v21m6-15v10m10-3v0m10-13v17m2-11v19m2-15v7m12-15v18m2-41v34m2-11v15m6-16v13m6-5v11m2-29v30m2-22v16m8-9v6m10-7v13m2-17v16m6-13v7m2-7v8m6-11v23m10-26v11m4-4v7m2-12v18m6-22v16m4-7v4m2-6v7m2-13v14m2-4v5m10-10v17m16-18v11m2-4v1m2-2v6m6-7v17m2-22v31m4-30v17m4-7v7m2-12v18m2-15v7m4-8v9m2-10v16m2-23v16m2-9v12m2-9v4m8-9v6m2-13v14m2-11v11m2-8v15m4-21v24m2-29v39m2-37v29m2-29v14m2-22v27m2-11v9m2-10v17m2-11v6m6-4v1m6-2v6m2-11v15m2-13v12m10-33v26m26-7v9m4-8v20m4-23v12m4-5v7m2-14v12m2-6v9m10-15v7m10-6v14m4-18v25m2-33v39m2-22v16m6-18v11m4-6v5m4-13v10m2-8v10m2-14v13m4-18v22m4-14v1m6-1v8m2-18v17m2-17v34m2-29v13m4-6v2m2-5v6m10-6v15m4-9v11m6-14v8m4-9v7m2-6v7m6-18v15m4-23v22m6-15v14m4-11v11m2-6v18m4-13v4m2-2v2m2-8v13m2-17v14m2-3v6m2-13v11m4-10v9m2-7v9m10-22v44m2-48v26m2-19v17m4-15v15m2-9v10m2-8v5m2-16v16m2-15v30m2-22v5m8-4v10m6-9v19m6-19v7m4-5v6m2-3v2m4-5v9m2-19v23m2-12v8m4-13v21m4-24v14m6-11v15m8-12v10m2-6v0m4-1v8m2-12v10m10-14v31m8-23v5m2-16v18m2-6v12m6-35v42m6-25v9m4-11v13m2-6v1m6-1v2m2-7v14m2-11v12m4-14v9m2-11v12m12-5v8"/><path stroke="#f02060" stroke-width="6.0" stroke-dasharray="0 4.0" d="M0-18v19m4-17v26m6-20v11m6-7v27m2-53v46m2-15v6m2-15v19m2-9v11m2-9v5m6-6v8m2-10v10m2-10v4m10-16v16m2-6v15m6-14v9m2-19v20m2-10v10m2-13v11m2-5v9m4-10v9m2-7v4m8-6v3m4-2v2m2-3v7m2-12v14m4-9v7m4-5v8m4-12v18m4-14v10m4-17v15m2-13v9m2-18v29m2-24v17m4-10v9m2-20v22m2-19v9m6-6v13m4-17v16m2-25v22m2-18v30m2-31v26m4-16v6m4-9v7m8-20v41m2-27v31m2-27v10m4-14v11m2-7v5m4-4v7m2-19v24m2-20v13m2-6v6m4-5v9m4-4v14m4-24v19m2-8v8m2-8v15m2-29v31m2-19v13m4-16v14m2-13v10m2-19v26m4-19v7m2-11v14m4-10v9m2-6v10m2-10v11m2-13v10m2-9v15m4-14v20m2-44v45m2-25v21m2-19v5m4-5v17m2-18v12m4-19v13m4-5v3m6-5v9m14-7v13m2-21v17m2-5v6m8-9v15m10-11v15m2-28v40m2-27v13m2-10v19m2-19v26m2-23v6m6-12v8m2-7v10m2-14v17m2-16v6m2-27v29m2-27v37m2-16v3m6-13v14m4-8v11m2-23v45m2-40v25m2-17v7m2-11v10m2-14v16m2-17v19m2-8v5m6-11v10m2-10v13m6-19v15m2-18v20m2-11v21m2-37v31m2-21v12m4-12v12m4-11v14m2-14v15m8-13v8m4-9v13m2-18v14m2-11v10m2-9v20m4-19v7m4-1v9m2-8v6m8-6v10m2-12v16m2-15v7m2-8v7m2-10v15m6-7v9m2-17v20m2-14v14m8-7v8m2-21v18m2-8v6m2-17v24m4-21v14m2-5v7m2-12v8m2-4v1m6-8v11m2-11v9m8-7v9m2-12v7m2-10v11m4-9v20m2-15v17m2-13v4m2-6v10m2-24v31m2-24v17m2-7v8m2-11v14m6-16v20m2-23v18m2-18v28m4-26v9m2-5v7m2-10v5m2-2v2m4-7v20m6-22v10m14-10v10m4-18v15m2-9v14m2-13v6m2-8v17m4-19v19m2-11v0m4-6v7m2-7v7m2-5v4m2-4v7m4-9v9m2-29v40m2-19v10m10-8v5m2-3v10m2-20v19m10-14v11m4-17v20m4-21v30m2-24v34m2-39v13m10 0v1m28-6v22m2-25v23m6-14v7m2-11v20m8-21v9m4-6v9m2-12v14m6-28v26m2-19v19m4-13v7m2-21v45m2-39v21m2-11v12m4-8v1m2-2v9m4-14v11m4-8v10m4-17v12m4-10v6m2-6v8m6-8v11m6-13v19m4-8v6m4-13v23m2-18v13m4-15v12m2-29v27m2-34v30m2-12v15m2-11v7m4-6v7m2-10v10m4-23v33m2-17v15m4-19v16m2-31v29m2-23v18m2-4v5m2-8v7m4-9v8m2-9v8m4-21v28m2-43v51m2-43v36m4-15v19m2-22v22m2-29v25m2-26v24m6-12v8m6-9v32m6-25v8m2-5v10m6-21v22m2-25v25m2-13v8m6-13v21m2-21v6m2-14v21m6-12v5m2-2v10m2-14v9m4-3v12m2-12v7m4-6v9m2-7v7m2-9v7m4-6v8m2-7v11m2-15v16m2-15v6m2-3v8m2-11v10m6-13v17m6-22v8m2-6v10m4-18v19m2-17v14m6-6v4m2-10v10m2-5v14m4-11v9m6-20v20m2-16v12m4-9v14m2-13v8m4-12v16m4-32v35m2-20v26m2-25v18m4-16v19m2-23v17m4-13v10m6 0v8m2-8v8m2-7v3m2-3v13m2-19v19"/><path stroke="#5050f0" stroke-width="6.0" stroke-dasharray="0 4.0" d="M2-6v4m2-12v14m2-4v11m6-13v12m8-13v20m8-7v5m2-7v8m4-15v9m2-15v18m22-12v12m4-17v16m4-13v7m4-4v6m8-4v5m4-4v6m2-7v6m8-4v9m2-13v19m10-13v9m2-20v16m4-10v6m4-5v10m2-15v11m2-2v0m4 0v10m2-15v9m2-2v7m2-12v19m6-23v26m2-39v38m10-21v11m6-13v11m4-10v4m2-7v11m2-16v10m2-3v2m2-3v2m6-10v16m8-10v8m4-5v13m2-16v21m2-19v10m12-6v4m8-6v7m4-6v10m8-15v12m2-6v7m4-9v12m2-17v10m8-4v7m2-20v25m28-18v12m2-6v7m12-8v6m4-7v18m2-14v11m8-7v8m4-11v6m18-8v4m4-5v6m10-7v7m4-12v10m2-10v18m2-17v9m2-7v5m6-5v8m4-5v7m2-14v21m4-18v7m6-7v8m10-11v3m4-10v10m2-11v21m2-12v5m4-20v20m2-5v11m24-10v5m2-14v27m2-16v12m4-13v8m4-5v5m10-5v5m10-19v25m2-15v7m2-10v13m2-9v13m2-10v1m8-3v7m2-6v10m2-15v11m4-4v1m12 0v1m4-6v7m10-3v4m2-3v10m2-9v7m10-14v15m2-11v5m6-8v9m6-9v7m10-11v22m2-30v28m2-27v28m2-18v9m8-10v11m2-14v15m2-11v9m2-17v15m2-10v10m2-12v16m4-12v5m4-6v7m2-6v15m2-28v24m4-8v1m10-12v19m2-19v18m4-9v9m6-11v7m2-6v7m8-10v38m12-31v0m8-1v1m14-9v12m4-6v9m4-11v19m2-20v9m2-9v10m2-21v32m6-18v13m2-11v14m6-11v2m6-13v15m2-16v15m2-8v7m4-10v12m4-6v5m16-10v6m2-2v16m4-20v13m2-11v9m8 0v3m4-5v7m2-6v10m8-12v12m4-20v17m6-14v9m4-8v27m2-43v33m2-17v20m2-14v7m4-9v8m2-7v10m6-4v3m14-4v6m16-18v11m6-13v8m4-5v9m6-23v30m4-17v15m2-10v0m6-5v4m2-9v9m2-9v16m2-13v9m4-9v7m6-11v22m2-18v19m2-26v29m2-26v22m6-14v8m2-16v15m6-8v8m16-5v7m6-15v12m2-23v28m2-18v10m6-6v10m2-12v16m6-11v10m6-8v11m2-16v11m6-5v8m6-7v1m4-5v7m12-4v7m14-24v23m2-10v9m2-14v6m2-8v10m2-7v6"/><path stroke="#c8d6ce" stroke-width="6.2" d="M0 9l5-13 8 15 4-12 8 9 6-9 8 13 6-19 4 20 8-19 10 15 8-18 4 22 6-23 9 24 1-23 7 20 2-15 9 5 5-6 9 9 2-14 6 16 2-15 7 18 2-23 7 29 8-29 6 22 7-19 1 27 2-18 6 19 6-20 10 18 8-21 7 13 9-12 6 12 10-9 6 5 10-12 7 17 8-12 6 15 7-16 6 17 4-20 3 19 4-20 10 22 6-19 8 18 3-21 4 17 3-17 9 21 4-15 2 10 9-11 2 6 6-17 3 16 3-8 4 9 7-17 8 22 2-11 10 16 3-20 8 21 7-17 7 10 7-15 5 26 8-18 9 14 2-18 8 18 6-26 6 24 1-23 5 28 4-20 5 16 5-13 8 9 7-10 4 15 10-22 7 11 4-10 5 12 9-12 6 12 3-15 9 27 9-18 2 11 6-17 9 15 4-12 6 9 7-6 8 3 5-4 7 4 7-14 9 15 9-13 1 21 3-22 8 18 2-18 10 14 4-9 3 13 8-20 7 15 7-10 2 11 8-12 1 14 9-12 4 18 3-15 8 12 5-20 3 25 4-25 4 17 6-10 2 15 1-16 8 18 6-19 9 17 8-21 5 20 8-19 5 14 1-14 7 20 1-18 9 19 7-13 9 18 10-25 6 12 4-16 5 23 8-27 7 20 8-13 6 14 8-13 2 16 3-25 1 21 2-18 9 17 4-19 6 23 6-20"/><path stroke="#e0340f" stroke-width="3.4" d="M91-5l4 14 5-15 3 10 7-15 8 19 6-15 3 11 3-5M335 5l5-15 4 15 7-12 6 16"/><path stroke="#e0340f" stroke-width="5.6" d="M0 8l8-18 4 18 8-22 7 25 6-17 1 23 6-20M142-7l5 14 8-21 7 19 2-7 2 20 1-26 7 15 1-16 2 28 8-23 3 20 7-23 7 26 5-26 2 19 2-17 8 14 2-19 7 23 5-30 8 27 2-15 4 12 3-11 8 21 6-25 7 25 3-20 2 27 8-33 6 25 3-16 2 14 6-22 4 20 6-13 5 15 4-20 3 15 3-13M372-10l6 28 6-20 7 17 2-17 3 21 7-22 3 14M797 8l3-18 3 19 3-27 4 29 6-19 6 12 7-14 3 22 1-17 6 18 1-30 2 29 5-21 7 23 9-25 5 24 7-24 1 27 8-34 5 22 3-13 1 21 7-31 6 26 3-25 8 26 2-24 6 18 5-17 8 22 4-16 4 26M833 5l1-19M873-15l3 39 3-35 2 25 1-14 2 15 7-26 4 19 4-14 6 14 3-13"/></g>
<g transform="translate(30.50 216.90) scale(0.5)"><path stroke="#b89878" stroke-width="6.0" stroke-dasharray="0 4.0" d="M0 2v9m2-10v8m2-8v14m4-11v7m4-11v16m2-26v28m6-15v4m2-9v9m2-6v12m2-10v1m8-9v18m6-15v6m6-5v7m6-10v9m4-8v13m2-19v18m4-13v10m14-12v6m8-3v9m6-8v9m10-10v19m6-15v9m2-11v8m12-16v15m2-14v14m2-10v14m2-19v14m2-9v6m2-4v7m2-10v6m4-2v5m4-6v3m8-1v7m2-11v10m4-11v9m2-5v10m2-8v8m2-10v13m8-13v3m2-12v17m14-9v2m4-2v1m10-3v16m2-14v25m2-35v19m4-13v12m4-8v7m2-7v7m2-4v13m4-18v16m4-17v9m30-5v9m10-11v9m6-4v7m2-8v8m4-9v16m2-17v15m8-13v4m4-12v14m2-6v3m12-8v15m2-15v12m2-7v1m2-7v10m2-16v16m2-4v7m4-8v5m8-6v11m2-20v13m2-8v7m2-6v6m2-8v10m2-5v1m2-6v8m6-5v12m4-9v6m10-3v10m2-9v6m2-5v5m2-9v6m2-10v17m2-10v10m12-11v10m2-12v9m10-8v6m14-17v15m2-13v27m2-25v14m6-9v7m2-11v22m2-29v19m2-8v8m6-6v6m4-10v9m4-10v18m2-20v23m2-18v11m4-14v9m18-11v13m6-6v8m2-13v10m2-8v8m2-10v19m2-15v11m12-15v9m10-14v14m6-9v10m8-19v22m2-7v0m8-4v2m12-6v7m4-7v9m22-5v6m2-6v10m6-13v7m6-9v10m6-7v8m2-12v13m2-11v13m2-11v11m2-38v70m4-45v12m4-22v38m2-54v68m2-44v9m4-29v53m2-33v12m2-50v68m4-28v9m2-8v9m2-10v10m2-47v67m6-30v8m2-7v7m4-6v7m4-9v5m4-8v9m2-3v9m4-11v6m2-5v7m4 0v0m4-8v9m2-2v1m4-12v18m2-17v25m2-19v7m12-3v5m2-9v6m4-2v0m6-12v20m2-13v19m4-16v8m2-14v14m2-9v18m4-15v14m2-23v20m10-14v16m2-15v15m4-15v13m8-10v10m2-10v14m4-16v10m2-12v13m2-9v6m4-8v10m6-9v7m2-8v10m12-14v19m4-20v8m2-6v13m6-16v10m6-9v8m2-7v12m2-9v5m4-15v15m2-5v11m4-10v5m4-6v2m4-3v6m2-8v5m8-4v8m2-13v20m2-13v8m14-5v8m4-10v2m4-4v7m8-10v6m2-5v16m2-13v8m4-8v6m2-11v11m2-8v10m2-11v8m4-4v7m4-5v5m4-7v11m4-8v7m6-12v9m2-11v20m2-20v12m4-10v8m2-13v17m2-16v17m2-14v8m6-14v14m2-6v10m2-13v8m2-8v11m2-10v18m2-23v12m6-8v10m4-10v9m4-7v1m8-9v10m6-12v21m2-18v8m4-2v0m4-6v11m2-9v17"/><path stroke="#800030" stroke-width="6.0" stroke-dasharray="0 4.0" d="M6-1v0m6-13v16m6-7v12m2-6v16m4-14v17m2-22v10m6-7v9m2-5v13m8-22v15m2-8v12m6-18v21m2-23v26m2-15v0m2-1v11m6-17v14m2-9v1m2-7v7m4-13v13m8-5v14m4-36v39m2-15v4m6 0v0m4-5v6m4-4v1m2-2v6m4-8v1m6-5v4m2-5v9m2-10v9m8-8v6m2-15v16m2-15v14m2-11v13m6-9v7m2-6v12m6-8v2m2-6v7m2-5v7m8-6v11m6-19v32m2-33v21m4-9v7m2-23v31m6-27v17m2-14v21m14-16v5m2-6v8m6-2v7m2-6v10m2-18v11m2-5v9m8-8v6m4-9v9m2-11v8m4-5v4m2-1v5m6-10v11m2-5v2m2-3v6m10-12v6m6-7v6m4-4v6m4-9v7m4-17v22m2-14v10m2-5v1m4-4v7m8-1v8m4-7v7m2-5v5m2-8v5m6-2v7m8-9v8m2-11v18m2-12v6m6-17v12m2-14v13m8-8v3m4-20v30m2-22v17m4-11v12m4-5v6m2-6v18m2-24v20m4-17v11m2-4v8m22-11v1m2-8v9m2-2v5m8-8v16m2-17v10m2-16v22m2-11v10m2-20v19m2-20v23m2-16v14m24-18v13m2-14v20m4-13v7m2-20v23m2-21v20m2-15v12m4-14v13m2-12v25m2-17v7m6-5v6m8-7v5m6-3v9m2-7v6m10-11v8m2-21v22m2-15v14m6-20v13m2-12v12m4-9v6m2-6v6m4-4v7m2-6v6m14-9v12m4-6v15m4-15v7m2-9v6m4-7v6m2-3v9m10-14v12m2-12v9m4-16v12m2-10v9m4-10v21m2-18v19m10-18v9m6-6v14m2-14v10m4-8v7m2-3v0m8-5v9m6-15v24m2-54v65m4-30v13m2-10v6m2-15v25m2-17v8m4-9v10m4-14v12m2-13v14m4-37v46m2-36v60m2-60v54m16-34v8m8-7v14m2-24v31m2-23v6m2-5v7m4-15v19m4-13v6m4-3v11m2-24v33m12-23v6m2-14v21m2-17v24m2-19v9m4-3v5m2-24v34m2-30v21m12-4v6m8-23v25m2-13v20m2-25v20m2-18v19m2-29v19m2-11v14m4-21v19m2-14v11m8-8v7m2-5v9m2-12v13m2-12v9m16-8v7m2-11v13m2-6v12m2-20v17m2-12v7m6-5v13m2-14v8m6-10v14m2-12v11m2-17v19m2-11v14m2-13v10m4-17v12m2-18v19m2-10v6m10-7v7m4-6v5m2-6v19m4-18v18m2-23v18m4-11v7m2-5v6m2-8v11m4-13v11m6-17v16m2-9v13m2-20v17m10-9v8m2-8v5m8-1v0m2-3v3m8-11v24m2-20v21m2-20v23m2-28v15m8-16v15m10-6v15m8-15v8m2-8v6m4-9v5m4-6v7m8-10v9m20-4v8m4-10v16m2-16v39m2-39v13m2-13v18m4-12v16m2-13v6m2-7v5"/><path stroke="#00e020" stroke-width="6.0" stroke-dasharray="0 4.0" d="M2-20v30m6-18v14m2-11v14m10-8v0m6-4v4m4-13v15m2-11v15m2-17v8m2-10v12m2-7v13m6-14v9m2-9v13m2-16v20m2-10v6m6-6v5m2-3v12m2-13v14m2-16v15m2-12v11m2-20v29m2-24v9m2-17v45m2-43v37m6-25v8m18-10v8m2-10v11m4-14v10m4-10v10m2-8v7m4-16v25m6-16v19m2-15v16m6-19v6m6-10v9m6-6v5m4-9v10m2-6v6m4-20v24m2-21v39m2-32v12m6-4v11m2-9v4m2-16v16m2-7v17m2-22v13m2-16v39m2-30v18m2-14v6m4-14v24m14-26v10m6-11v22m2-34v26m2-13v19m2-14v11m2-27v23m2-18v34m2-28v8m2-4v2m6-11v20m4-21v28m10-22v9m4-9v9m2-28v33m6-17v9m4-23v37m2-31v43m2-45v20m2-10v24m14-18v9m4-30v34m2-11v18m2-12v5m4-6v6m2-8v12m4-12v7m2-22v28m4-16v7m2-5v7m4-14v10m2-15v17m4-23v26m2-16v7m2-3v11m2-18v27m4-22v7m6-8v6m2-4v6m6-9v22m6-19v11m6-9v21m2-46v30m2-21v31m2-27v19m2-14v17m4-19v13m4-7v12m6-12v7m6-5v10m2-17v18m4-8v3m4-2v8m2-12v14m2-9v7m4-8v8m2-7v10m2-13v18m2-18v12m2-33v41m2-28v19m2-21v17m2-13v34m6-31v11m4-12v9m2-10v7m4-7v7m2-24v31m2-24v29m2-20v6m2-20v31m4-14v6m2-19v24m2-32v35m2-19v6m2-5v5m4-5v6m2-6v6m2-10v25m2-21v18m4-22v33m4-21v6m2-9v19m2-32v22m14-10v7m2-2v9m2-17v17m6-28v25m2-11v18m6-15v7m2-3v7m6-10v16m2-26v20m2-10v7m2-17v21m2-15v23m8-21v6m8-13v9m2-15v19m2-8v0m6-9v9m6-2v6m2-12v14m2-6v1m2-5v7m2-7v9m2-8v7m4-5v8m4-5v0m2-1v2m2-15v26m2-15v5m2-1v16m2-19v8m8-4v8m6-11v10m2-13v29m2-34v13m4-15v13m2-13v13m2-21v28m2-18v13m12-31v58m4-56v32m2-43v66m2-42v11m4-9v11m2-16v12m8-5v13m8-11v13m4-12v13m6-13v10m4-6v5m4-4v5m2-10v21m2-28v38m4-30v16m2-18v23m2-20v23m2-20v20m6-38v26m2-14v12m6-20v25m2-16v26m6-19v2m2-5v9m6-8v5m2-10v6m8-15v32m2-24v32m2-32v17m4-18v15m14-10v12m8-8v8m4-10v12m2-16v20m2-25v20m10-20v18m2-10v5m4-2v12m2-11v6m2-17v15m2-7v18m8-17v11m4-6v13m2-18v9m2-5v9m2-15v11m4-8v10m4-14v15m2-26v34m2-38v22m2-15v17m6-9v7m2-15v17m2-13v11m6-11v17m2-20v13m6-5v8m2-11v6m2-10v15m16-14v26m6-18v2m4-5v12m2-20v20m4-16v22m2-18v10m2-22v27m2-15v13m6-15v8m10-4v10m4-10v9m6-8v8m4-8v5m4-5v8m4-9v6m6-3v5m2-17v21m2-21v27m2-26v26m4-17v8m2-12v8m4-31v45m10-24v25m2-24v12m4-8v7m2-13v40m2-36v18m2-21v31m2-46v38"/><path stroke="#50e0a8" stroke-width="6.0" stroke-dasharray="0 4.0" d="M0 3v21m2-25v18m4-10v6m6-11v6m2-4v8m6-13v7m2-8v8m2-4v5m6-10v9m4-11v9m2-7v6m12-10v18m2-28v25m2-19v12m2-13v10m4-16v16m2-7v7m12-1v10m2-6v7m2-11v7m6-7v8m2-4v6m2-10v7m2-21v30m6-18v11m2-13v13m8-8v15m8-19v13m2-13v15m2-3v1m8-4v7m6-10v8m2-15v15m12-9v7m2-12v11m2-4v4m2-6v13m4-15v7m4-9v14m2-7v11m2-13v7m10-10v11m2-9v8m4-8v8m8-6v11m4-11v8m2-11v18m2-23v19m2-22v23m6-12v12m4-13v6m2-10v8m2-9v8m4-6v5m8-12v20m2-14v13m2-8v13m10-8v8m4-10v10m18-25v27m2-15v24m2-26v16m4-17v8m6-6v13m6-11v10m2-12v12m4-8v10m10-14v9m2-11v13m2-8v8m4-19v15m2-16v22m2-18v24m4-19v9m12-9v5m2-18v26m6-22v19m2-24v30m2-20v25m2-27v17m6-20v14m4-7v7m8-14v9m2-15v23m2-12v9m4-21v19m2-16v26m6-18v7m8-9v15m4-16v11m4-18v20m2-10v7m2-3v11m2-14v12m8-8v18m4-21v14m10-11v15m6-19v11m6-7v2m2-3v3m4-7v21m2-32v19m2-13v16m4-11v12m2-13v10m2-9v9m2-11v14m4-12v9m10-12v9m2-9v12m2-17v15m2-5v25m2-22v4m4-7v14m2-13v7m4-7v26m2-39v37m2-32v23m4-18v20m12-11v0m4-9v12m2-8v9m4-14v10m4-8v14m2-17v20m6-14v9m2-7v7m8-28v26m2-32v43m2-27v35m2-28v21m10-15v12m4-16v13m2-21v27m2-11v7m4-14v12m2-4v1m2-4v7m8-17v34m6-36v14m2-22v30m4-17v9m4-27v37m4-14v2m4-8v9m4-11v12m4-12v12m4-47v69m2-33v8m10-4v8m2-12v16m4-16v8m4-7v17m2-24v34m2-29v21m4-23v11m6-9v6m2-10v10m2-5v12m8-17v13m2-6v5m4-4v5m2-4v11m12-13v9m2-10v10m24-17v16m2-15v15m6-9v6m4-8v5m2-8v10m8-4v1m2-2v10m2-17v23m2-23v14m4-10v5m18-2v13m22-9v0m4-2v8m10-7v9m2-8v13m10-32v37m2-15v13m6-15v3m2-6v8m2-12v20m2-24v10m4-4v6m6-9v8m2-10v9m2-3v8m2-8v7m4-7v4m2-4v11m10-14v19m2-17v22m4-23v9m2-5v2m4-5v17m2-15v8m8-13v31m2-38v33m2-25v13m4-13v13m8-11v7m4-9v11m2-7v7m6-11v15m2-17v21m8-31v25m2-17v27m2-27v33m2-30v17m2-14v1m14-2v6m6-15v17m2-8v12m2-11v8m2-12v11m2-8v11m6-9v6m2-7v15"/><path stroke="#1060f0" stroke-width="6.0" stroke-dasharray="0 4.0" d="M0-22v57m2-53v25m2-8v9m2-9v11m6-18v27m2-39v22m2-13v16m2-26v35m2-33v46m2-37v14m2-10v10m2-13v18m2-16v7m12-2v10m8-25v33m2-46v57m2-28v14m2-15v7m2-6v8m2-12v24m2-30v15m4-14v12m2-4v1m6-14v18m2-16v32m2-41v27m4-17v11m2-17v18m2-12v20m2-13v11m2-14v15m4-25v22m2-16v16m4-18v24m2-14v20m6-16v20m2-25v18m6-6v5m2-16v20m2-18v26m2-27v13m4-10v6m4-11v9m2-8v6m2-5v10m12-13v16m10-14v11m2-7v7m8-13v12m2-7v8m4-6v12m2-14v17m4-14v16m4-32v26m2-37v36m2-13v30m2-30v20m2-21v16m4-13v8m2-13v24m2-28v35m6-34v9m2-7v5m6-6v12m2-13v11m4-6v7m2-2v5m2-7v3m6-5v1m2-6v8m2-9v9m2-11v17m2-28v23m2-25v32m2-21v15m2-11v7m2-3v3m2-7v12m4-15v14m2-8v19m2-26v25m2-16v17m4-15v8m2-16v21m4-13v7m2-12v16m2-8v19m10-28v7m6-4v7m14-19v29m2-22v30m8-22v13m2-20v32m2-30v15m10-5v11m2-21v30m6-32v36m2-54v41m2-24v31m2-23v5m2-9v12m2-18v35m2-35v24m2-15v8m4-38v50m2-47v53m12-17v9m2-25v25m4-18v16m4-10v11m2-23v16m6-4v8m2-11v15m4-19v9m4-15v19m4-15v23m2-28v23m2-16v26m2-27v26m2-18v9m6-10v6m2-13v20m2-30v26m4-8v12m2-45v53m2-51v64m10-37v6m6-24v30m2-19v17m2-10v15m6-19v12m4-5v10m4-12v33m2-48v33m6-22v12m2-7v19m2-38v30m6-15v16m2-12v14m2-19v9m4-6v2m2-6v8m2-8v7m2-14v17m8-8v15m4-22v12m2-2v3m2-11v20m2-26v20m4-8v11m2-31v30m2-46v69m2-35v11m2-12v12m4-15v11m2-9v20m4-19v13m2-11v7m2-11v12m4-15v13m4-9v7m8-8v15m2-12v19m2-28v17m4-13v8m8-11v13m2-14v19m2-12v12m2-15v10m4-9v11m2-27v40m2-29v16m2-12v19m2-18v15m2-38v63m2-52v32m4-20v9m2-8v12m4-35v56m2-30v8m2-11v13m4-20v35m2-52v47m2-21v8m2-24v48m6-61v48m2-31v30m2-20v12m2-10v15m2-11v0m2-2v19m2-34v23m2-10v27m2-35v23m2-16v21m4-21v15m2-11v7m4-4v9m2-14v9m2-12v14m8-7v1m2-5v7m8-14v18m4-14v9m2-8v13m8-10v23m2-21v21m2-36v24m2-13v11m8-16v29m2-34v40m4-30v9m4-14v18m2-13v21m2-21v22m2-36v26m6-17v10m2-13v20m2-13v5m4-5v7m6-8v11m2-24v25m6-27v45m4-34v17m2-21v14m2-15v12m6-10v9m4 0v6m6-6v13m2-17v25m2-27v24m2-18v13m2-6v7m4-5v11m4-11v10m2-14v22m4-19v10m2-13v9m4-9v21m10-23v14m4-12v18m4-14v5m4-7v6m2-20v25m2-23v20m2-17v14m8-16v23m2-46v50m6-21v2m4-3v8m2-9v9m28-11v26m2-21v17m2-13v0m8 0v0m4-4v6m2-1v10m4-10v9m2-19v15m2-11v14m2-12v7m4-11v5m2-8v9m2-3v4m4-5v7m2-10v9m4-8v8m2-6v9m2-4v2m2-8v9m2-22v27m2-20v13m4-4v7m2-12v9m6-6v13m2-26v22m4-17v13m8-7v19"/><path stroke="#00d890" stroke-width="6.0" stroke-dasharray="0 4.0" d="M0-35v50m2-38v32m2-31v34m2-26v34m2-28v13m4-7v12m2-10v11m2-18v17m2-20v40m2-30v18m2-22v13m2-13v10m6-4v12m2-12v8m4-11v10m2-6v11m2-23v18m2-13v11m2-9v6m2-10v19m2-15v7m4-12v7m2-6v5m6-3v0m6-7v16m2-15v16m2-14v21m6-18v9m2-18v20m6-8v12m2-27v24m2-27v28m2-8v9m4-14v26m2-39v26m2-8v16m2-23v21m4-27v25m2-15v6m4-3v7m4-9v5m2-6v6m2-9v17m2-19v15m2-11v9m2-11v10m4-12v17m2-19v17m2-15v13m6-10v7m6-7v6m4-5v7m2-14v12m14-9v23m2-24v14m6-12v8m6-3v7m2-9v8m6-6v9m2-19v17m2-8v6m4-2v10m2-12v10m2-10v11m4-13v13m6-15v13m2-9v1m4-5v16m2-24v32m6-23v8m24-9v9m4-6v15m4-17v11m2-16v17m2-12v11m4-3v2m2-9v20m2-24v17m8-10v4m6-7v10m16-8v7m6-11v7m2-9v11m8-17v35m2-33v20m2-10v9m2-17v15m2-6v3m2-19v29m2-20v11m4-5v11m6-9v8m2-12v21m2-28v16m6-7v10m2-17v11m4-8v7m8-2v4m2-4v9m28-14v14m2-6v8m2-8v7m4-14v18m4-22v19m2-15v9m6-2v5m4-9v20m2-33v50m10-38v10m2-8v12m2-10v7m2-10v13m6-20v20m2-20v11m2-5v13m2-25v22m4-13v8m2-5v3m4-6v8m6-4v7m2-17v24m4-17v10m4-9v6m2-4v10m6-8v5m4-15v16m4-22v41m2-36v34m2-36v20m4-14v10m6-7v9m4-18v15m2-13v14m2-10v9m2-6v6m6-1v2m2-2v6m4-14v21m4-29v26m2-14v4m2-12v14m2-15v30m2-19v14m2-22v24m2-29v29m2-15v5m2-7v6m2-5v8m10-13v10m10-11v14m2-21v16m2-9v7m2-25v39m2-32v28m4-26v25m2-14v21m2-17v16m4-18v8m2-42v73m2-41v10m4-37v69m8-70v65m4-76v66m2-56v68m2-42v14m2-13v8m2-7v10m2-35v63m4-40v9m2-15v18m10-8v5m8-6v7m2-7v4m8-17v12m6-1v1m8-1v13m10-8v8m2-13v11m6-6v9m2-10v5m2-6v10m6-12v14m4-18v18m4-14v10m2-20v30m2-26v18m4-19v28m4-18v11m2-20v18m2-18v21m2-18v20m4-14v14m4-17v20m2-23v18m18-21v15m4-9v10m2-8v11m4-21v35m2-24v18m2-27v13m2-8v12m2-14v27m2-35v48m2-53v35m2-35v36m6-15v9m2-8v7m8-9v17m2-31v19m2-6v11m8-17v13m2-6v6m4-11v7m4-6v7m4-7v9m2-4v15m2-18v9m4-6v6m6-9v12m2-6v4m4-6v5m4-10v20m16-16v13m8-14v5m4-2v6m2-10v6m2-8v9m8-9v6m6-6v17m2-21v17m4-22v11m2-25v31m2-26v33m4-18v6m2-5v11m14-12v9m2-9v10m2-6v7m6-8v13m2-6v1m2-1v6m2-10v8m2-1v1m2-12v17m2-14v14m2-10v11m2-17v15m2-15v21m2-23v17m8-13v5"/><path stroke="#10e070" stroke-width="6.0" stroke-dasharray="0 4.0" d="M0 2v11m6-24v22m2-15v10m2-5v10m2-15v27m2-44v30m2-11v26m6-21v7m2-14v15m4-9v25m6-24v12m2-16v19m2-15v10m4-12v6m2-7v15m6-13v12m4-13v5m2-7v9m4-14v16m2-13v18m4-21v12m6-7v10m2-9v4m2-1v0m6-8v13m2-8v18m2-18v14m6-14v2m4-9v10m4-9v7m2-10v7m4-11v11m14-2v10m4-3v5m6-5v9m10-13v9m2-11v17m2-13v8m10-13v16m2-8v6m2-9v12m2-17v24m2-21v26m2-38v25m2-13v7m8-4v4m12 0v2m2-2v8m2-12v9m2-5v7m6-12v13m2-16v10m2-3v1m4-2v0m2-2v7m2-8v6m2-10v23m2-25v26m4-27v16m2-13v12m2-18v11m2-8v7m8-8v15m2-37v36m2-23v33m2-45v35m10-14v13m2-27v28m8-15v13m4-5v1m2-5v13m2-10v8m2-11v7m6-6v6m2-2v6m2-7v8m10-12v11m6-13v12m4-10v8m2-8v13m2-14v13m2-8v4m6-1v8m2-7v6m2-19v17m2-11v23m2-23v15m4-16v14m4-10v22m2-23v16m2-14v16m4-22v15m2-17v12m2-4v9m2-15v8m2-8v12m2-16v11m4-7v23m2-31v16m4-11v11m2-7v18m2-20v9m6-5v4m6-10v7m2-4v10m4-11v14m2-11v18m10-13v7m2-23v20m2-20v24m2-23v33m8-20v14m4-14v2m6-6v7m2-11v25m4-21v8m2-5v9m2-9v6m6-4v13m2-12v23m14-27v10m2-21v23m2-14v13m2-21v26m2-34v36m2-25v28m8-19v7m4-10v11m4-11v7m2-12v11m2-5v15m2-14v11m6-11v8m4-15v14m2-10v8m4-2v17m2-19v6m4-6v10m4-20v17m2-10v7m2-9v18m2-29v19m2-25v25m2-27v36m2-31v39m2-40v29m4-18v9m2-5v10m2-7v7m2-7v11m2-16v8m2-10v13m6-9v5m4-6v5m2-9v12m2-15v25m2-16v14m2-17v7m4-8v10m6-7v11m2-15v10m2-4v10m2-7v5m6-8v12m2-9v8m2-11v20m2-22v23m2-18v14m2-10v1m2-4v8m4-7v11m2-30v43m2-46v48m4-37v30m6-30v33m8-25v9m4-12v11m2-12v10m4-14v18m12-17v8m2-12v14m2-12v18m8-15v5m2-6v10m4-6v7m2-6v13m2-16v10m8-10v17m2-11v13m2-12v6m4-8v9m4-8v7m2-9v12m2-13v6m6-4v7m2-5v2m2-5v8m2-10v12m4-12v6m2-6v5m2-3v9m12-17v17m4-17v13m4-19v54m2-46v31m4-23v1m2-3v8m2-10v10m8-14v12m4-9v8m4-11v6m4-12v16m6-6v0m8-6v12m2-10v11m6-9v17m2-26v16m2-15v33m2-24v8m8-21v17m2-11v19m4-13v1m2-3v12m2-18v23m2-20v14m2-13v17m8-10v10m6-8v15m4-24v34m2-26v28m2-44v44m2-28v14m8-8v13m4-19v11m2-16v28m2-19v13m10-17v4m12-2v9m2-7v10m4-9v3m10-22v28m4-13v17m4-20v13m2-11v7m4-8v10m2-8v6m2-8v15m10-13v9m2-4v7m6-9v3m2-6v7m8-4v0m4-4v12m2-18v17m10-11v9m2-12v7m2-6v8m2-4v19m2-41v39m2-35v24m2-21v19"/><path stroke="#40e8f0" stroke-width="6.0" stroke-dasharray="0 4.0" d="M0 5v9m2-27v25m2-16v25m2-26v11m2-3v10m2-10v5m6-6v7m2-22v21m4-8v11m4-12v4m2-9v10m2-10v9m2-18v27m2-29v42m2-31v19m2-28v26m2-15v13m2-17v17m2-31v28m8-7v1m2-9v14m6-8v11m2-10v2m8-4v13m4-10v9m4-10v20m6-27v22m2-30v34m6-13v13m2-15v11m2-11v7m2-8v12m2-8v1m2-11v30m2-32v31m2-29v16m2-8v6m2-8v8m2-4v3m6-7v9m2-7v14m2-23v17m2-17v15m4-10v7m4-17v15m6-6v3m2-12v24m2-22v19m4-18v9m2-5v3m2-6v13m2-9v11m2-15v15m2-29v22m2-6v13m2-11v9m2-13v16m2-11v7m2-6v6m4-15v19m2-14v16m2-10v6m12-6v5m2-6v8m8-9v3m6-9v21m2-29v23m2-18v13m6-2v5m6-7v7m4-8v2m6-15v17m4-13v9m10-8v9m2-3v6m6-11v14m6-5v3m10-7v10m2-3v14m4-24v20m2-19v16m2-14v24m2-20v18m4-23v16m2-11v6m2-6v5m2-16v19m2-19v17m2-9v9m4-8v12m2-17v25m2-26v24m2-30v40m6-43v21m2-9v23m14-27v13m2-10v6m2-4v10m2-25v29m2-15v16m4-17v8m4-9v10m2-9v15m2-13v7m2-12v17m4-18v15m6-7v6m2-11v11m2-10v25m2-44v38m2-18v22m2-18v5m6-18v28m2-44v44m4-10v9m4-8v2m2-3v0m4-3v14m6-18v10m4-9v8m2-23v24m2-14v8m2-12v16m6-5v14m4-15v7m2-5v8m6-17v21m2-17v16m2-8v10m2-28v43m2-30v38m2-36v27m2-35v23m2-18v18m2-9v8m10-20v15m4-23v24m2-20v18m10-10v6m4-16v20m2-13v20m2-21v13m2-9v8m4-7v25m2-31v33m2-24v11m4-13v9m2-5v6m2-5v1m2-8v10m2-6v7m2-12v6m2-7v5m2-6v13m4-12v15m2-23v13m4-7v10m2-7v12m2-16v14m6-13v25m2-23v35m8-38v16m2-17v25m6-33v22m4-16v11m4-11v15m2-13v13m4-15v15m6-19v24m2-11v1m2-4v8m4-24v29m2-18v17m2-14v8m2-11v14m2-12v8m2-17v24m2-20v31m2-22v11m4-13v14m2-12v10m2-21v32m8-53v81m4-47v11m4-20v32m2-25v12m2-33v55m4-35v13m2-22v34m4-24v9m2-15v22m2-31v33m2-22v17m2-13v13m2-15v26m4-21v8m2-13v14m8-19v12m2-7v6m2-6v9m8-26v29m2-24v37m2-30v15m2-15v13m2-14v11m10-3v9m2-22v19m2-10v9m2-13v19m2-11v14m6-10v3m2-2v6m2-6v11m2-23v32m2-37v40m2-25v7m2-11v7m10-14v9m2-12v9m2-30v31m2-31v46m2-27v22m2-16v9m4-9v8m2-9v8m2-8v9m2-14v22m4-20v35m2-30v31m2-28v6m4-1v12m2-20v11m2-4v10m4-17v28m2-21v15m2-19v11m2-8v10m2-7v13m2-17v27m4-26v21m2-28v14m4-8v10m2-13v12m8-24v21m2-23v55m2-67v46m2-25v20m2-10v11m2-15v14m2-20v22m4-23v21m2-13v36m2-32v22m10-26v19m2-14v27m2-26v9m10-18v13m2-12v14m2-12v12m2-4v8m2-12v8m2-8v7m4-8v10m2-9v7m4-8v11m4-16v18m6-15v11m2-19v16m2-5v6m4-8v27m8-32v35m2-35v12m2-7v8m2-8v7m2-8v10m2-7v10m2-21v20m2-12v7m2-6v6m2-10v13m2-12v19m2-20v12m2-4v2m2-2v3m6-5v7m2-10v10m2-11v27m2-38v26m14-16v12m2-5v15m8-35v23m2-14v27m6-17v14m2-25v29m4-16v1m6-2v18"/><path stroke="#f02090" stroke-width="6.0" stroke-dasharray="0 4.0" d="M0 4v10m2-20v34m2-42v34m2-21v12m2-18v18m4-13v19m12-27v16m6-12v20m2-23v12m2-5v10m10-8v2m6-19v37m2-48v41m2-19v16m4-23v18m8-10v9m2-4v8m2-28v34m2-13v11m2-17v14m2-5v11m2-10v1m8-24v34m4-16v9m2-20v20m8-15v8m2-7v5m2-5v5m10-9v18m2-9v18m2-15v6m10-20v17m2-16v18m4-6v8m4-21v18m2-6v16m6-19v8m4-17v25m6-24v16m2-9v6m8-9v9m2-33v50m2-23v22m2-28v10m4-14v22m4-18v15m2-9v24m2-20v12m2-14v19m4-18v8m14-7v13m2-13v6m4-18v30m2-24v22m6-24v20m2-22v11m2-8v20m4-21v24m2-33v43m2-38v34m6-29v10m4-9v18m4-16v5m4-3v5m6-12v10m2-8v10m2-20v20m4-7v4m4-10v9m4-3v2m8-6v14m2-20v13m2-4v10m2-12v15m8-28v21m2-7v11m2-12v13m4-20v18m2-10v6m12-12v15m2-5v7m16 3v7m2-10v6m10-4v0m4-13v19m2-25v20m2-19v16m6-13v14m2-8v7m2-4v9m2-13v9m2-13v25m2-16v19m2-26v17m2-10v19m4-20v16m6-16v0m4-5v10m10-9v12m2-8v5m2-10v17m2-19v13m8-11v11m6-7v10m4-7v5m6-5v3m4-6v6m14-19v22m4-4v0m10-10v15m2-5v9m6-11v12m2-15v22m2-60v49m2-43v48m2-17v13m10-13v6m2-7v10m6-6v2m6-6v21m8-19v12m2-12v15m2-27v26m8-14v2m8-7v7m2-10v12m2-6v9m4-8v6m2-12v23m2-54v70m2-33v33m4-33v16m4-25v22m2-11v10m2-12v3m2-7v9m6-13v12m4-9v8m2-9v7m4-2v12m6-12v18m4-16v5m2-10v12m2-23v34m2-18v8m4-32v69m2-48v13m6-16v12m2-34v47m6-22v10m2-28v57m4-47v30m2-53v67m2-40v28m14-23v12m2-15v23m2-28v16m2-12v7m4-9v19m4-16v7m2-13v15m2-8v7m2-5v9m2-16v32m2-39v21m2-4v3m4-11v12m10-15v25m2-18v15m2-21v15m2-16v13m2-2v5m2-8v7m2-6v16m2-17v17m4-16v7m4-5v8m2-7v7m2-22v42m2-42v28m6-25v36m2-42v27m6-7v1m6-12v17m4-14v9m2-26v29m2-19v20m12-15v8m2-17v20m4-13v19m4-36v29m2-23v48m2-52v50m2-39v25m8-23v16m2-15v14m2-5v3m4-3v9m2-11v19m2-25v19m2-17v16m6-27v47m2-34v18m2-16v7m8-8v4m6-10v20m2-19v13m2-13v13m2-20v30m2-13v6m4-10v18m2-18v18m2-10v2m20-17v8m2-12v16m2-16v42m2-40v38m2-36v32m2-41v25m2-16v20m2-25v23m4-14v7m2-18v46m2-39v43m2-40v19m2-16v9m2-11v20m2-19v12m10-11v6m4-12v25m2-30v39m2-51v39m4-14v17m2-22v17m4-20v36m2-37v33m2-47v45m14-20v13m2-16v6m2-5v9m4-8v9m2-5v5m2-9v9m8-7v12m2-14v10m4-17v23m2-19v8m4-6v8m2-10v8m2-6v1"/><path stroke="#d01040" stroke-width="6.0" stroke-dasharray="0 4.0" d="M0-16v28m2-15v9m6-5v7m2-9v9m8-2v1m2-2v7m2-13v13m2-14v14m2-6v10m6-20v11m6-11v8m2-6v8m10-6v6m6-9v7m2-9v15m2-14v13m2-13v15m2-15v6m10-5v5m4-12v20m6-11v11m2-13v12m4-7v16m6-15v13m6-8v0m14-23v21m2-9v17m6-15v2m6-11v13m4-3v5m4-11v12m2-6v16m2-14v9m2-9v7m2-14v11m2-5v23m2-24v18m4-16v9m4-18v19m4-14v18m2-21v36m2-42v39m2-32v13m4-3v1m10-6v18m4-15v12m6-18v8m2-5v9m6-18v14m2-17v34m2-27v18m2-20v12m4-17v18m2-12v10m8 0v7m2-10v14m8-19v24m2-27v30m2-22v6m10-20v26m2-14v18m6-39v28m2-18v15m2-10v20m2-13v8m4-18v12m2-2v8m2-7v0m2-9v15m2-11v8m4-6v4m4-1v0m6-5v11m6-12v7m14-9v11m8-6v8m6-11v11m4-20v24m14-12v7m2-14v14m2-35v52m2-27v18m2-13v7m6-12v10m4-11v9m2-6v16m2-14v10m4-22v20m2-10v9m8-5v15m8-26v16m4-7v5m6-3v13m2-19v19m2-18v24m2-38v30m2-24v29m2-21v10m14-9v10m2-17v14m2-15v20m4-14v13m6-13v8m2-12v15m2-9v10m8-19v22m6-10v9m6-8v8m2-12v13m8-11v6m2-10v15m4-21v13m2-7v20m2-25v15m4-5v3m2-3v3m2-5v12m2-7v6m2-10v9m2-4v2m4-4v7m4-2v1m4-13v16m2-18v33m2-23v8m2-18v15m2-9v13m4-11v7m2-10v15m2-12v1m4-4v10m34-12v7m12-4v8m4-7v7m2-4v8m2-14v10m4-7v9m4-22v15m2-41v57m4-44v48m2-28v9m6-10v9m4-16v22m8-28v52m2-34v11m4-11v10m2-39v58m4-24v8m6-9v4m4-14v23m2-22v17m2-10v18m4-18v18m8-17v7m4-13v13m4-26v25m2-17v18m6-10v9m2-19v31m4-21v8m2-13v10m2-8v9m6-5v9m6-18v18m2-17v34m4-24v8m16-10v16m2-13v11m4-17v14m4-15v10m4-24v18m4-6v15m2-20v10m4-4v5m6-7v9m6-10v11m2-16v18m6-13v21m6-12v2m4-5v10m2-9v1m8-15v17m2-8v9m6-6v1m2-2v6m6-8v7m10-10v32m4-21v3m2-4v4m16-12v8m2-4v8m6-13v17m4-26v31m2-17v7m10 0v6m4-19v21m2-13v8m2-6v20m2-31v36m2-23v19m4-19v11m2-15v23m2-34v23m2-11v11m4-4v7m2-11v9m2-12v14m2-5v1m2-1v10m2-15v19m2-19v20m2-31v28m2-16v7m2-9v11m2-9v5m2-6v5m4-3v14m4-26v21m4-21v14m2-24v53m6-39v6m2-3v7m6-16v16m2-24v21m4-14v14m10-22v28m6-17v10m4-8v15m4-11v14m2-22v16"/><path stroke="#5040c0" stroke-width="6.0" stroke-dasharray="0 4.0" d="M0-1v12m2-13v14m2-11v18m2-20v11m6-24v47m4-39v36m6-23v3m2-24v31m2-11v20m2-26v20m2-27v25m4-19v12m2-9v4m6-14v17m2-12v8m2-10v18m2-21v20m6-20v19m6-18v16m2-12v6m6-9v7m10-10v15m10-15v10m8-9v12m2-8v18m2-16v7m2-12v26m2-23v22m6-19v6m4-7v8m4-19v21m2-22v18m2-4v6m6-14v14m6-19v14m2-9v11m2-13v13m2-7v8m8-9v16m2-27v30m4-23v17m2-11v19m6-19v5m2-6v14m4-24v39m2-31v7m8-12v11m10-6v8m4-4v12m6-9v5m2-11v8m2-5v6m6-5v10m6-7v12m2-16v16m8-18v24m2-26v14m2-7v11m2-20v17m2-23v22m6-12v23m8-31v11m4-27v27m2-35v50m2-33v24m4-12v8m4-7v8m8-11v13m2-6v6m2-11v8m2-12v15m2-6v15m2-26v22m2-18v14m2-6v11m2-14v23m2-25v28m4-21v3m4-13v18m4-8v10m4-7v6m4-5v9m2-7v1m2-5v11m8-7v2m4-8v13m2-12v11m2-9v14m4-20v23m2-26v12m6-10v12m6-24v29m2-16v8m4-8v26m10-25v12m2-15v10m4-7v9m2-15v15m4-16v26m2-26v14m2-8v6m6-13v16m2-20v16m2-3v9m4-9v9m2-10v8m2-5v1m2-7v16m6-14v12m6-13v15m4-15v15m8-7v9m2-17v15m6-13v7m2-9v7m16-19v21m2-13v12m2-16v23m2-22v22m12-14v25m2-41v41m2-22v9m6-10v20m2-19v9m2-8v8m4-15v18m2-22v16m2-7v1m4-6v11m2-13v22m2-19v24m2-29v10m4-6v7m2-6v12m10-16v6m2-13v15m2-4v15m2-17v4m4 0v3m4-12v30m4-27v26m2-21v6m2-11v14m6-7v9m6-7v10m4-8v7m6-18v19m6-12v8m2-16v19m2-19v33m2-21v12m4-15v10m2-13v8m2-9v11m4-7v9m2-7v6m6-43v75m2-67v60m2-35v12m2-11v8m4-43v82m2-41v1m2-4v8m2-12v14m4-33v45m2-31v24m4-32v48m4-37v12m4-15v8m2-8v15m12-9v2m6 0v14m2-14v11m2-13v16m8-9v1m6-5v8m4-8v8m2-8v6m2-6v5m2-12v9m6-3v1m8-2v11m4-11v13m2-14v10m2-13v38m2-48v26m2-8v9m12-20v15m4-17v18m4-9v6m2-13v24m2-27v16m2-9v7m2-13v9m2-11v11m2-9v11m6-12v12m2-28v27m2-14v26m2-24v15m6-6v5m4-33v47m2-24v44m6-43v10m2-10v29m2-47v29m2-15v16m6-20v14m8-6v23m4-24v26m4-17v6m6-9v5m2-3v19m6-24v11m4-22v30m2-22v15m4-16v21m2-16v9m2-11v17m2-16v10m8-17v16m2-8v8m4-7v11m2-19v16m2-15v12m2-24v23m2-17v32m2-26v14m2-18v23m2-19v22m2-19v7m4-19v26m2-35v41m4-18v9m2-7v10m2-10v8m2-7v10m2-14v8m4-12v19m2-15v24m2-27v27m2-29v15m18-6v7m2-21v23m2-13v19m2-26v28m4-19v20m6-37v25m2-28v42m2-44v39m2-18v20m6-15v9m2-18v17m2-8v15m4-12v9m4-13v9m2-8v9m8-14v13m2-16v16m2-17v14m2-17v17"/><path stroke="#1050e0" stroke-width="6.0" stroke-dasharray="0 4.0" d="M0-8v19m2-10v15m6-10v1m8-9v16m2-16v16m10-27v20m4-16v12m2-14v14m2-12v13m2-8v6m2-8v10m4-33v36m2-13v9m6-16v16m2-6v6m2-8v26m2-23v21m2-16v7m6-17v14m2-19v39m2-39v21m2-19v20m6-30v30m2-20v11m6-7v8m2-6v13m2-15v8m2-9v11m2-13v13m4-10v30m2-50v38m2-21v43m2-66v64m4-34v12m6-25v31m2-21v22m2-22v25m2-27v38m2-36v12m2-11v12m2-9v5m4-3v12m4-12v8m2-10v15m2-17v14m6-15v9m8-7v13m8-21v31m14-27v10m2-11v14m4-9v19m2-35v20m2-8v14m2-15v8m2-6v5m2-3v7m2-32v33m2-23v38m8-31v12m2-18v15m4-4v7m2-15v18m2-36v42m2-49v48m2-13v20m10-25v16m2-10v11m2-14v8m2-2v7m2-12v17m2-28v19m2-9v16m2-24v18m2-34v32m4-9v13m4-13v8m6 0v3m2-4v4m4-12v18m6-8v4m4-6v11m2-12v8m4-15v30m4-23v4m2-17v33m2-33v19m2-12v17m2-20v14m6-13v22m2-13v7m4-8v11m10-19v15m2-16v21m2-16v10m2-22v18m2-9v10m6-13v8m2-7v16m10-14v17m2-22v19m4-23v24m4-30v25m4-6v10m2-24v29m2-29v28m4-12v8m2-8v2m4-9v12m2-11v13m2-18v35m2-45v27m2-22v22m2-10v18m4-37v44m2-33v21m4-11v8m2-19v28m2-20v24m4-30v24m2-18v24m2-29v18m2-25v24m4-15v13m4-21v30m2-23v15m2-10v10m2-7v15m10-11v7m2-11v12m4-9v12m2-20v23m2-25v17m2-10v10m2-20v14m2-9v19m4-27v20m2-10v9m2-5v7m2-11v9m6-9v7m2-8v7m2-8v8m2-15v17m2-16v19m2-18v16m2-14v31m10-20v8m2-12v17m2-15v29m6-29v28m4-22v7m2-11v13m4-10v4m2-7v8m6-10v14m2-19v17m8-13v31m2-26v31m2-34v8m6-8v9m4-11v11m2-12v22m6-29v27m2-32v32m10-13v6m2-12v10m2-17v20m2-21v18m4-14v15m4-10v8m2-7v12m2-17v11m6-5v13m2-23v41m2-50v51m2-35v5m2-44v75m2-36v8m2-33v70m2-49v12m2-39v65m4-75v78m4-79v67m2-58v72m6-42v10m8-10v22m4-17v7m2-8v7m4-21v21m2-27v25m2-5v8m2-12v20m2-16v8m2-5v8m2-5v0m6-20v28m2-16v26m8-22v6m4-5v10m10-16v8m4-11v9m2-9v21m4-19v21m2-18v7m2-3v9m8-11v10m2-10v28m2-34v32m4-22v10m6-16v8m2-14v18m10-31v25m2-22v39m2-23v5m18-9v29m2-24v9m2-18v14m2-14v34m2-36v37m2-49v42m2-41v37m2-16v13m6-11v6m2-5v1m6-15v24m2-17v15m4-4v2m12-7v10m2-11v17m2-15v25m2-39v27m2-17v9m6-16v22m2-24v27m2-22v13m4-12v20m12-23v15m4-10v17m2-31v23m2-12v20m2-19v10m2-26v32m2-16v14m2-9v13m4-13v5m10-18v29m2-20v31m2-38v24m2-16v8m2-9v9m6-6v4m8-5v17m4-12v18m2-20v9m4-24v34m8-28v22m2-12v7m2-6v8m4-23v26m2-15v14m8-12v10m4-9v8m6-6v1m2-3v8m2-9v8m4-10v15m4-12v9m4-12v7m2-6v15m8-31v26m2-9v16m4-19v22m2-25v18"/><path stroke="#20d0f0" stroke-width="6.0" stroke-dasharray="0 4.0" d="M2-3v12m2-14v25m4-23v10m4-16v38m2-33v8m6-10v15m2-28v33m4-23v11m4-24v52m2-36v30m2-27v10m6-6v1m4-10v17m4-11v19m2-50v55m2-48v30m2-12v10m4-14v24m2-37v25m4-19v17m2-24v30m2-10v1m2-4v12m8-13v28m2-20v18m4-22v14m4-14v11m2-2v1m2-14v22m2-12v8m4-28v33m2-20v31m2-25v7m4-5v11m2-8v2m6-3v13m8-20v26m6-24v11m2-34v33m4-12v7m4-8v17m6-15v8m4-11v13m10-15v15m2-10v10m2-14v9m2-5v9m2-8v10m2-8v5m2-11v8m2-30v43m2-29v18m2-5v6m2-8v16m4-21v14m2-7v9m4-26v47m2-34v31m2-36v14m2-6v10m2-21v30m2-24v9m2-7v9m2-4v2m2-12v27m2-31v25m2-15v11m2-11v12m2-18v19m2-9v11m4-10v10m12-11v15m2-21v15m8-17v19m6-20v20m2-16v13m2-12v16m4-16v13m2-11v8m6-4v1m4-5v31m2-28v22m6-20v16m2-18v7m2-4v8m18-16v7m2-13v20m4-8v4m6-3v0m2-3v3m2-13v19m2-13v9m2-6v11m2-25v39m2-47v43m2-23v21m4-30v23m2-12v12m2-10v9m4-7v0m2-15v34m2-40v54m2-47v21m2-24v25m2-28v33m2-16v20m2-21v22m4-19v5m8-12v10m8-2v6m4-14v34m2-27v23m2-23v11m2-24v44m2-40v20m2-16v17m2-17v13m4-19v24m2-16v26m2-29v12m2-16v20m2-11v7m4-15v25m2-22v9m12-6v6m10-8v8m4-9v33m2-35v42m2-71v55m4-17v6m2-13v13m2-8v24m4-19v8m4-17v16m2-9v10m8-8v7m4-12v9m4-12v12m4-13v27m2-54v55m2-25v10m2-18v34m2-36v35m2-29v8m2-14v17m2-7v10m2-12v8m2-9v8m16-9v11m6-3v1m4-7v6m4-3v9m6-12v7m8-7v9m2-6v4m2-7v5m4-5v20m2-16v1m6-5v14m10-12v14m2-23v40m2-32v30m2-34v10m2-10v14m2-21v15m2-7v5m4-7v7m4-28v43m2-21v16m14-10v7m2-35v57m4-51v50m6-30v8m2-20v46m2-71v69m4-30v10m6-8v5m6-23v26m2-26v31m2-31v38m2-54v63m2-33v40m2-48v28m6-16v31m2-42v39m6-38v21m2-18v28m2-29v13m2-4v7m2-9v12m2-29v33m4-17v9m2-19v25m2-17v7m4-13v21m2-18v15m2-12v9m2-12v14m8-22v20m2-13v5m2-7v9m2-18v24m2-12v9m2-14v11m8-8v18m6-20v8m8-25v31m2-9v19m4-26v17m2-13v20m4-16v6m6-10v12m4-6v1m10-7v8m2-10v20m2-27v23m2-16v20m2-18v15m6-17v22m2-23v22m2-19v7m4-7v10m6-8v16m2-24v18m2-10v15m2-12v4m4-9v10m2-4v4m2-9v9m2-5v14m6-21v15m4-15v27m2-22v22m6-16v19m4-15v11m2-9v6m2-8v13m2-25v22m2-35v48m2-22v7m2-19v19m2-8v2m2-11v11m4-4v5m4-11v10m2-5v6m2-6v4m2-16v22m2-13v8m2-10v17m2-15v5m4-10v23m4-26v12m2-3v21m2-24v20m4-17v17m2-24v12m2-8v9m4-6v11m2-15v8m4-8v9m2-4v10m2-16v12m4-27v41m2-47v45m6-23v10m2-7v9m2-9v10m8-13v15m2-18v25m4-42v28m2-23v25m2-10v12m2-16v19m12-23v15m2-8v21m2-24v12m6-9v11m2-14v17m4-23v21"/><path stroke="#e04050" stroke-width="6.0" stroke-dasharray="0 4.0" d="M6-13v21m2-14v11m4-19v29m6-25v15m2-17v22m2-15v8m2-6v0m2-5v12m2-17v26m6-22v18m6-12v9m2-9v18m2-19v8m4-15v27m6-23v11m2-9v19m2-22v10m2-4v9m12-11v9m2-9v10m6-10v6m2-8v9m4-4v7m2-11v9m4-5v8m2-11v16m2-13v15m4-17v15m4-13v7m4-4v7m2-13v13m2-7v11m2-17v24m2-33v25m4-11v7m2-9v12m2-20v16m2-18v20m2-17v17m2-11v7m2-7v10m2-9v7m2-2v5m4-6v16m4-33v33m2-29v23m2-15v26m2-32v23m2-11v12m2-17v21m6-20v7m2-4v0m2-7v11m4-8v5m2-6v9m6-14v13m2-9v26m2-34v24m4-16v10m2-6v10m8-11v3m14-6v11m6-17v16m2-9v14m4-10v7m2-8v13m4-20v21m2-9v5m4-12v15m2-11v6m2-1v1m16-6v1m2-2v5m2-9v4m2-6v9m2-7v7m4-15v16m4-20v22m2-15v19m4-19v8m2-4v5m4-5v7m8-19v24m4-20v27m2-28v21m4-13v8m10-21v18m2-10v30m2-25v19m2-21v10m2-15v19m2-10v23m2-27v17m8-17v13m4-16v21m2-14v14m4-15v11m4-13v10m2-13v17m6-12v19m2-13v8m2-13v9m2-3v5m4-9v18m4-17v7m6-8v8m2-12v15m14-9v2m2-5v7m2-21v46m2-52v40m2-20v16m8-17v10m4-8v14m2-21v20m2-11v10m2-10v14m2-30v22m2-14v21m2-19v9m2-9v17m2-11v5m2-13v14m4-11v14m2-14v7m6-7v9m4-8v12m2-11v19m2-23v10m10-9v9m6-16v21m2-14v6m2-12v13m8-6v11m8-19v22m2-16v18m10-17v10m4-16v34m4-29v14m10-14v9m2-4v10m2-13v8m2-11v21m22-15v6m2-18v21m6-13v8m8-9v9m4-9v7m2-23v25m2-17v12m4-7v8m2-10v13m10-6v6m2-10v12m4-6v7m4-38v60m2-31v9m2-49v68m6-49v49m2-27v5m2-9v14m6-7v2m6-25v55m4-29v1m4-3v11m2-19v21m2-24v22m2-16v27m2-28v20m2-20v18m4-19v20m8-23v19m2-12v25m2-29v26m2-21v18m2-21v10m10-9v3m4-4v2m2-4v5m2-8v12m4-15v29m2-27v13m2-8v10m2-15v14m4-16v21m2-14v8m2-10v22m2-15v7m8-7v7m2-8v20m2-27v11m12-3v1m2-7v16m2-26v23m2-22v20m2-20v13m2-4v1m8-13v21m2-13v14m4-8v2m6-3v10m2-22v25m4-11v13m4-21v18m2-6v10m6-24v23m4-16v19m2-29v21m12-7v11m2-14v31m2-44v48m8-31v10m4-17v11m2-16v17m2-10v5m2-5v5m6-6v11m8-2v9m2-18v14m2-12v29m2-31v15m8-8v10m2-12v5m8-8v9m6-13v16m2-23v25m2-18v14m2-7v6m2-5v10m12-22v29m8-14v7m2-10v15m10-15v10m2-13v6m4-4v11m10-9v5m2-5v7m12-4v7m2-5v8m2-19v19m4-14v6m2-10v13m2-14v12m2-10v10m4-5v1m2-7v10m4-11v11m4-8v16m2-13v10m4-18v12"/><path stroke="#3080f0" stroke-width="6.0" stroke-dasharray="0 4.0" d="M2-3v16m2-34v31m2-17v34m2-28v11m4-12v15m2-29v21m8-6v8m2-10v10m2-22v40m2-43v25m6-18v17m2-15v19m6-12v5m2-24v55m2-56v60m2-61v40m6-19v8m2-9v9m2-5v9m2-25v21m2-10v18m6-16v11m4-19v29m4-20v9m6-17v14m2-8v6m2-21v39m2-49v32m2-23v19m2-20v46m2-64v53m2-27v25m4-17v11m2-11v5m6-3v8m2-9v8m2-4v9m4-8v12m8-16v8m14-11v8m2-8v14m2-28v23m2-22v22m2-31v36m2-39v39m2-34v29m2-9v2m2-11v16m2-11v20m2-17v6m2-13v14m4-12v14m2-19v18m4-18v21m2-10v8m2-13v26m2-38v55m2-44v32m2-21v7m4-15v16m4-16v12m4-20v29m2-14v19m6-26v13m2-8v5m2-2v2m8-7v11m2-13v19m2-20v8m6-10v10m4-3v9m2-11v9m2-16v25m2-21v32m2-32v32m2-23v11m6-6v8m4-25v22m2-25v29m2-24v28m2-14v9m6-21v18m2-8v15m2-15v10m8-9v15m4-22v20m8-15v19m8-19v8m2-2v0m2-8v18m2-21v36m2-45v35m2-17v7m2-8v11m4-9v6m4-6v6m14-7v7m4-20v22m6-12v7m6-13v8m6-13v11m2-18v21m2-16v21m2-19v27m2-22v32m2-28v9m10-8v10m6-7v8m2-12v20m4-20v12m2-7v23m2-25v23m4-27v14m2-12v13m2-21v20m8-13v10m2-21v22m2-21v13m2-2v5m2-14v12m4-12v15m6-11v6m2-9v11m4-8v10m2-30v27m2-32v49m4-48v67m4-60v58m2-42v11m6-6v13m2-11v7m2-2v9m2-10v13m4-18v8m6-8v5m4-3v3m8-7v7m2-11v20m2-30v39m2-31v17m2-12v9m2-14v25m2-38v46m2-30v15m2-28v24m2-24v25m6-17v25m6-17v20m2-19v10m4-20v18m6-9v5m6-2v0m4-15v23m2-15v17m2-20v9m4-15v20m2-14v9m8-16v15m2-21v47m2-34v28m2-39v28m4-13v10m2-13v15m2-13v7m4-6v15m4-17v14m2-9v8m2-5v6m2-5v6m2-2v10m4-21v18m2-9v20m2-24v11m2-20v24m4-13v7m2-11v11m2-15v11m2-9v9m2-26v29m2-19v21m2-30v40m4-29v10m2-29v43m6-22v12m4-25v58m2-76v67m2-34v14m2-10v5m4-23v30m2-32v34m4-17v7m2-7v7m4-10v12m2-25v30m2-41v46m2-42v49m8-26v9m6-4v5m2-9v14m2-14v8m4-11v6m8-7v13m2-13v6m2-25v28m2-23v54m2-65v58m2-47v38m2-23v11m2-19v22m2-27v52m2-39v16m2-18v19m2-18v30m2-22v6m2-4v10m4-9v8m8-9v20m2-45v47m2-24v24m12-30v12m2-18v13m2-14v17m4-24v24m2-10v20m4-15v8m2-7v7m4-21v25m2-21v31m2-31v29m2-32v19m2-12v13m2-16v11m2-17v18m2-13v9m6-10v22m2-17v14m4-14v5m4-8v11m2-6v11m2-10v7m2-7v2m6-9v15m2-18v25m4-21v30m2-31v11m2-17v24m2-41v43m2-20v36m2-30v24m6-25v12m2-19v21m4-11v19m4-22v25m2-24v27m2-34v32m2-50v37m2-28v25m2-7v7m2-9v7m10-10v14m6-14v16m2-11v6m2-19v30m4-30v24m2-21v39m2-31v18m6-20v10m8-2v5m2-14v17m4-13v26m8-40v29m4-16v6m6-6v12m6-10v4m2-4v13m2-17v23m4-21v7m2-16v34m2-24v14m4-12v7m12-24v21m2-11v15m6-16v12m2-15v12m8-4v11"/><path stroke="#f040c0" stroke-width="6.0" stroke-dasharray="0 4.0" d="M8-2v11m2-12v10m4-11v7m2-4v0m4 0v0m6-6v16m4-24v33m2-31v31m4-25v11m2-10v23m2-18v7m2-19v22m2-9v5m2-14v30m6-26v9m4-4v6m2-10v8m2-3v8m10-1v6m2-7v7m2-12v10m2-4v6m6-16v13m2-15v14m6-17v16m4-15v15m2-22v29m2-32v19m2-10v6m6-6v10m2-10v28m2-24v13m2-18v13m4-4v9m2-16v18m6-8v2m4-6v5m2-5v11m4-27v36m2-19v25m2-26v14m2-20v17m6-14v7m4-12v13m4-18v20m2-29v38m2-20v30m2-37v35m4-33v15m2-12v11m2-3v4m2-6v11m2-10v6m12-12v11m4-12v8m2-6v16m2-26v28m2-17v15m4-20v11m6-6v3m10-2v13m6-18v24m10-13v7m2-15v25m2-17v15m12-21v8m2-16v24m2-31v25m2-19v23m2-24v16m14-19v17m2-29v37m2-24v27m4-23v12m2-19v19m4-16v29m2-27v22m2-13v9m8-14v17m4-12v16m6-17v10m4-10v6m2-10v21m2-20v7m4-2v3m6-6v9m2-5v7m2-12v18m2-26v23m2-10v11m6-13v11m4-13v8m2-17v18m2-8v10m2-16v10m2-3v6m6-3v1m2-12v17m6-11v14m4-15v25m4-22v10m10-26v30m4-15v11m2-11v6m2-8v19m4-23v16m2-6v7m4-19v22m2-26v29m2-15v19m8-13v9m6-13v6m8-7v6m6-15v18m2-11v20m2-18v12m4-15v11m6-15v16m4-7v25m2-24v18m4-17v6m2-3v3m4-8v7m6-16v14m2-5v9m6-26v25m2-16v28m4-22v8m4-20v43m2-36v31m2-30v9m2-5v7m2-9v17m2-17v11m2-12v19m2-13v8m2-13v16m2-18v25m2-17v2m4-7v13m2-13v6m2-5v11m2-15v19m4-17v8m2-10v17m10-7v10m2-17v15m8-30v27m4-21v25m2-17v9m2-6v7m4-6v9m2-9v1m2-11v15m2-9v13m2-13v8m2-11v11m2-8v11m2-14v13m2-16v26m2-22v9m6-5v6m4-8v18m2-18v11m2-19v24m2-35v46m8-23v10m2-12v11m2-8v9m4-11v13m2-30v57m6-35v11m6-11v12m4-15v19m2-19v17m2-18v14m4-17v19m2-20v10m10-11v2m8-13v17m2-20v41m2-26v8m4-7v24m2-38v51m2-57v34m2-15v8m2-9v5m4-5v9m2-14v19m2-20v14m4-8v7m8-11v12m2-18v38m2-32v24m2-20v6m2-3v9m2-10v9m2-6v5m2-5v7m4-9v8m6-8v7m4-10v6m6-5v29m8-37v17m22-8v14m2-19v19m4-12v10m4-11v16m2-22v33m10-22v6m2-6v3m2-5v3m4-14v16m2-14v15m10-2v5m2-12v12m4-12v19m2-29v23m2-21v22m4-22v13m18-22v30m2-27v54m2-56v36m2-18v7m8-15v20m4-16v14m2-13v15m4-17v6m4-5v9m2-12v13m2-13v18m10-14v10m2-15v24m10-29v18m2-19v14m2-8v14m4-25v24m2-20v15m2-8v8m2-14v22m2-14v16m2-19v24m2-29v21m2-11v8m2-3v2m2-7v12m2-9v17m2-17v17m4-17v6m2-5v8m2-9v14m6-24v15m2-10v25m2-27v20m4-13v6m6-12v8m2-5v9m6-12v8m2-3v13m6-9v3"/><path stroke="#806020" stroke-width="6.0" stroke-dasharray="0 4.0" d="M0-3v8m2-13v13m2-10v9m2-10v9m8-9v16m10-11v0m4-3v8m2-11v15m2-8v3m2-3v2m2-5v6m2-2v7m4-9v12m2-14v19m4-14v11m2-13v7m4-5v5m2-4v13m2-16v9m4-9v16m2-16v7m8-4v11m2-14v10m4-11v5m6-3v5m10-9v5m18-6v7m2-7v9m6-6v7m2-11v7m2-11v15m2-7v9m2-17v14m2-7v7m2-9v6m4-13v23m4-21v18m2-21v21m2-20v16m2-15v6m4-4v12m6-11v14m2-15v11m2-8v20m4-20v12m6-9v6m2-8v7m16-6v9m2-9v8m2-8v23m2-38v23m2-13v11m4-10v7m2-3v6m6-6v8m6-5v1m2-1v5m2-12v11m2-10v15m6-5v6m6-8v8m6-13v10m10-18v19m2-13v22m4-15v8m6-11v15m2-22v27m2-33v25m2-17v9m2-9v8m2-3v2m4-19v29m4-13v11m8-22v17m2-13v13m4-10v17m12-13v8m4-2v1m2-3v7m4-11v11m4-8v7m8-4v7m2-6v6m2-8v10m4-6v1m8-7v12m2-16v13m4-7v5m4-6v1m2-4v8m2-7v8m4-11v13m16-12v9m2-16v18m2-8v11m4-7v6m2-5v0m4-9v14m2-16v22m2-18v23m2-21v9m18-13v11m2-15v11m2-4v7m24-11v8m2-10v14m2-17v14m2-12v9m4-5v6m4-10v13m2-12v7m2-7v8m8-7v8m4-3v5m4-4v5m10-12v12m4-8v10m4-22v25m4-23v14m2-12v17m6-8v3m4-2v1m6-5v11m2-13v9m6-10v9m2-3v7m6-6v7m2-7v10m2-10v9m2-16v15m2-18v16m4-16v16m4-2v0m4-6v9m2-10v20m4-25v24m2-17v11m8-5v2m4-12v16m2-21v16m2-14v20m4-11v1m2-8v13m2-48v72m6-35v9m2-9v11m2-9v8m4-36v64m4-61v70m4-47v13m2-33v44m2-21v7m2-7v9m2-13v14m2-32v54m2-36v19m2-13v10m6-12v7m2-3v0m12-3v6m2-9v17m10-15v8m2-13v7m4-3v5m2-7v7m2-6v8m2-11v13m18-23v27m2-14v23m4-22v5m8-2v6m2-6v1m4-3v8m8-12v17m2-20v14m8-10v16m2-21v14m6-11v8m4-9v11m4-10v9m2-3v5m2-5v2m4-1v7m4-9v8m2-14v19m2-11v10m4-20v27m8-25v9m2-16v15m4-17v18m2-12v9m6-5v6m2-1v8m4-9v14m4-10v10m8-13v10m4-7v23m2-22v7m10-12v8m4-7v6m12-14v17m2-21v25m6-11v6m10-9v12m2-19v15m2-8v8m2-4v4m2-6v8m4-5v2m12-4v7m6-8v7m4-9v16m6-15v12m4-12v15m10-12v13m2-21v16m10-10v12m4-12v7m6-8v6m10-10v13m6-11v13m2-21v22m6-12v6"/><path stroke="#20e060" stroke-width="6.0" stroke-dasharray="0 4.0" d="M6-4v8m4-14v15m2-9v7m4-13v13m2-17v18m4-14v36m4-44v22m2-7v7m10-2v8m4-5v10m2-21v17m8-13v22m14-36v39m2-37v40m2-41v19m10-19v27m2-21v41m2-58v32m2-5v9m2-22v23m2-18v13m4-8v5m2-7v13m2-11v10m2-8v9m2-15v9m2-2v1m10-9v21m2-33v23m4-11v11m2-16v16m6-6v28m2-38v17m2-12v15m4-12v36m2-35v36m2-48v31m2-11v0m6-4v8m2-12v15m2-9v7m2-5v3m4-9v18m2-24v17m4-14v14m2-12v10m2-4v4m8-4v16m2-24v31m2-39v38m2-30v33m4-27v8m4-12v9m8-8v7m4-8v12m4-31v40m2-23v19m4-16v6m4-5v21m4-29v15m2-12v10m2-6v20m10-22v7m6-8v21m2-22v13m10-20v22m2-15v36m4-27v6m4-4v1m4-13v28m2-17v7m4-11v5m6-13v13m2-19v27m4-24v14m2-7v7m2-30v49m2-30v43m2-47v32m2-25v16m4-10v9m2-11v12m6-10v9m2-18v26m2-23v22m2-19v6m2-1v7m2-12v16m2-21v18m4-31v40m2-38v27m2-7v9m2-8v8m2-15v12m2-9v11m2-5v1m4-9v13m2-25v34m2-30v22m2-8v2m6-15v13m2-8v8m2-5v6m2-16v14m2-7v17m6-20v14m4-5v8m2-12v15m2-13v16m2-22v27m2-30v46m2-61v50m2-50v39m4-11v0m6-6v10m2-9v6m12-19v26m2-31v38m2-38v29m2-23v41m2-51v28m2-20v22m6-15v14m8-10v23m6-16v5m8-4v1m8-3v2m4-7v6m4-11v15m2-11v15m6-12v21m2-40v27m2-23v23m2-15v30m2-22v13m4-17v8m2-20v23m2-7v3m2-6v7m6-5v14m4-8v2m4-8v10m6-7v8m2-5v12m2-17v13m2-24v26m2-36v35m2-19v35m2-27v17m2-16v7m4-12v15m2-12v4m12-11v11m8-8v12m2-15v19m4-15v4m2-9v13m6-29v26m6-14v15m2-17v21m2-14v8m2-9v18m2-21v13m4-15v25m4-32v33m10-22v11m2-37v76m2-47v12m6-7v12m2-31v42m4-25v10m2-26v45m4-43v44m4-31v13m6-11v15m2-12v16m2-20v7m6-12v30m2-32v22m2-22v32m2-28v43m2-47v19m2-18v13m4-22v33m2-17v11m2-13v8m2-11v26m4-30v18m2-9v12m2-12v8m2-8v12m2-8v11m6-15v14m2-9v11m4-9v3m2-13v15m4-11v19m4-17v8m2-24v23m2-25v31m6-12v2m4-2v5m2-8v8m12-13v7m2-7v8m6-7v12m2-18v21m4-10v1m8-37v67m2-39v14m4-14v19m2-11v8m4-8v2m2-10v12m2-5v6m2-5v1m2-2v6m2-9v12m6-11v17m2-18v9m14-22v20m2-10v11m4-33v33m6-19v20m2-10v5m2-3v13m2-43v46m2-39v38m4-18v12m8-15v13m2-5v24m2-39v27m4-41v43m2-21v31m2-41v21m2-11v19m2-29v24m6-23v18m2-22v24m4-9v9m2-17v21m2-15v30m2-27v5m4-5v8m2-3v6m4-13v12m2-5v15m4-21v15m6-13v11m2-14v17m2-16v24m6-31v20m4-10v11m2-10v9m2-14v16m2-13v11m2-18v17m2-8v11m2-21v16m2-12v24m8-27v15m10-3v6m8-19v16m2-8v17m2-26v14m2-7v3m4-15v16m14-6v3"/><path stroke="#a020f0" stroke-width="6.0" stroke-dasharray="0 4.0" d="M0 1v7m8-9v11m2-16v11m4-6v9m2-14v17m2-6v5m4-13v11m4-7v17m2-25v19m4-17v20m16-14v7m6-15v6m2-6v14m2-17v11m4-7v3m2-2v7m2-9v8m2-10v7m14-6v10m6-7v8m10-1v5m2-12v9m2-7v19m4-16v7m8-8v3m4-7v8m2-6v6m6-1v2m6-10v15m2-16v24m2-19v15m2-13v8m6-15v14m2-15v6m4-4v7m6-10v9m2-6v9m6-12v8m4-3v5m4-15v26m10-14v6m16-10v6m2-8v9m2-13v12m4-7v17m2-21v23m4-16v1m8-2v8m2-10v7m2-3v8m6-6v8m4-15v27m2-31v26m2-14v16m2-20v12m2-21v22m2-19v18m2-11v14m2-15v14m2-13v8m6-15v15m2-9v8m2-5v8m2-11v9m2-15v22m2-26v31m2-14v19m4-25v26m2-31v18m2-10v19m4-22v16m2-21v15m2-4v7m8-12v8m6-4v8m2-14v8m2-12v15m2-22v20m2-15v30m2-24v6m2-7v6m2-13v18m14-3v1m2-4v12m2-19v14m8-20v25m4-9v0m4-4v11m2-12v14m2-11v4m4-2v11m2-12v15m2-13v8m4-9v8m2-8v13m2-24v17m2-16v16m4-6v9m2-9v8m2-11v7m10-12v10m4-11v12m4-10v18m2-25v13m2-7v14m8-13v6m4-2v10m4-10v14m2-13v24m4-21v10m4-11v8m6-9v5m4-11v14m4-14v11m2-17v20m2-16v5m4-4v6m8-4v15m8-17v13m4-6v9m2-9v7m12-3v5m8-13v11m2-8v13m2-16v17m4-18v18m2-15v6m2-8v5m2-5v4m2-3v9m2-11v7m6-2v0m2-4v10m2-10v27m2-27v25m2-23v12m2-15v13m2-13v10m2-14v9m2-22v45m2-61v40m8-9v8m8-5v9m4-12v13m2-6v9m2-13v12m4-13v6m2-5v11m2-13v10m2-9v7m2-13v18m4-21v36m2-51v27m2-7v10m2-7v5m2-6v7m2-8v10m6-6v6m6-35v57m2-27v9m2-10v9m2-10v10m2-19v40m2-26v2m2-24v56m2-57v44m2-44v50m2-37v21m2-44v56m2-55v60m2-57v59m14-49v26m2-12v20m2-23v14m2-14v14m2-19v16m2-11v12m4-5v9m2-11v13m2-14v17m4-17v15m12-11v14m2-13v9m6-7v8m6-23v14m2-17v19m2-9v15m2-17v12m2-11v11m2-15v11m4-7v17m4-12v11m4-25v20m2-6v8m6-19v26m2-18v10m4-9v9m2-13v15m6-12v9m4-9v10m2-9v11m4-6v19m2-30v23m2-21v17m2-17v34m2-26v16m30-22v14m4-16v11m4-11v18m4-13v8m2-14v19m2-19v19m2-17v15m4-19v16m2-21v22m4-16v17m6-15v8m4-18v18m2-17v15m6-7v8m6-8v7m2-7v7m6-1v9m2-9v13m2-15v13m2-9v10m8-7v15m2-26v20m2-19v15m10-10v27m2-19v8m2-10v16m2-40v51m2-33v34m2-52v50m2-26v22m4-21v13m2-15v10m6-6v1m2-3v9m2-24v24m2-14v14m16-14v10m2-14v8m4-5v5m2-8v12m6-18v13m6-13v29m2-37v24m2-7v13m2-16v14m2-16v10m2-4v14m2-18v8m4-3v1m4-7v5"/><path stroke="#f02060" stroke-width="6.0" stroke-dasharray="0 4.0" d="M2-11v20m2-15v13m8-15v11m2-13v27m2-17v2m2-4v10m2-7v5m2-18v23m2-13v21m4-23v8m2-4v15m4-22v18m2-22v35m2-29v14m6-25v36m2-21v7m4-7v22m2-28v18m4-10v18m2-16v14m12-14v6m10-8v12m2-11v7m2-9v8m6-12v7m4-6v14m6-10v1m6-6v7m2-7v8m4-6v7m2-16v16m2-11v13m6-17v8m4-11v14m8-16v19m4-11v10m8-3v0m6-2v12m2-11v15m4-15v8m2-3v3m6-6v8m2-8v10m10-10v11m4-12v11m10-10v10m2-7v0m2-10v16m4-16v20m2-15v18m4-21v11m6-8v6m4-19v32m2-31v26m4-12v10m10-10v2m4-3v7m4-14v12m10-5v21m4-33v24m2-24v23m2-7v4m2-12v14m2-11v13m8-10v11m2-13v13m10-20v9m8-7v6m6-9v13m2-12v13m2-9v7m2-8v8m2-13v12m2-15v14m2-5v5m6-6v6m4-6v6m2-3v7m10-13v22m10-11v7m6-13v13m2-14v19m2-12v8m2-14v12m2-18v20m4-11v14m2-29v24m2-10v24m2-23v18m4-23v23m2-16v6m18-8v12m2-7v16m2-16v5m10-15v12m6-13v16m2-11v6m2-10v19m2-22v22m2-20v9m4-12v14m2-10v9m4-8v20m2-19v28m6-27v12m4-9v0m10-7v11m4-23v33m4-23v26m20-24v8m2-17v24m2-16v14m2-15v14m4-9v11m6-8v6m2-3v11m2-18v25m2-19v10m8-15v6m2-8v8m4-8v6m2-12v13m2-6v8m4-11v22m2-28v34m6-26v15m2-18v31m2-27v20m4-17v8m2-11v6m6-6v5m2-11v18m2-11v6m2-6v8m4-18v22m2-13v23m2-29v14m2-10v13m2-24v23m4-12v15m6-17v12m2-7v10m4-13v14m2-10v9m2-48v87m4-60v27m2-18v11m2-12v11m2-12v14m2-12v11m2-35v53m2-35v27m4-18v10m2-14v14m2-9v8m4-39v55m2-61v81m4-63v35m8-25v18m2-14v26m2-25v9m2-5v6m4-7v6m2-7v9m6-10v8m2-12v11m10-10v6m2-19v24m2-17v29m2-27v17m2-10v8m2-5v22m2-39v38m2-22v11m2-4v5m2-11v20m6-19v13m2-24v27m10-18v11m12-23v27m2-24v14m2-7v12m2-26v26m2-18v26m2-24v26m2-26v8m2-4v9m2-10v14m4-15v17m2-19v26m2-23v10m4-6v8m8-3v9m2-14v20m2-17v13m2-14v6m2-12v10m2-8v11m2-19v14m2-31v34m2-32v32m4-9v3m2-5v10m2-13v22m2-22v9m2-2v1m6-8v12m2-11v10m2-4v11m2-17v10m2-11v14m2-18v25m2-13v17m2-21v22m8-21v22m2-13v0m2-13v22m2-33v32m2-15v19m2-21v12m6-6v0m2-15v23m2-12v5m4-6v6m4-9v12m8-6v5m6-15v21m4-13v15m2-16v7m4-9v9m2-18v28m2-14v7m4-22v22m2-11v24m2-41v32m2-32v32m2-22v12m10-12v8m4-8v14m4-20v16m8-14v10m2-9v13m2-17v22m2-17v10m4-18v15m2-5v14m6-25v26m4-10v2m2 0v0m2-2v3m8-3v8m2-10v10m6-8v12m2-18v18m8-11v5m4-2v6m6-9v12"/><path stroke="#5050f0" stroke-width="6.0" stroke-dasharray="0 4.0" d="M0 2v9m4-7v8m6-12v10m2-3v18m2-22v19m4-15v7m4-8v6m2-14v14m2-13v16m8-17v13m2-10v8m12-12v8m6-11v12m2-6v13m2-11v2m6-6v10m2-11v7m6-13v12m2-7v12m2-12v16m2-17v12m2-8v5m2-14v16m2-24v24m2-9v11m6-12v11m2-12v12m4-15v8m2-9v14m14-9v21m2-16v10m4-12v10m4-16v22m4-19v9m14-6v11m2-18v22m2-18v5m2-2v5m14-5v10m2-8v8m12-10v9m2-7v5m2-10v8m2-5v11m6-15v12m2-15v15m8-9v3m2-4v8m2-14v13m2-10v15m12-12v9m2-6v9m2-7v5m12-6v9m4-6v6m4-9v10m2-10v11m4-12v9m2-3v8m6-15v21m4-21v9m2-6v3m4-3v4m2-9v8m4-8v7m2-4v7m12-11v11m12-15v11m8-15v16m4-15v19m2-14v24m2-19v11m2-7v2m4-2v7m2-7v9m14-18v14m18-13v7m10-4v9m10-3v6m4-11v6m10-5v7m2-12v9m8-6v13m2-23v25m2-26v21m2-5v9m2-16v15m2-10v14m10-21v9m2-5v7m4-10v10m2-11v11m4-7v6m2-7v8m2-13v10m2-3v6m12-3v4m2-12v13m4-12v16m2-15v5m4-6v10m2-11v12m6-6v1m10 3v5m2-12v10m4-3v8m2-9v9m8-10v13m2-20v18m2-12v7m2-17v25m2-13v12m4-14v11m4-18v15m2-16v24m8-21v8m4-6v11m6-10v12m2-18v21m4-11v10m2-16v13m2-9v8m10-9v11m4-9v8m2-14v10m10-2v1m2-4v11m2-12v6m2-8v9m8-8v7m2-8v4m4-38v78m4-70v65m2-41v11m2-9v6m2-8v11m2-47v82m4-47v10m4-46v68m6-48v35m2-18v9m2-20v40m4-27v9m8-7v12m6-19v17m2-11v18m2-30v18m2-16v26m2-18v11m14-16v13m4-9v9m12-11v3m2-15v21m2-11v17m2-18v8m2-6v6m4-12v20m2-15v19m28-13v8m6-3v2m2-3v1m2-3v3m2-4v3m4-12v12m4-9v8m6-7v7m2-5v8m2-8v6m2-11v12m2-9v20m2-25v16m8-4v0m4-5v7m8-13v14m4-5v8m2-9v6m6-7v11m2-19v15m4-11v14m2-7v7m10-6v10m6-11v10m2-14v8m2-3v1m10-11v19m2-18v15m2-14v11m2-10v9m26-8v10m4-13v5m2-4v5m4-4v6m12-3v7m2-7v8m8-14v18m10-7v12m2-15v18m4-18v14m4-15v15m2-11v12m8-11v5m2-8v10m14-10v14m2-23v15m4-6v4m2-12v13m10-6v9m2-9v5"/><path stroke="#c8d6ce" stroke-width="6.2" d="M0 5l6-10 7 10 9-14 4 18 5-18 4 19 6-15 2 13 2-13 9 8 4-16 10 22 1-21 9 20 2-19 6 16 5-12 8 14 8-20 10 24 5-16 6 9 7-11 6 16 9-21 3 22 5-12 3 12 5-14 2 16 8-22 8 12 10-7 9 13 2-16 2 21 3-14 6 12 8-15 1 6 5-12 5 19 4-21 6 13 5-10 6 13 3-9 1 4 6-10 9 17 9-16 4 16 5-17 7 18 8-10 7 12 9-16 6 10 9-11 5 9 10-11 3 17 9-14 9 14 5-12 8 12 6-9 7 7 8-3 6 8 8-11 8 10 7-12 6 13 10-14 9 17 6-15 3 4 3-14 6 17 4-7 2 3 9-4 7 9 8-15 5 10 3-13 9 19 10-11 8 4 2-8 9 14 9-18 2 12 3-5 4 15 6-15 5 14 4-12 3 17 7-24 1 14 9-11 2 10 3-9 9 14 8-10 9 11 5-18 10 18 3-17 10 13 1-14 5 11 4-13 4 13 2-12 9 22 9-19 10 13 10-17 5 19 3-10 4 14 10-19 9 17 8-11 4 11 2-21 10 19 4-22 2 18 5-19 8 21 5-17 7 17 7-8 3 14 4-19 3 12 4-4 6 5 3-15 3 20 3-15 6 13 1-16 5 12 2-10 3 13 10-18 8 12 4-8 3 19 3-24 5 18 4-14 6 14 4-19 7 17 4-7 6 5 7-13 4 22 3-19 4 17"/><path stroke="#c8d6ce" stroke-width="6.0" stroke-dasharray="0 4.0" d="M584-43v79m2-62v59m16-71v78m2-83v74m8-60v58"/><path stroke="#e0340f" stroke-width="3.4" d="M331-8l6 15 4-12 6 11 4-10 2 12 9-14 2 15 5-9"/><path stroke="#e0340f" stroke-width="5.6" d="M0 10l7-17 6 18 3-17 2 16 2-10 8 10 6-10 4 9 5-14 3 17 2-20 6 22 8-29M89 0l8 7 2-7 5 6 6-9M131-14l8 23 6-16 5 12 7-21 5 22 3-17 6 14 6-7 4 14 6-25 4 19 7-14 5 23 8-16 5 15 8-23 3 22 5-15 6 11 4-10 5 5 3-20 5 32 4-19 1 6 2-19 3 21 1-10 6 9 1-10 4 12 1-13 7 16 2-15M373 14l6-26 6 20 6-16 7 25 3-27M797 16l2-26 8 17 8-11 1 21 5-35 3 20 1-12 2 17 8-26 4 30 6-21 7 18 1-12 3 6 9-16 6 27 3-19 4 7 5-19 5 28 4-17 5 22 9-19 5 9 7-16 2 24 2-21 2 23 1-18 2 22 3-18 5 18 8-22 6 15 3-28M801-13l2 23 3-19M833-4l2 24M860 10l2-17 6 23M898 20l4-21 1 8 3-11 8 13 6-15"/></g>
<rect x="30.50" y="18.00" width="475.80" height="62.20" fill="none" stroke="#333" stroke-width="1"/>
<path d="M30.50 80.20v-3M30.50 18.00v3M107.24 80.20v-3M107.24 18.00v3M183.98 80.20v-3M183.98 18.00v3M260.73 80.20v-3M260.73 18.00v3M337.47 80.20v-3M337.47 18.00v3M414.21 80.20v-3M414.21 18.00v3M490.95 80.20v-3M490.95 18.00v3M30.50 49.10h3M506.30 49.10h-3" stroke="#333" stroke-width="1" fill="none"/>
<rect x="30.50" y="99.60" width="475.80" height="65.30" fill="none" stroke="#333" stroke-width="1"/>
<path d="M30.50 164.90v-3M30.50 99.60v3M107.24 164.90v-3M107.24 99.60v3M183.98 164.90v-3M183.98 99.60v3M260.73 164.90v-3M260.73 99.60v3M337.47 164.90v-3M337.47 99.60v3M414.21 164.90v-3M414.21 99.60v3M490.95 164.90v-3M490.95 99.60v3M30.50 132.25h3M506.30 132.25h-3" stroke="#333" stroke-width="1" fill="none"/>
<rect x="30.50" y="183.80" width="475.80" height="66.20" fill="none" stroke="#333" stroke-width="1"/>
<path d="M30.50 250.00v-3M30.50 183.80v3M107.24 250.00v-3M107.24 183.80v3M183.98 250.00v-3M183.98 183.80v3M260.73 250.00v-3M260.73 183.80v3M337.47 250.00v-3M337.47 183.80v3M414.21 250.00v-3M414.21 183.80v3M490.95 250.00v-3M490.95 183.80v3M30.50 216.90h3M506.30 216.90h-3" stroke="#333" stroke-width="1" fill="none"/>
<rect x="511.5" y="11.5" width="34" height="257" fill="#fff" stroke="#333" stroke-width="1"/>
<circle cx="520.3" cy="17.90" r="1.3" fill="#b89878"/>
<circle cx="520.3" cy="28.99" r="1.3" fill="#800030"/>
<circle cx="520.3" cy="40.08" r="1.3" fill="#00e020"/>
<circle cx="520.3" cy="51.17" r="1.3" fill="#50e0a8"/>
<circle cx="520.3" cy="62.26" r="1.3" fill="#1060f0"/>
<circle cx="520.3" cy="73.35" r="1.3" fill="#00d890"/>
<circle cx="520.3" cy="84.44" r="1.3" fill="#10e070"/>
<circle cx="520.3" cy="95.53" r="1.3" fill="#40e8f0"/>
<circle cx="520.3" cy="106.62" r="1.3" fill="#f02090"/>
<circle cx="520.3" cy="117.71" r="1.3" fill="#d01040"/>
<circle cx="520.3" cy="128.80" r="1.3" fill="#5040c0"/>
<circle cx="520.3" cy="139.89" r="1.3" fill="#1050e0"/>
<circle cx="520.3" cy="150.98" r="1.3" fill="#20d0f0"/>
<circle cx="520.3" cy="162.07" r="1.3" fill="#e04050"/>
<circle cx="520.3" cy="173.16" r="1.3" fill="#3080f0"/>
<circle cx="520.3" cy="184.25" r="1.3" fill="#f040c0"/>
<circle cx="520.3" cy="195.34" r="1.3" fill="#806020"/>
<circle cx="520.3" cy="206.43" r="1.3" fill="#20e060"/>
<circle cx="520.3" cy="217.52" r="1.3" fill="#a020f0"/>
<circle cx="520.3" cy="228.61" r="1.3" fill="#f02060"/>
<circle cx="520.3" cy="239.70" r="1.3" fill="#5050f0"/>
<circle cx="520.3" cy="250.79" r="1.3" fill="#c8d6ce"/>
<circle cx="520.3" cy="261.88" r="1.3" fill="#e0340f"/>
</svg>
<div class="t" style="left:181px;top:2.5px">Residual of orbit discontinuities at day boundaries</div>
<div class="xt" style="left:20.50px;top:81.60px">1</div>
<div class="xt" style="left:97.24px;top:81.60px">6</div>
<div class="xt" style="left:173.98px;top:81.60px">11</div>
<div class="xt" style="left:250.73px;top:81.60px">16</div>
<div class="xt" style="left:327.47px;top:81.60px">21</div>
<div class="xt" style="left:404.21px;top:81.60px">26</div>
<div class="xt" style="left:480.95px;top:81.60px">31</div>
<div class="yt" style="top:12.50px">0.1</div>
<div class="yt" style="top:43.60px">0</div>
<div class="yt" style="top:74.70px">-0.1</div>
<div class="yl" style="top:49.40px">Radial/m</div>
<div class="xt" style="left:20.50px;top:166.30px">1</div>
<div class="xt" style="left:97.24px;top:166.30px">6</div>
<div class="xt" style="left:173.98px;top:166.30px">11</div>
<div class="xt" style="left:250.73px;top:166.30px">16</div>
<div class="xt" style="left:327.47px;top:166.30px">21</div>
<div class="xt" style="left:404.21px;top:166.30px">26</div>
<div class="xt" style="left:480.95px;top:166.30px">31</div>
<div class="yt" style="top:94.10px">0.2</div>
<div class="yt" style="top:126.75px">0</div>
<div class="yt" style="top:159.40px">-0.2</div>
<div class="yl" style="top:132.25px">Along/m</div>
<div class="xt" style="left:20.50px;top:251.40px">1</div>
<div class="xt" style="left:97.24px;top:251.40px">6</div>
<div class="xt" style="left:173.98px;top:251.40px">11</div>
<div class="xt" style="left:250.73px;top:251.40px">16</div>
<div class="xt" style="left:327.47px;top:251.40px">21</div>
<div class="xt" style="left:404.21px;top:251.40px">26</div>
<div class="xt" style="left:480.95px;top:251.40px">31</div>
<div class="yt" style="top:178.30px">0.1</div>
<div class="yt" style="top:211.40px">0</div>
<div class="yt" style="top:244.50px">-0.1</div>
<div class="yl" style="top:216.90px">Cross/m</div>
<div class="lg" style="top:13.80px">R01</div>
<div class="lg" style="top:24.89px">R02</div>
<div class="lg" style="top:35.98px">R03</div>
<div class="lg" style="top:47.07px">R04</div>
<div class="lg" style="top:58.16px">R05</div>
<div class="lg" style="top:69.25px">R06</div>
<div class="lg" style="top:80.34px">R07</div>
<div class="lg" style="top:91.43px">R08</div>
<div class="lg" style="top:102.52px">R09</div>
<div class="lg" style="top:113.61px">R10</div>
<div class="lg" style="top:124.70px">R11</div>
<div class="lg" style="top:135.79px">R13</div>
<div class="lg" style="top:146.88px">R14</div>
<div class="lg" style="top:157.97px">R15</div>
<div class="lg" style="top:169.06px">R16</div>
<div class="lg" style="top:180.15px">R17</div>
<div class="lg" style="top:191.24px">R18</div>
<div class="lg" style="top:202.33px">R19</div>
<div class="lg" style="top:213.42px">R20</div>
<div class="lg" style="top:224.51px">R21</div>
<div class="lg" style="top:235.60px">R22</div>
<div class="lg" style="top:246.69px">R23</div>
<div class="lg" style="top:257.78px">R24</div>
<div class="xl" style="left:249px;top:262.8px">Time/Day</div>
</body></html>
